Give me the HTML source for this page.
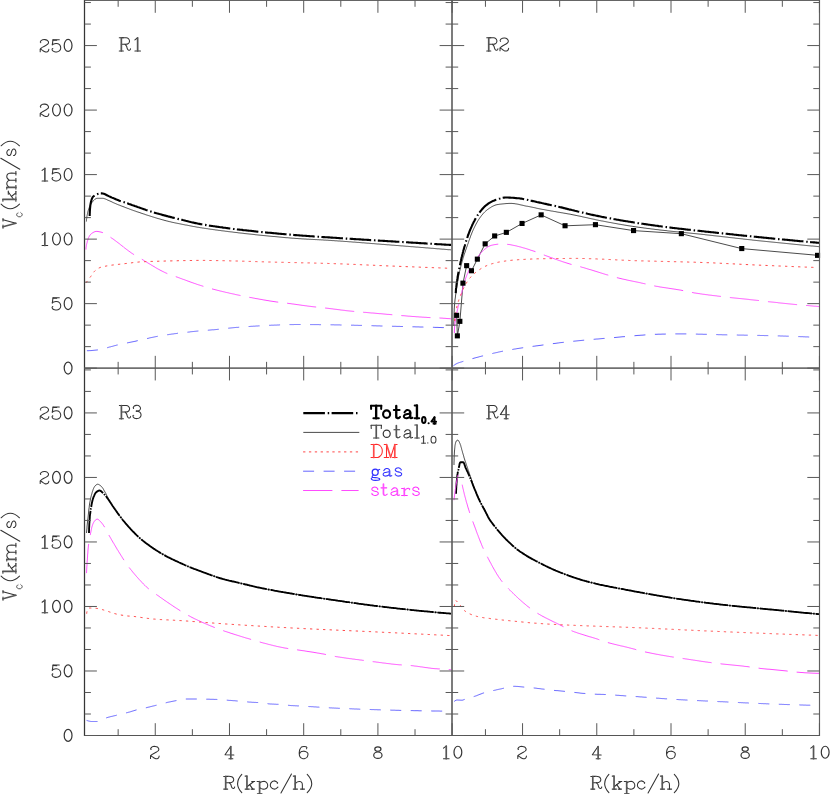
<!DOCTYPE html>
<html><head><meta charset="utf-8"><title>Rotation curves</title>
<style>
html,body{margin:0;padding:0;background:#fff;}
body{width:830px;height:794px;overflow:hidden;font-family:"Liberation Serif",serif;}
svg{display:block;will-change:transform;}
</style></head><body>
<svg width="830" height="794" viewBox="0 0 830 794">
<rect width="830" height="794" fill="#fff"/>
<path d="M86.4 221.5 L86.5 220.5 L86.5 219.5 L86.7 218.5 L86.8 217.5 L86.9 216.5 L87.1 215.5 L87.3 214.5 L87.5 213.5 L87.7 212.5 L87.9 211.6 L88.2 210.6 L88.5 209.6 L88.8 208.7 L89.2 207.7 L89.6 206.8 L90.0 205.9 L90.4 205.0 L90.9 204.1 L91.4 203.2 L92.0 202.4 L92.6 201.6 L93.3 200.8 L94.0 200.2 L94.8 199.4 L95.7 198.8 L96.6 198.4 L97.5 198.3 L98.5 198.3 L99.5 198.3 L100.5 198.3 L101.5 198.3 L102.5 198.3 L103.5 198.4 L104.5 198.7 L105.4 199.0 L106.4 199.4 L107.3 199.9 L108.2 200.3 L109.2 200.7 L110.1 201.1 L111.0 201.5 L111.9 201.9 L112.8 202.4 L113.7 202.8 L114.6 203.2 L115.6 203.6 L116.5 204.0 L117.4 204.4 L118.4 204.8 L119.3 205.1 L120.2 205.5 L121.2 205.9 L122.1 206.2 L123.0 206.6 L124.0 206.9 L124.9 207.3 L125.8 207.7 L126.8 208.0 L127.7 208.4 L128.7 208.7 L129.6 209.1 L130.5 209.4 L131.5 209.8 L132.4 210.1 L133.4 210.5 L134.3 210.8 L135.3 211.1 L136.2 211.5 L137.2 211.8 L138.1 212.1 L139.1 212.4 L140.0 212.7 L141.0 213.1 L141.9 213.4 L142.9 213.7 L143.8 214.0 L144.8 214.3 L145.7 214.7 L146.7 215.0 L147.7 215.3 L148.6 215.6 L149.6 215.9 L150.5 216.2 L151.5 216.5 L152.4 216.8 L153.4 217.1 L154.4 217.4 L155.3 217.7 L156.3 218.0 L157.2 218.3 L158.2 218.6 L159.2 218.8 L160.1 219.1 L161.1 219.4 L162.1 219.7 L163.0 219.9 L164.0 220.2 L165.0 220.5 L166.0 220.7 L166.9 221.0 L167.9 221.2 L168.9 221.5 L169.8 221.7 L170.8 221.9 L171.8 222.2 L172.8 222.4 L173.8 222.6 L174.7 222.8 L175.7 223.0 L176.7 223.2 L177.7 223.4 L178.7 223.6 L179.7 223.8 L180.7 224.0 L181.6 224.2 L182.6 224.4 L183.6 224.6 L184.6 224.8 L185.6 225.0 L186.6 225.1 L187.6 225.3 L188.5 225.5 L189.5 225.7 L190.5 225.9 L191.5 226.1 L192.5 226.3 L193.5 226.5 L194.5 226.6 L195.5 226.8 L196.4 227.0 L197.4 227.2 L198.4 227.3 L199.4 227.5 L200.4 227.7 L201.4 227.8 L202.4 228.0 L203.4 228.1 L204.4 228.3 L205.4 228.4 L206.4 228.6 L207.4 228.7 L208.4 228.9 L209.3 229.0 L210.3 229.2 L211.3 229.3 L212.3 229.4 L213.3 229.6 L214.3 229.7 L215.3 229.9 L216.3 230.0 L217.3 230.1 L218.3 230.3 L219.3 230.4 L220.3 230.5 L221.3 230.7 L222.3 230.8 L223.3 230.9 L224.3 231.0 L225.3 231.2 L226.3 231.3 L227.3 231.4 L228.3 231.6 L229.3 231.7 L230.3 231.8 L231.3 231.9 L232.3 232.0 L233.3 232.2 L234.2 232.3 L235.2 232.4 L236.2 232.5 L237.2 232.6 L238.2 232.8 L239.2 232.9 L240.2 233.0 L241.2 233.1 L242.2 233.2 L243.2 233.3 L244.2 233.5 L245.2 233.6 L246.2 233.7 L247.2 233.8 L248.2 233.9 L249.2 234.0 L250.2 234.1 L251.2 234.2 L252.2 234.3 L253.2 234.4 L254.2 234.5 L255.2 234.7 L256.2 234.8 L257.2 234.9 L258.2 235.0 L259.2 235.1 L260.2 235.2 L261.2 235.3 L262.2 235.4 L263.2 235.5 L264.2 235.6 L265.2 235.7 L266.2 235.8 L267.2 235.9 L268.2 236.0 L269.2 236.1 L270.2 236.2 L271.2 236.3 L272.2 236.4 L273.2 236.5 L274.2 236.5 L275.2 236.6 L276.2 236.7 L277.2 236.8 L278.2 236.9 L279.2 237.0 L280.2 237.1 L281.2 237.2 L282.2 237.3 L283.2 237.4 L284.2 237.5 L285.2 237.6 L286.2 237.7 L287.2 237.7 L288.2 237.8 L289.2 237.9 L290.2 238.0 L291.2 238.1 L292.2 238.2 L293.2 238.2 L294.2 238.3 L295.2 238.4 L296.2 238.5 L297.2 238.5 L298.2 238.6 L299.2 238.7 L300.2 238.7 L301.2 238.8 L302.2 238.9 L303.2 238.9 L304.2 239.0 L305.2 239.0 L306.2 239.1 L307.2 239.2 L308.3 239.2 L309.3 239.3 L310.3 239.3 L311.3 239.4 L312.3 239.4 L313.3 239.5 L314.3 239.5 L315.3 239.6 L316.3 239.6 L317.3 239.7 L318.3 239.7 L319.3 239.8 L320.3 239.8 L321.3 239.9 L322.3 239.9 L323.3 240.0 L324.3 240.1 L325.3 240.1 L326.3 240.2 L327.3 240.2 L328.3 240.3 L329.3 240.4 L330.3 240.4 L331.3 240.5 L332.3 240.6 L333.3 240.6 L334.3 240.7 L335.3 240.8 L336.3 240.8 L337.3 240.9 L338.3 241.0 L339.3 241.0 L340.3 241.1 L341.3 241.2 L342.3 241.2 L343.3 241.3 L344.3 241.4 L345.4 241.5 L346.4 241.5 L347.4 241.6 L348.4 241.7 L349.4 241.8 L350.4 241.8 L351.4 241.9 L352.4 242.0 L353.4 242.1 L354.4 242.1 L355.4 242.2 L356.4 242.3 L357.4 242.4 L358.4 242.4 L359.4 242.5 L360.4 242.6 L361.4 242.7 L362.4 242.8 L363.4 242.8 L364.4 242.9 L365.4 243.0 L366.4 243.1 L367.4 243.2 L368.4 243.2 L369.4 243.3 L370.4 243.4 L371.4 243.5 L372.4 243.6 L373.4 243.6 L374.4 243.7 L375.4 243.8 L376.4 243.9 L377.4 244.0 L378.4 244.0 L379.4 244.1 L380.4 244.2 L381.4 244.3 L382.4 244.4 L383.4 244.4 L384.4 244.5 L385.4 244.6 L386.4 244.7 L387.4 244.8 L388.4 244.8 L389.4 244.9 L390.4 245.0 L391.4 245.1 L392.4 245.2 L393.4 245.2 L394.4 245.3 L395.4 245.4 L396.4 245.5 L397.4 245.5 L398.4 245.6 L399.4 245.7 L400.4 245.8 L401.4 245.9 L402.4 245.9 L403.4 246.0 L404.4 246.1 L405.4 246.2 L406.4 246.3 L407.4 246.3 L408.4 246.4 L409.4 246.5 L410.4 246.6 L411.4 246.7 L412.5 246.7 L413.5 246.8 L414.5 246.9 L415.5 247.0 L416.5 247.1 L417.5 247.1 L418.5 247.2 L419.5 247.3 L420.5 247.4 L421.5 247.5 L422.5 247.5 L423.5 247.6 L424.5 247.7 L425.5 247.8 L426.5 247.9 L427.5 247.9 L428.5 248.0 L429.5 248.1 L430.5 248.2 L431.5 248.3 L432.5 248.3 L433.5 248.4 L434.5 248.5 L435.5 248.6 L436.5 248.7 L437.5 248.8 L438.5 248.8 L439.5 248.9 L440.5 249.0 L441.5 249.1 L442.5 249.2 L443.5 249.2 L444.5 249.3 L445.5 249.4 L446.5 249.5 L447.5 249.6 L448.5 249.7 L449.5 249.7 L450.5 249.8 L451.5 249.9" fill="none" stroke="#2a2a2a" stroke-width="0.85"/>
<path d="M89.7 215.9 L89.7 214.9 L89.7 213.9 L89.8 212.9 L89.8 211.8 L89.9 210.8 L89.9 209.8 L90.0 208.8 L90.1 207.8 L90.2 206.9 L90.3 205.9 L90.4 204.9 L90.6 203.8 L90.8 202.8 L91.0 201.7 L91.3 200.7 L91.6 199.7 L91.9 198.8 L92.3 197.9 L92.7 197.1 L93.3 196.5 L94.2 195.9 L95.1 195.3 L96.0 194.8 L96.9 194.4 L97.8 194.0 L98.8 193.8 L99.8 193.6 L100.8 193.4 L101.7 193.4 L102.7 193.5 L103.7 193.8 L104.6 194.1 L105.5 194.5 L106.5 195.0 L107.4 195.5 L108.3 195.9 L109.2 196.4 L110.2 196.8 L111.1 197.2 L112.0 197.6 L113.0 198.0 L113.9 198.4 L114.8 198.8 L115.7 199.2 L116.6 199.6 L117.6 199.9 L118.5 200.3 L119.4 200.7 L120.4 201.1 L121.3 201.4 L122.3 201.7 L123.2 202.0 L124.2 202.3 L125.1 202.6 L126.1 203.0 L127.0 203.3 L128.0 203.6 L128.9 204.0 L129.9 204.3 L130.8 204.6 L131.8 205.0 L132.7 205.3 L133.7 205.6 L134.6 206.0 L135.6 206.3 L136.5 206.6 L137.5 207.0 L138.4 207.3 L139.4 207.6 L140.3 207.9 L141.3 208.3 L142.2 208.6 L143.2 208.9 L144.1 209.2 L145.1 209.6 L146.0 209.9 L147.0 210.2 L147.9 210.5 L148.9 210.9 L149.8 211.2 L150.8 211.5 L151.7 211.8 L152.7 212.1 L153.6 212.4 L154.6 212.7 L155.6 213.0 L156.5 213.3 L157.5 213.5 L158.5 213.8 L159.4 214.1 L160.4 214.3 L161.4 214.6 L162.3 214.9 L163.3 215.1 L164.3 215.4 L165.3 215.6 L166.2 215.9 L167.2 216.1 L168.2 216.4 L169.1 216.6 L170.1 216.9 L171.1 217.1 L172.1 217.4 L173.0 217.6 L174.0 217.9 L175.0 218.1 L176.0 218.4 L176.9 218.6 L177.9 218.9 L178.9 219.1 L179.8 219.3 L180.8 219.6 L181.8 219.8 L182.8 220.1 L183.7 220.3 L184.7 220.5 L185.7 220.8 L186.7 221.0 L187.7 221.2 L188.6 221.5 L189.6 221.7 L190.6 222.0 L191.6 222.2 L192.5 222.4 L193.5 222.6 L194.5 222.9 L195.5 223.1 L196.5 223.3 L197.4 223.5 L198.4 223.7 L199.4 223.9 L200.4 224.1 L201.4 224.3 L202.4 224.4 L203.4 224.6 L204.3 224.8 L205.3 224.9 L206.3 225.1 L207.3 225.3 L208.3 225.4 L209.3 225.6 L210.3 225.7 L211.3 225.9 L212.3 226.0 L213.3 226.2 L214.3 226.3 L215.3 226.5 L216.3 226.6 L217.3 226.8 L218.2 226.9 L219.2 227.0 L220.2 227.2 L221.2 227.3 L222.2 227.4 L223.2 227.6 L224.2 227.7 L225.2 227.8 L226.2 228.0 L227.2 228.1 L228.2 228.2 L229.2 228.4 L230.2 228.5 L231.2 228.6 L232.2 228.7 L233.2 228.9 L234.2 229.0 L235.2 229.1 L236.2 229.2 L237.2 229.4 L238.2 229.5 L239.2 229.6 L240.2 229.7 L241.2 229.8 L242.2 229.9 L243.2 230.1 L244.2 230.2 L245.2 230.3 L246.2 230.4 L247.2 230.5 L248.2 230.6 L249.2 230.7 L250.2 230.8 L251.2 230.9 L252.2 231.0 L253.1 231.1 L254.1 231.3 L255.1 231.4 L256.1 231.5 L257.1 231.6 L258.1 231.7 L259.1 231.8 L260.1 231.9 L261.1 232.0 L262.1 232.1 L263.1 232.2 L264.1 232.3 L265.1 232.4 L266.1 232.5 L267.1 232.6 L268.1 232.7 L269.1 232.8 L270.1 232.8 L271.1 232.9 L272.1 233.0 L273.1 233.1 L274.1 233.2 L275.1 233.3 L276.1 233.4 L277.1 233.5 L278.1 233.6 L279.1 233.7 L280.1 233.8 L281.1 233.9 L282.1 234.0 L283.1 234.0 L284.1 234.1 L285.1 234.2 L286.1 234.3 L287.1 234.4 L288.1 234.5 L289.1 234.6 L290.1 234.6 L291.1 234.7 L292.1 234.8 L293.1 234.9 L294.1 235.0 L295.1 235.1 L296.1 235.1 L297.2 235.2 L298.2 235.3 L299.2 235.4 L300.2 235.5 L301.2 235.5 L302.2 235.6 L303.2 235.7 L304.2 235.7 L305.2 235.8 L306.2 235.9 L307.2 236.0 L308.2 236.0 L309.2 236.1 L310.2 236.2 L311.2 236.2 L312.2 236.3 L313.2 236.4 L314.2 236.5 L315.2 236.5 L316.2 236.6 L317.2 236.7 L318.2 236.7 L319.2 236.8 L320.2 236.9 L321.2 236.9 L322.2 237.0 L323.2 237.1 L324.2 237.1 L325.2 237.2 L326.2 237.2 L327.2 237.3 L328.2 237.4 L329.2 237.4 L330.2 237.5 L331.2 237.6 L332.2 237.6 L333.2 237.7 L334.2 237.8 L335.2 237.8 L336.2 237.9 L337.2 238.0 L338.2 238.0 L339.2 238.1 L340.2 238.2 L341.2 238.2 L342.2 238.3 L343.2 238.4 L344.2 238.4 L345.2 238.5 L346.2 238.6 L347.2 238.6 L348.3 238.7 L349.3 238.7 L350.3 238.8 L351.3 238.9 L352.3 238.9 L353.3 239.0 L354.3 239.1 L355.3 239.1 L356.3 239.2 L357.3 239.2 L358.3 239.3 L359.3 239.4 L360.3 239.4 L361.3 239.5 L362.3 239.6 L363.3 239.6 L364.3 239.7 L365.3 239.7 L366.3 239.8 L367.3 239.9 L368.3 239.9 L369.3 240.0 L370.3 240.1 L371.3 240.1 L372.3 240.2 L373.3 240.2 L374.3 240.3 L375.3 240.4 L376.3 240.4 L377.3 240.5 L378.3 240.6 L379.3 240.6 L380.3 240.7 L381.3 240.7 L382.3 240.8 L383.3 240.9 L384.3 240.9 L385.3 241.0 L386.3 241.0 L387.3 241.1 L388.3 241.2 L389.3 241.2 L390.4 241.3 L391.4 241.4 L392.4 241.4 L393.4 241.5 L394.4 241.5 L395.4 241.6 L396.4 241.7 L397.4 241.7 L398.4 241.8 L399.4 241.8 L400.4 241.9 L401.4 242.0 L402.4 242.0 L403.4 242.1 L404.4 242.2 L405.4 242.2 L406.4 242.3 L407.4 242.3 L408.4 242.4 L409.4 242.5 L410.4 242.5 L411.4 242.6 L412.4 242.6 L413.4 242.7 L414.4 242.8 L415.4 242.8 L416.4 242.9 L417.4 242.9 L418.4 243.0 L419.4 243.1 L420.4 243.1 L421.4 243.2 L422.4 243.3 L423.4 243.3 L424.4 243.4 L425.4 243.4 L426.4 243.5 L427.4 243.6 L428.4 243.6 L429.4 243.7 L430.4 243.7 L431.5 243.8 L432.5 243.9 L433.5 243.9 L434.5 244.0 L435.5 244.0 L436.5 244.1 L437.5 244.2 L438.5 244.2 L439.5 244.3 L440.5 244.3 L441.5 244.4 L442.5 244.5 L443.5 244.5 L444.5 244.6 L445.5 244.6 L446.5 244.7 L447.5 244.8 L448.5 244.8 L449.5 244.9 L450.5 244.9 L451.5 245.0" fill="none" stroke="#000" stroke-width="2.1" stroke-dasharray="21.6 2.8 1.5 2.4"/>
<path d="M86.0 249.5 L86.0 248.5 L86.1 247.4 L86.3 246.4 L86.4 245.4 L86.6 244.4 L86.8 243.5 L87.1 242.5 L87.3 241.5 L87.6 240.6 L87.9 239.6 L88.2 238.6 L88.6 237.6 L89.1 236.7 L89.6 235.8 L90.1 235.0 L90.7 234.3 L91.4 233.7 L92.2 233.1 L93.1 232.5 L94.1 232.0 L95.1 231.6 L96.1 231.4 L97.0 231.4 L98.0 231.5 L99.0 231.7 L100.0 231.9 L101.0 232.1 L102.0 232.4 L103.0 232.7 L103.9 233.0 L104.7 233.5 L105.6 234.0 L106.5 234.5 L107.3 235.1 L108.2 235.7 L109.0 236.3 L109.8 236.9 L110.7 237.4 L111.5 238.0 L112.3 238.5 L113.2 239.1 L114.0 239.7 L114.8 240.3 L115.6 240.9 L116.4 241.5 L117.2 242.1 L118.0 242.7 L118.8 243.3 L119.6 243.9 L120.4 244.6 L121.2 245.2 L122.0 245.8 L122.8 246.4 L123.5 247.1 L124.3 247.7 L125.1 248.3 L125.9 248.9 L126.7 249.5 L127.5 250.1 L128.3 250.7 L129.1 251.3 L130.0 251.9 L130.8 252.5 L131.6 253.1 L132.4 253.6 L133.3 254.2 L134.1 254.7 L135.0 255.3 L135.8 255.8 L136.7 256.3 L137.5 256.8 L138.4 257.3 L139.3 257.8 L140.2 258.3 L141.0 258.8 L141.9 259.3 L142.8 259.8 L143.6 260.3 L144.5 260.9 L145.4 261.4 L146.2 261.9 L147.1 262.4 L147.9 263.0 L148.8 263.5 L149.7 264.0 L150.5 264.5 L151.4 265.1 L152.3 265.6 L153.1 266.1 L154.0 266.6 L154.9 267.1 L155.7 267.7 L156.6 268.2 L157.5 268.7 L158.4 269.2 L159.2 269.6 L160.1 270.1 L161.0 270.6 L161.9 271.0 L162.8 271.5 L163.7 271.9 L164.6 272.4 L165.5 272.8 L166.4 273.2 L167.3 273.6 L168.2 273.9 L169.2 274.3 L170.1 274.6 L171.1 275.0 L172.0 275.3 L173.0 275.6 L173.9 276.0 L174.9 276.3 L175.8 276.6 L176.8 277.0 L177.7 277.3 L178.7 277.7 L179.6 278.0 L180.5 278.4 L181.5 278.7 L182.4 279.1 L183.4 279.4 L184.3 279.7 L185.3 280.1 L186.2 280.4 L187.1 280.8 L188.1 281.1 L189.0 281.5 L190.0 281.8 L190.9 282.2 L191.9 282.5 L192.8 282.8 L193.8 283.2 L194.7 283.5 L195.7 283.8 L196.6 284.2 L197.6 284.5 L198.5 284.8 L199.5 285.1 L200.4 285.4 L201.4 285.7 L202.3 286.0 L203.3 286.3 L204.2 286.6 L205.2 286.9 L206.2 287.2 L207.1 287.5 L208.1 287.8 L209.1 288.1 L210.0 288.3 L211.0 288.6 L212.0 288.9 L212.9 289.1 L213.9 289.4 L214.9 289.6 L215.9 289.9 L216.8 290.1 L217.8 290.4 L218.8 290.6 L219.8 290.9 L220.7 291.1 L221.7 291.3 L222.7 291.6 L223.7 291.8 L224.6 292.0 L225.6 292.3 L226.6 292.5 L227.6 292.7 L228.6 292.9 L229.5 293.2 L230.5 293.4 L231.5 293.6 L232.5 293.8 L233.5 294.0 L234.4 294.2 L235.4 294.5 L236.4 294.7 L237.4 294.9 L238.4 295.1 L239.4 295.3 L240.3 295.5 L241.3 295.7 L242.3 295.9 L243.3 296.1 L244.3 296.3 L245.3 296.5 L246.3 296.7 L247.2 296.9 L248.2 297.1 L249.2 297.3 L250.2 297.5 L251.2 297.6 L252.2 297.8 L253.2 298.0 L254.2 298.2 L255.1 298.4 L256.1 298.6 L257.1 298.7 L258.1 298.9 L259.1 299.1 L260.1 299.3 L261.1 299.4 L262.1 299.6 L263.1 299.8 L264.0 300.0 L265.0 300.1 L266.0 300.3 L267.0 300.5 L268.0 300.6 L269.0 300.8 L270.0 301.0 L271.0 301.1 L272.0 301.3 L273.0 301.4 L274.0 301.6 L275.0 301.7 L276.0 301.9 L276.9 302.0 L277.9 302.1 L278.9 302.3 L279.9 302.4 L280.9 302.5 L281.9 302.6 L282.9 302.7 L283.9 302.8 L284.9 303.0 L285.9 303.1 L286.9 303.2 L287.9 303.3 L288.9 303.5 L289.9 303.6 L290.9 303.7 L291.9 303.9 L292.9 304.0 L293.9 304.1 L294.9 304.3 L295.9 304.4 L296.9 304.6 L297.9 304.7 L298.9 304.8 L299.9 305.0 L300.9 305.1 L301.9 305.3 L302.8 305.4 L303.8 305.5 L304.8 305.7 L305.8 305.8 L306.8 305.9 L307.8 306.1 L308.8 306.2 L309.8 306.3 L310.8 306.4 L311.8 306.6 L312.8 306.7 L313.8 306.8 L314.8 306.9 L315.8 307.0 L316.8 307.1 L317.8 307.3 L318.8 307.4 L319.8 307.5 L320.8 307.6 L321.8 307.7 L322.8 307.8 L323.8 307.9 L324.8 308.0 L325.8 308.1 L326.8 308.2 L327.8 308.3 L328.8 308.4 L329.8 308.6 L330.8 308.7 L331.8 308.8 L332.8 308.9 L333.8 309.1 L334.8 309.2 L335.8 309.3 L336.8 309.4 L337.8 309.6 L338.8 309.7 L339.8 309.8 L340.8 310.0 L341.7 310.1 L342.7 310.2 L343.7 310.3 L344.7 310.4 L345.7 310.6 L346.7 310.7 L347.7 310.8 L348.7 310.9 L349.7 311.0 L350.7 311.1 L351.7 311.2 L352.7 311.3 L353.7 311.4 L354.7 311.5 L355.7 311.6 L356.7 311.7 L357.7 311.8 L358.7 311.8 L359.7 311.9 L360.7 312.0 L361.7 312.1 L362.7 312.2 L363.7 312.3 L364.7 312.4 L365.7 312.4 L366.7 312.5 L367.7 312.6 L368.7 312.7 L369.7 312.8 L370.7 312.9 L371.7 313.0 L372.7 313.0 L373.8 313.1 L374.8 313.2 L375.8 313.3 L376.8 313.4 L377.8 313.5 L378.8 313.6 L379.8 313.7 L380.8 313.7 L381.8 313.8 L382.8 313.9 L383.8 314.0 L384.8 314.1 L385.8 314.2 L386.8 314.3 L387.8 314.4 L388.8 314.4 L389.8 314.5 L390.8 314.6 L391.8 314.7 L392.8 314.8 L393.8 314.9 L394.8 315.0 L395.8 315.1 L396.8 315.2 L397.8 315.3 L398.8 315.3 L399.8 315.4 L400.8 315.5 L401.8 315.6 L402.8 315.7 L403.8 315.7 L404.8 315.8 L405.8 315.9 L406.8 316.0 L407.8 316.1 L408.8 316.2 L409.8 316.2 L410.8 316.3 L411.8 316.4 L412.8 316.5 L413.8 316.5 L414.8 316.6 L415.8 316.7 L416.8 316.8 L417.8 316.8 L418.8 316.9 L419.8 317.0 L420.8 317.0 L421.8 317.1 L422.8 317.2 L423.8 317.2 L424.8 317.3 L425.8 317.3 L426.8 317.4 L427.8 317.5 L428.8 317.5 L429.8 317.6 L430.8 317.6 L431.8 317.6 L432.9 317.7 L433.9 317.7 L434.9 317.8 L435.9 317.8 L436.9 317.8 L437.9 317.9 L438.9 317.9 L439.9 318.0 L440.9 318.1 L441.9 318.1 L442.9 318.2 L443.9 318.3 L444.9 318.3 L445.9 318.4 L446.9 318.5 L447.9 318.6 L448.9 318.6 L449.9 318.7 L450.9 318.8 L451.9 318.9" fill="none" stroke="#ff4cff" stroke-width="1" stroke-dasharray="29.3 9"/>
<path d="M86.0 282.8 L86.6 282.0 L87.2 281.2 L87.8 280.4 L88.4 279.6 L89.0 278.8 L89.6 278.0 L90.2 277.2 L90.8 276.4 L91.4 275.5 L92.0 274.7 L92.6 273.8 L93.1 273.0 L93.7 272.2 L94.4 271.4 L95.1 270.7 L95.8 270.1 L96.6 269.4 L97.4 268.8 L98.3 268.3 L99.2 267.9 L100.1 267.5 L101.0 267.2 L102.0 267.0 L102.9 266.7 L103.9 266.5 L104.9 266.3 L105.9 266.1 L106.9 265.9 L108.0 265.8 L109.0 265.6 L110.0 265.4 L110.9 265.3 L111.9 265.1 L112.9 265.0 L113.9 264.9 L114.9 264.8 L115.9 264.6 L116.9 264.5 L117.9 264.4 L118.9 264.3 L119.9 264.2 L120.9 264.1 L121.9 264.0 L122.9 263.9 L123.9 263.8 L124.9 263.6 L125.9 263.5 L126.9 263.4 L127.9 263.3 L128.9 263.2 L129.9 263.0 L130.9 262.9 L131.9 262.8 L132.9 262.6 L133.9 262.5 L134.9 262.4 L135.9 262.3 L136.9 262.2 L137.9 262.1 L138.9 262.0 L139.9 261.9 L140.9 261.9 L141.9 261.8 L142.9 261.8 L143.9 261.7 L144.9 261.7 L145.9 261.6 L146.9 261.6 L147.9 261.6 L148.9 261.5 L149.9 261.5 L150.9 261.4 L151.9 261.4 L152.9 261.4 L153.9 261.4 L155.0 261.3 L156.0 261.3 L157.0 261.3 L158.0 261.2 L159.0 261.2 L160.0 261.2 L161.0 261.1 L162.0 261.1 L163.0 261.1 L164.0 261.1 L165.0 261.0 L166.0 261.0 L167.0 261.0 L168.0 261.0 L169.0 260.9 L170.0 260.9 L171.0 260.9 L172.0 260.9 L173.0 260.8 L174.0 260.8 L175.0 260.8 L176.0 260.8 L177.0 260.8 L178.1 260.7 L179.1 260.7 L180.1 260.7 L181.1 260.7 L182.1 260.6 L183.1 260.6 L184.1 260.6 L185.1 260.6 L186.1 260.6 L187.1 260.5 L188.1 260.5 L189.1 260.5 L190.1 260.5 L191.1 260.5 L192.1 260.5 L193.1 260.4 L194.1 260.4 L195.1 260.4 L196.1 260.4 L197.1 260.4 L198.1 260.4 L199.2 260.4 L200.2 260.4 L201.2 260.4 L202.2 260.4 L203.2 260.4 L204.2 260.4 L205.2 260.4 L206.2 260.4 L207.2 260.4 L208.2 260.4 L209.2 260.5 L210.2 260.5 L211.2 260.5 L212.2 260.5 L213.2 260.5 L214.2 260.5 L215.2 260.6 L216.2 260.6 L217.2 260.6 L218.2 260.6 L219.2 260.6 L220.2 260.7 L221.3 260.7 L222.3 260.7 L223.3 260.7 L224.3 260.7 L225.3 260.8 L226.3 260.8 L227.3 260.8 L228.3 260.8 L229.3 260.8 L230.3 260.9 L231.3 260.9 L232.3 260.9 L233.3 260.9 L234.3 261.0 L235.3 261.0 L236.3 261.0 L237.3 261.0 L238.3 261.1 L239.3 261.1 L240.3 261.1 L241.3 261.1 L242.3 261.2 L243.4 261.2 L244.4 261.2 L245.4 261.3 L246.4 261.3 L247.4 261.3 L248.4 261.4 L249.4 261.4 L250.4 261.4 L251.4 261.5 L252.4 261.5 L253.4 261.5 L254.4 261.6 L255.4 261.6 L256.4 261.6 L257.4 261.7 L258.4 261.7 L259.4 261.7 L260.4 261.8 L261.4 261.8 L262.4 261.8 L263.4 261.8 L264.4 261.9 L265.4 261.9 L266.4 261.9 L267.5 262.0 L268.5 262.0 L269.5 262.0 L270.5 262.0 L271.5 262.1 L272.5 262.1 L273.5 262.1 L274.5 262.1 L275.5 262.2 L276.5 262.2 L277.5 262.2 L278.5 262.2 L279.5 262.3 L280.5 262.3 L281.5 262.3 L282.5 262.3 L283.5 262.3 L284.5 262.4 L285.5 262.4 L286.5 262.4 L287.5 262.4 L288.5 262.5 L289.6 262.5 L290.6 262.5 L291.6 262.5 L292.6 262.6 L293.6 262.6 L294.6 262.6 L295.6 262.6 L296.6 262.6 L297.6 262.7 L298.6 262.7 L299.6 262.7 L300.6 262.7 L301.6 262.8 L302.6 262.8 L303.6 262.8 L304.6 262.8 L305.6 262.9 L306.6 262.9 L307.6 262.9 L308.6 262.9 L309.6 262.9 L310.6 263.0 L311.7 263.0 L312.7 263.0 L313.7 263.0 L314.7 263.1 L315.7 263.1 L316.7 263.1 L317.7 263.1 L318.7 263.2 L319.7 263.2 L320.7 263.2 L321.7 263.3 L322.7 263.3 L323.7 263.3 L324.7 263.3 L325.7 263.4 L326.7 263.4 L327.7 263.4 L328.7 263.5 L329.7 263.5 L330.7 263.5 L331.7 263.6 L332.7 263.6 L333.7 263.6 L334.7 263.7 L335.8 263.7 L336.8 263.7 L337.8 263.8 L338.8 263.8 L339.8 263.8 L340.8 263.9 L341.8 263.9 L342.8 263.9 L343.8 264.0 L344.8 264.0 L345.8 264.1 L346.8 264.1 L347.8 264.2 L348.8 264.2 L349.8 264.2 L350.8 264.3 L351.8 264.3 L352.8 264.4 L353.8 264.4 L354.8 264.4 L355.8 264.5 L356.8 264.5 L357.8 264.6 L358.8 264.6 L359.8 264.7 L360.8 264.7 L361.9 264.8 L362.9 264.8 L363.9 264.8 L364.9 264.9 L365.9 264.9 L366.9 265.0 L367.9 265.0 L368.9 265.1 L369.9 265.1 L370.9 265.2 L371.9 265.2 L372.9 265.2 L373.9 265.3 L374.9 265.3 L375.9 265.4 L376.9 265.4 L377.9 265.5 L378.9 265.5 L379.9 265.6 L380.9 265.6 L381.9 265.6 L382.9 265.7 L383.9 265.7 L384.9 265.8 L385.9 265.8 L386.9 265.9 L388.0 265.9 L389.0 265.9 L390.0 266.0 L391.0 266.0 L392.0 266.1 L393.0 266.1 L394.0 266.1 L395.0 266.2 L396.0 266.2 L397.0 266.3 L398.0 266.3 L399.0 266.3 L400.0 266.4 L401.0 266.4 L402.0 266.5 L403.0 266.5 L404.0 266.5 L405.0 266.6 L406.0 266.6 L407.0 266.7 L408.0 266.7 L409.0 266.7 L410.0 266.8 L411.0 266.8 L412.0 266.8 L413.1 266.9 L414.1 266.9 L415.1 267.0 L416.1 267.0 L417.1 267.0 L418.1 267.1 L419.1 267.1 L420.1 267.2 L421.1 267.2 L422.1 267.2 L423.1 267.3 L424.1 267.3 L425.1 267.4 L426.1 267.4 L427.1 267.4 L428.1 267.5 L429.1 267.5 L430.1 267.5 L431.1 267.6 L432.1 267.6 L433.1 267.7 L434.1 267.7 L435.1 267.7 L436.1 267.8 L437.1 267.8 L438.2 267.8 L439.2 267.9 L440.2 267.9 L441.2 268.0 L442.2 268.0 L443.2 268.0 L444.2 268.1 L445.2 268.1 L446.2 268.2 L447.2 268.2 L448.2 268.2 L449.2 268.3 L450.2 268.3" fill="none" stroke="#ff4646" stroke-width="1.0" stroke-dasharray="2.3 4.25"/>
<path d="M86.9 350.7 L87.9 350.7 L88.9 350.7 L89.9 350.6 L90.9 350.6 L91.9 350.5 L92.9 350.4 L93.9 350.3 L94.9 350.2 L95.9 350.1 L96.9 350.0 L97.9 349.9 L98.9 349.8 L99.9 349.6 L100.8 349.3 L101.8 349.1 L102.8 348.8 L103.8 348.6 L104.7 348.3 L105.7 348.0 L106.7 347.8 L107.7 347.6 L108.6 347.3 L109.6 347.0 L110.6 346.8 L111.5 346.5 L112.5 346.3 L113.5 346.0 L114.5 345.7 L115.4 345.5 L116.4 345.2 L117.4 345.0 L118.4 344.8 L119.3 344.5 L120.3 344.3 L121.3 344.1 L122.3 343.9 L123.2 343.7 L124.2 343.5 L125.2 343.3 L126.2 343.1 L127.2 342.9 L128.2 342.7 L129.1 342.5 L130.1 342.3 L131.1 342.1 L132.1 341.9 L133.1 341.7 L134.1 341.5 L135.0 341.3 L136.0 341.1 L137.0 340.8 L138.0 340.6 L139.0 340.4 L139.9 340.2 L140.9 340.0 L141.9 339.7 L142.9 339.5 L143.9 339.3 L144.8 339.1 L145.8 338.8 L146.8 338.6 L147.8 338.4 L148.8 338.2 L149.7 337.9 L150.7 337.7 L151.7 337.5 L152.7 337.3 L153.7 337.1 L154.6 336.9 L155.6 336.7 L156.6 336.5 L157.6 336.3 L158.6 336.2 L159.6 336.0 L160.6 335.8 L161.5 335.7 L162.5 335.5 L163.5 335.3 L164.5 335.2 L165.5 335.0 L166.5 334.9 L167.5 334.7 L168.5 334.6 L169.5 334.4 L170.5 334.3 L171.5 334.1 L172.5 334.0 L173.5 333.9 L174.5 333.7 L175.5 333.6 L176.4 333.5 L177.4 333.3 L178.4 333.2 L179.4 333.1 L180.4 333.0 L181.4 332.9 L182.4 332.7 L183.4 332.6 L184.4 332.5 L185.4 332.4 L186.4 332.3 L187.4 332.2 L188.4 332.1 L189.4 332.0 L190.4 331.8 L191.4 331.7 L192.4 331.6 L193.4 331.5 L194.4 331.4 L195.4 331.3 L196.4 331.2 L197.4 331.1 L198.4 331.0 L199.4 331.0 L200.4 330.9 L201.4 330.8 L202.4 330.7 L203.4 330.6 L204.4 330.5 L205.4 330.4 L206.4 330.3 L207.4 330.3 L208.4 330.2 L209.4 330.1 L210.4 330.0 L211.4 329.9 L212.4 329.8 L213.4 329.8 L214.4 329.7 L215.4 329.6 L216.4 329.5 L217.4 329.4 L218.4 329.3 L219.4 329.2 L220.4 329.1 L221.4 329.0 L222.4 328.9 L223.4 328.8 L224.4 328.7 L225.4 328.6 L226.4 328.5 L227.4 328.4 L228.4 328.2 L229.4 328.1 L230.4 328.0 L231.4 327.9 L232.4 327.8 L233.4 327.7 L234.4 327.6 L235.4 327.5 L236.4 327.4 L237.4 327.4 L238.4 327.3 L239.4 327.2 L240.4 327.1 L241.4 327.0 L242.4 327.0 L243.4 326.9 L244.4 326.8 L245.4 326.7 L246.4 326.7 L247.4 326.6 L248.4 326.5 L249.4 326.5 L250.4 326.4 L251.4 326.3 L252.4 326.3 L253.4 326.2 L254.4 326.2 L255.4 326.1 L256.4 326.0 L257.4 326.0 L258.4 325.9 L259.4 325.9 L260.4 325.8 L261.4 325.7 L262.4 325.7 L263.4 325.6 L264.4 325.6 L265.4 325.5 L266.4 325.5 L267.4 325.4 L268.4 325.4 L269.4 325.3 L270.4 325.3 L271.4 325.2 L272.4 325.2 L273.4 325.2 L274.4 325.1 L275.4 325.1 L276.4 325.1 L277.4 325.0 L278.4 325.0 L279.4 324.9 L280.4 324.9 L281.4 324.9 L282.4 324.8 L283.4 324.8 L284.5 324.8 L285.5 324.7 L286.5 324.7 L287.5 324.7 L288.5 324.7 L289.5 324.6 L290.5 324.6 L291.5 324.6 L292.5 324.6 L293.5 324.6 L294.5 324.5 L295.5 324.5 L296.5 324.5 L297.5 324.5 L298.5 324.5 L299.5 324.5 L300.5 324.5 L301.5 324.5 L302.5 324.5 L303.5 324.5 L304.5 324.5 L305.5 324.5 L306.5 324.5 L307.5 324.5 L308.5 324.5 L309.5 324.5 L310.5 324.6 L311.5 324.6 L312.5 324.6 L313.5 324.6 L314.6 324.6 L315.6 324.6 L316.6 324.6 L317.6 324.6 L318.6 324.6 L319.6 324.7 L320.6 324.7 L321.6 324.7 L322.6 324.7 L323.6 324.7 L324.6 324.7 L325.6 324.7 L326.6 324.7 L327.6 324.8 L328.6 324.8 L329.6 324.8 L330.6 324.8 L331.6 324.8 L332.6 324.8 L333.6 324.8 L334.6 324.9 L335.6 324.9 L336.6 324.9 L337.6 324.9 L338.6 324.9 L339.6 324.9 L340.6 325.0 L341.6 325.0 L342.7 325.0 L343.7 325.0 L344.7 325.0 L345.7 325.1 L346.7 325.1 L347.7 325.1 L348.7 325.1 L349.7 325.2 L350.7 325.2 L351.7 325.2 L352.7 325.2 L353.7 325.2 L354.7 325.3 L355.7 325.3 L356.7 325.3 L357.7 325.3 L358.7 325.4 L359.7 325.4 L360.7 325.4 L361.7 325.4 L362.7 325.5 L363.7 325.5 L364.7 325.5 L365.7 325.6 L366.7 325.6 L367.7 325.6 L368.7 325.6 L369.7 325.7 L370.7 325.7 L371.7 325.7 L372.7 325.7 L373.8 325.8 L374.8 325.8 L375.8 325.8 L376.8 325.9 L377.8 325.9 L378.8 325.9 L379.8 325.9 L380.8 326.0 L381.8 326.0 L382.8 326.0 L383.8 326.0 L384.8 326.1 L385.8 326.1 L386.8 326.1 L387.8 326.1 L388.8 326.2 L389.8 326.2 L390.8 326.2 L391.8 326.2 L392.8 326.3 L393.8 326.3 L394.8 326.3 L395.8 326.3 L396.8 326.4 L397.8 326.4 L398.8 326.4 L399.8 326.4 L400.8 326.5 L401.8 326.5 L402.8 326.5 L403.8 326.5 L404.9 326.6 L405.9 326.6 L406.9 326.6 L407.9 326.7 L408.9 326.7 L409.9 326.7 L410.9 326.7 L411.9 326.8 L412.9 326.8 L413.9 326.8 L414.9 326.8 L415.9 326.9 L416.9 326.9 L417.9 326.9 L418.9 326.9 L419.9 327.0 L420.9 327.0 L421.9 327.0 L422.9 327.0 L423.9 327.1 L424.9 327.1 L425.9 327.1 L426.9 327.2 L427.9 327.2 L428.9 327.2 L429.9 327.2 L430.9 327.3 L431.9 327.3 L432.9 327.3 L433.9 327.3 L434.9 327.4 L436.0 327.4 L437.0 327.4 L438.0 327.4 L439.0 327.5 L440.0 327.5 L441.0 327.5 L442.0 327.6 L443.0 327.6 L444.0 327.6 L445.0 327.6 L446.0 327.7 L447.0 327.7 L448.0 327.7 L449.0 327.7 L450.0 327.8 L451.0 327.8" fill="none" stroke="#6464ff" stroke-width="1" stroke-dasharray="11 9.5"/>
<path d="M453.8 326.0 L453.8 325.0 L453.8 324.0 L453.8 323.0 L453.8 322.0 L453.9 321.0 L453.9 320.0 L453.9 319.0 L453.9 318.0 L454.0 317.0 L454.0 316.0 L454.0 315.0 L454.0 314.0 L454.1 313.0 L454.1 312.0 L454.2 311.0 L454.2 310.0 L454.2 309.0 L454.3 308.0 L454.4 307.0 L454.4 306.0 L454.5 305.0 L454.6 304.0 L454.7 303.0 L454.8 302.0 L454.9 301.0 L455.0 300.0 L455.1 299.0 L455.3 298.0 L455.4 297.0 L455.5 296.0 L455.6 295.0 L455.8 294.0 L455.9 293.0 L456.0 292.0 L456.1 291.0 L456.3 290.0 L456.4 289.0 L456.5 288.0 L456.7 287.0 L456.8 286.1 L457.0 285.1 L457.2 284.1 L457.3 283.1 L457.5 282.1 L457.7 281.1 L457.9 280.1 L458.0 279.1 L458.2 278.1 L458.4 277.2 L458.6 276.2 L458.8 275.2 L459.0 274.2 L459.2 273.2 L459.4 272.3 L459.6 271.3 L459.9 270.3 L460.1 269.3 L460.3 268.3 L460.6 267.4 L460.8 266.4 L461.1 265.4 L461.3 264.5 L461.6 263.5 L461.8 262.5 L462.1 261.6 L462.4 260.6 L462.7 259.6 L462.9 258.7 L463.2 257.7 L463.5 256.8 L463.8 255.8 L464.1 254.8 L464.4 253.9 L464.8 252.9 L465.1 252.0 L465.4 251.0 L465.7 250.1 L466.1 249.1 L466.4 248.2 L466.7 247.2 L467.1 246.3 L467.4 245.4 L467.7 244.4 L468.1 243.5 L468.4 242.5 L468.7 241.6 L469.0 240.6 L469.4 239.7 L469.7 238.7 L470.1 237.8 L470.4 236.8 L470.7 235.9 L471.1 234.9 L471.5 234.0 L471.8 233.1 L472.2 232.2 L472.6 231.2 L473.0 230.3 L473.4 229.4 L473.8 228.5 L474.3 227.6 L474.7 226.7 L475.2 225.8 L475.6 224.9 L476.1 224.0 L476.6 223.1 L477.1 222.2 L477.6 221.3 L478.1 220.5 L478.6 219.7 L479.2 218.8 L479.7 218.0 L480.3 217.2 L480.9 216.4 L481.5 215.6 L482.2 214.8 L482.8 214.0 L483.5 213.2 L484.2 212.5 L484.9 211.8 L485.7 211.1 L486.4 210.4 L487.2 209.8 L487.9 209.3 L488.8 208.7 L489.6 208.1 L490.5 207.6 L491.3 207.0 L492.2 206.5 L493.2 206.0 L494.1 205.6 L495.0 205.2 L496.0 204.9 L496.9 204.7 L497.9 204.5 L498.8 204.4 L499.8 204.2 L500.8 204.1 L501.8 204.0 L502.8 203.9 L503.8 203.8 L504.8 203.7 L505.9 203.6 L506.9 203.5 L507.9 203.5 L508.9 203.4 L509.9 203.4 L510.9 203.4 L511.9 203.4 L512.9 203.5 L513.9 203.6 L514.9 203.7 L515.8 203.9 L516.8 204.0 L517.8 204.2 L518.8 204.4 L519.8 204.7 L520.8 204.9 L521.8 205.1 L522.8 205.3 L523.7 205.5 L524.7 205.8 L525.7 206.0 L526.7 206.2 L527.7 206.3 L528.7 206.5 L529.7 206.7 L530.6 206.9 L531.6 207.1 L532.6 207.3 L533.6 207.5 L534.6 207.7 L535.5 207.9 L536.5 208.2 L537.5 208.4 L538.5 208.6 L539.5 208.8 L540.5 209.0 L541.4 209.2 L542.4 209.4 L543.4 209.5 L544.4 209.7 L545.4 209.9 L546.4 210.1 L547.3 210.3 L548.3 210.4 L549.3 210.6 L550.3 210.8 L551.3 211.0 L552.3 211.1 L553.3 211.3 L554.3 211.5 L555.2 211.6 L556.2 211.8 L557.2 212.0 L558.2 212.2 L559.2 212.3 L560.2 212.5 L561.2 212.7 L562.2 212.8 L563.2 213.0 L564.1 213.2 L565.1 213.3 L566.1 213.5 L567.1 213.7 L568.1 213.9 L569.1 214.0 L570.1 214.2 L571.0 214.4 L572.0 214.6 L573.0 214.8 L574.0 215.0 L575.0 215.2 L576.0 215.4 L576.9 215.6 L577.9 215.8 L578.9 216.0 L579.9 216.2 L580.9 216.4 L581.8 216.6 L582.8 216.9 L583.8 217.1 L584.8 217.3 L585.8 217.5 L586.7 217.7 L587.7 217.9 L588.7 218.2 L589.7 218.4 L590.7 218.6 L591.6 218.8 L592.6 219.0 L593.6 219.2 L594.6 219.4 L595.6 219.7 L596.5 219.9 L597.5 220.1 L598.5 220.3 L599.5 220.5 L600.5 220.7 L601.4 220.9 L602.4 221.0 L603.4 221.2 L604.4 221.4 L605.4 221.6 L606.4 221.8 L607.4 222.0 L608.3 222.2 L609.3 222.4 L610.3 222.5 L611.3 222.7 L612.3 222.9 L613.3 223.1 L614.3 223.3 L615.2 223.4 L616.2 223.6 L617.2 223.8 L618.2 224.0 L619.2 224.2 L620.2 224.3 L621.2 224.5 L622.2 224.7 L623.1 224.8 L624.1 225.0 L625.1 225.2 L626.1 225.3 L627.1 225.5 L628.1 225.7 L629.1 225.8 L630.1 226.0 L631.1 226.1 L632.1 226.3 L633.0 226.4 L634.0 226.6 L635.0 226.7 L636.0 226.9 L637.0 227.0 L638.0 227.2 L639.0 227.3 L640.0 227.4 L641.0 227.6 L642.0 227.7 L643.0 227.8 L644.0 228.0 L644.9 228.1 L645.9 228.2 L646.9 228.4 L647.9 228.5 L648.9 228.6 L649.9 228.7 L650.9 228.9 L651.9 229.0 L652.9 229.1 L653.9 229.2 L654.9 229.4 L655.9 229.5 L656.9 229.6 L657.9 229.7 L658.9 229.8 L659.9 230.0 L660.9 230.1 L661.9 230.2 L662.9 230.3 L663.9 230.4 L664.9 230.5 L665.9 230.6 L666.9 230.7 L667.8 230.9 L668.8 231.0 L669.8 231.1 L670.8 231.2 L671.8 231.3 L672.8 231.4 L673.8 231.5 L674.8 231.6 L675.8 231.7 L676.8 231.8 L677.8 231.9 L678.8 232.0 L679.8 232.1 L680.8 232.2 L681.8 232.3 L682.8 232.4 L683.8 232.5 L684.8 232.6 L685.8 232.7 L686.8 232.8 L687.8 232.9 L688.8 233.0 L689.8 233.1 L690.8 233.2 L691.8 233.3 L692.8 233.4 L693.8 233.5 L694.8 233.6 L695.8 233.7 L696.8 233.8 L697.8 233.9 L698.8 234.0 L699.8 234.1 L700.8 234.2 L701.8 234.3 L702.8 234.4 L703.7 234.5 L704.7 234.6 L705.7 234.8 L706.7 234.9 L707.7 235.0 L708.7 235.1 L709.7 235.2 L710.7 235.3 L711.7 235.4 L712.7 235.5 L713.7 235.7 L714.7 235.8 L715.7 235.9 L716.7 236.0 L717.7 236.1 L718.7 236.2 L719.7 236.3 L720.7 236.4 L721.7 236.6 L722.7 236.7 L723.7 236.8 L724.7 236.9 L725.7 237.0 L726.7 237.1 L727.7 237.2 L728.7 237.4 L729.6 237.5 L730.6 237.6 L731.6 237.7 L732.6 237.8 L733.6 237.9 L734.6 238.0 L735.6 238.2 L736.6 238.3 L737.6 238.4 L738.6 238.5 L739.6 238.6 L740.6 238.7 L741.6 238.8 L742.6 238.9 L743.6 239.1 L744.6 239.2 L745.6 239.3 L746.6 239.4 L747.6 239.5 L748.6 239.6 L749.6 239.7 L750.6 239.8 L751.6 239.9 L752.6 240.1 L753.6 240.2 L754.6 240.3 L755.6 240.4 L756.5 240.5 L757.5 240.6 L758.5 240.7 L759.5 240.8 L760.5 240.9 L761.5 241.0 L762.5 241.1 L763.5 241.2 L764.5 241.3 L765.5 241.4 L766.5 241.5 L767.5 241.6 L768.5 241.7 L769.5 241.8 L770.5 241.9 L771.5 242.0 L772.5 242.1 L773.5 242.2 L774.5 242.3 L775.5 242.4 L776.5 242.5 L777.5 242.6 L778.5 242.7 L779.5 242.8 L780.5 242.9 L781.5 243.0 L782.5 243.1 L783.5 243.2 L784.5 243.3 L785.5 243.4 L786.5 243.5 L787.5 243.6 L788.5 243.7 L789.5 243.8 L790.5 243.9 L791.5 244.0 L792.5 244.1 L793.5 244.2 L794.4 244.3 L795.4 244.4 L796.4 244.5 L797.4 244.6 L798.4 244.7 L799.4 244.8 L800.4 244.9 L801.4 245.0 L802.4 245.1 L803.4 245.2 L804.4 245.3 L805.4 245.4 L806.4 245.5 L807.4 245.6 L808.4 245.7 L809.4 245.8 L810.4 245.9 L811.4 246.0 L812.4 246.0 L813.4 246.1 L814.4 246.2 L815.4 246.3 L816.4 246.4 L817.4 246.5 L818.4 246.6 L819.4 246.7" fill="none" stroke="#2a2a2a" stroke-width="0.85"/>
<path d="M455.7 293.2 L455.8 292.2 L455.9 291.2 L455.9 290.2 L456.0 289.2 L456.1 288.2 L456.3 287.2 L456.4 286.2 L456.5 285.2 L456.6 284.2 L456.7 283.2 L456.9 282.2 L457.0 281.2 L457.2 280.2 L457.3 279.2 L457.5 278.2 L457.6 277.3 L457.8 276.3 L457.9 275.3 L458.1 274.3 L458.3 273.3 L458.5 272.3 L458.7 271.3 L458.9 270.4 L459.1 269.4 L459.3 268.4 L459.5 267.4 L459.7 266.4 L459.9 265.4 L460.1 264.5 L460.3 263.5 L460.5 262.5 L460.7 261.5 L461.0 260.5 L461.2 259.6 L461.4 258.6 L461.6 257.6 L461.9 256.6 L462.1 255.7 L462.3 254.7 L462.6 253.7 L462.8 252.7 L463.1 251.8 L463.3 250.8 L463.6 249.8 L463.9 248.9 L464.1 247.9 L464.4 246.9 L464.7 246.0 L465.0 245.0 L465.2 244.0 L465.5 243.1 L465.8 242.1 L466.1 241.2 L466.4 240.2 L466.7 239.2 L467.1 238.3 L467.4 237.3 L467.7 236.4 L468.0 235.4 L468.4 234.5 L468.7 233.6 L469.1 232.6 L469.5 231.7 L469.8 230.7 L470.2 229.8 L470.6 228.9 L471.0 228.0 L471.4 227.1 L471.8 226.2 L472.2 225.2 L472.6 224.3 L473.1 223.4 L473.5 222.5 L474.0 221.6 L474.5 220.7 L474.9 219.8 L475.4 218.9 L475.9 218.1 L476.4 217.2 L477.0 216.4 L477.5 215.5 L478.0 214.7 L478.6 213.9 L479.2 213.0 L479.8 212.2 L480.4 211.4 L481.0 210.6 L481.6 209.8 L482.3 209.0 L483.0 208.2 L483.7 207.5 L484.4 206.8 L485.1 206.1 L485.8 205.5 L486.6 204.9 L487.4 204.3 L488.2 203.7 L489.0 203.1 L489.9 202.6 L490.8 202.1 L491.7 201.6 L492.6 201.1 L493.5 200.7 L494.4 200.4 L495.3 200.0 L496.3 199.7 L497.2 199.3 L498.2 199.0 L499.2 198.7 L500.2 198.4 L501.1 198.1 L502.1 197.9 L503.1 197.7 L504.1 197.6 L505.1 197.5 L506.1 197.5 L507.1 197.5 L508.1 197.5 L509.1 197.6 L510.1 197.6 L511.1 197.7 L512.1 197.7 L513.1 197.8 L514.1 197.9 L515.1 198.0 L516.1 198.1 L517.1 198.2 L518.1 198.2 L519.1 198.3 L520.1 198.5 L521.1 198.6 L522.1 198.8 L523.1 199.0 L524.1 199.2 L525.0 199.4 L526.0 199.6 L527.0 199.8 L528.0 200.0 L529.0 200.3 L529.9 200.5 L530.9 200.7 L531.9 200.9 L532.9 201.1 L533.9 201.3 L534.9 201.5 L535.8 201.7 L536.8 202.0 L537.8 202.2 L538.8 202.4 L539.7 202.6 L540.7 202.8 L541.7 203.1 L542.7 203.3 L543.7 203.5 L544.6 203.7 L545.6 203.9 L546.6 204.1 L547.6 204.4 L548.6 204.6 L549.5 204.8 L550.5 205.0 L551.5 205.2 L552.5 205.4 L553.5 205.6 L554.4 205.8 L555.4 206.0 L556.4 206.3 L557.4 206.5 L558.4 206.7 L559.3 206.9 L560.3 207.2 L561.3 207.4 L562.3 207.6 L563.2 207.9 L564.2 208.1 L565.2 208.4 L566.2 208.6 L567.1 208.9 L568.1 209.1 L569.1 209.4 L570.0 209.6 L571.0 209.8 L572.0 210.1 L573.0 210.3 L573.9 210.5 L574.9 210.8 L575.9 211.0 L576.9 211.2 L577.9 211.5 L578.8 211.7 L579.8 211.9 L580.8 212.2 L581.8 212.4 L582.7 212.6 L583.7 212.9 L584.7 213.1 L585.7 213.3 L586.6 213.5 L587.6 213.8 L588.6 214.0 L589.6 214.2 L590.6 214.4 L591.5 214.7 L592.5 214.9 L593.5 215.1 L594.5 215.3 L595.5 215.5 L596.4 215.7 L597.4 215.9 L598.4 216.1 L599.4 216.3 L600.4 216.5 L601.4 216.7 L602.3 216.9 L603.3 217.1 L604.3 217.3 L605.3 217.5 L606.3 217.7 L607.3 217.9 L608.2 218.1 L609.2 218.2 L610.2 218.4 L611.2 218.6 L612.2 218.8 L613.2 219.0 L614.2 219.2 L615.1 219.3 L616.1 219.5 L617.1 219.7 L618.1 219.8 L619.1 220.0 L620.1 220.2 L621.1 220.4 L622.1 220.5 L623.1 220.7 L624.1 220.9 L625.0 221.0 L626.0 221.2 L627.0 221.3 L628.0 221.5 L629.0 221.7 L630.0 221.8 L631.0 222.0 L632.0 222.1 L633.0 222.3 L634.0 222.5 L634.9 222.6 L635.9 222.8 L636.9 222.9 L637.9 223.1 L638.9 223.2 L639.9 223.4 L640.9 223.5 L641.9 223.7 L642.9 223.8 L643.9 224.0 L644.9 224.1 L645.9 224.3 L646.8 224.4 L647.8 224.5 L648.8 224.7 L649.8 224.8 L650.8 225.0 L651.8 225.1 L652.8 225.3 L653.8 225.4 L654.8 225.5 L655.8 225.7 L656.8 225.8 L657.8 225.9 L658.8 226.1 L659.8 226.2 L660.8 226.3 L661.8 226.5 L662.8 226.6 L663.7 226.7 L664.7 226.9 L665.7 227.0 L666.7 227.1 L667.7 227.2 L668.7 227.4 L669.7 227.5 L670.7 227.6 L671.7 227.7 L672.7 227.9 L673.7 228.0 L674.7 228.1 L675.7 228.2 L676.7 228.3 L677.7 228.5 L678.7 228.6 L679.7 228.7 L680.7 228.8 L681.7 228.9 L682.7 229.0 L683.7 229.1 L684.7 229.2 L685.7 229.4 L686.7 229.5 L687.7 229.6 L688.6 229.7 L689.6 229.8 L690.6 229.9 L691.6 230.0 L692.6 230.1 L693.6 230.2 L694.6 230.4 L695.6 230.5 L696.6 230.6 L697.6 230.7 L698.6 230.8 L699.6 230.9 L700.6 231.0 L701.6 231.1 L702.6 231.2 L703.6 231.3 L704.6 231.5 L705.6 231.6 L706.6 231.7 L707.6 231.8 L708.6 231.9 L709.6 232.0 L710.6 232.1 L711.6 232.2 L712.6 232.3 L713.6 232.4 L714.6 232.5 L715.6 232.6 L716.6 232.8 L717.6 232.9 L718.6 233.0 L719.6 233.1 L720.6 233.2 L721.6 233.3 L722.6 233.4 L723.6 233.5 L724.6 233.6 L725.6 233.7 L726.5 233.8 L727.5 233.9 L728.5 234.0 L729.5 234.1 L730.5 234.2 L731.5 234.3 L732.5 234.4 L733.5 234.5 L734.5 234.7 L735.5 234.8 L736.5 234.9 L737.5 235.0 L738.5 235.1 L739.5 235.2 L740.5 235.3 L741.5 235.4 L742.5 235.5 L743.5 235.6 L744.5 235.7 L745.5 235.8 L746.5 235.9 L747.5 236.0 L748.5 236.1 L749.5 236.2 L750.5 236.3 L751.5 236.4 L752.5 236.5 L753.5 236.6 L754.5 236.7 L755.5 236.8 L756.5 236.9 L757.5 237.0 L758.5 237.1 L759.5 237.2 L760.5 237.3 L761.5 237.4 L762.5 237.5 L763.5 237.6 L764.5 237.7 L765.5 237.8 L766.5 237.9 L767.5 238.0 L768.5 238.1 L769.5 238.2 L770.5 238.3 L771.5 238.4 L772.5 238.5 L773.5 238.6 L774.5 238.7 L775.5 238.8 L776.5 238.9 L777.4 239.0 L778.4 239.1 L779.4 239.2 L780.4 239.3 L781.4 239.4 L782.4 239.5 L783.4 239.5 L784.4 239.6 L785.4 239.7 L786.4 239.8 L787.4 239.9 L788.4 240.0 L789.4 240.1 L790.4 240.2 L791.4 240.3 L792.4 240.4 L793.4 240.5 L794.4 240.6 L795.4 240.7 L796.4 240.8 L797.4 240.9 L798.4 241.0 L799.4 241.1 L800.4 241.2 L801.4 241.3 L802.4 241.3 L803.4 241.4 L804.4 241.5 L805.4 241.6 L806.4 241.7 L807.4 241.8 L808.4 241.9 L809.4 242.0 L810.4 242.1 L811.4 242.2 L812.4 242.3 L813.4 242.4 L814.4 242.4 L815.4 242.5 L816.4 242.6 L817.4 242.7 L818.4 242.8 L819.4 242.9" fill="none" stroke="#000" stroke-width="2.1" stroke-dasharray="21.6 2.8 1.5 2.4"/>
<path d="M456.6 315.3 L457.4 335.9 L459.9 321.4 L463.0 283.2 L466.6 265.6 L471.5 270.8 L477.4 259.1 L485.1 243.9 L494.6 236.0 L506.4 232.4 L522.0 223.5 L541.1 214.9 L565.0 225.8 L595.4 224.7 L633.5 230.6 L681.3 233.7 L741.7 248.6 L817.5 255.3" fill="none" stroke="#2a2a2a" stroke-width="0.85"/>
<path d="M454.4 333.0 L454.4 332.0 L454.4 331.0 L454.4 330.0 L454.5 329.0 L454.5 328.0 L454.6 327.0 L454.6 326.0 L454.7 325.0 L454.8 324.0 L455.0 323.0 L455.1 322.0 L455.3 321.0 L455.5 320.0 L455.7 319.0 L455.8 318.1 L456.0 317.1 L456.2 316.1 L456.4 315.1 L456.6 314.1 L456.8 313.1 L457.0 312.1 L457.2 311.2 L457.4 310.2 L457.6 309.2 L457.8 308.2 L458.0 307.2 L458.2 306.3 L458.5 305.3 L458.7 304.3 L459.0 303.3 L459.2 302.4 L459.5 301.4 L459.7 300.4 L460.0 299.5 L460.3 298.5 L460.5 297.5 L460.8 296.6 L461.0 295.6 L461.3 294.6 L461.5 293.6 L461.7 292.7 L462.0 291.7 L462.2 290.7 L462.4 289.7 L462.7 288.7 L462.9 287.8 L463.1 286.8 L463.4 285.8 L463.6 284.9 L463.9 283.9 L464.2 282.9 L464.5 282.0 L464.8 281.0 L465.1 280.1 L465.4 279.1 L465.7 278.2 L466.1 277.2 L466.4 276.3 L466.8 275.3 L467.2 274.4 L467.6 273.5 L468.0 272.6 L468.4 271.6 L468.8 270.7 L469.3 269.8 L469.7 269.0 L470.2 268.1 L470.7 267.2 L471.2 266.4 L471.7 265.5 L472.2 264.6 L472.8 263.8 L473.3 263.0 L473.9 262.1 L474.5 261.3 L475.1 260.5 L475.7 259.7 L476.3 258.9 L476.9 258.1 L477.5 257.3 L478.1 256.5 L478.7 255.7 L479.4 254.9 L480.0 254.1 L480.6 253.3 L481.3 252.5 L482.0 251.8 L482.7 251.1 L483.4 250.4 L484.1 249.7 L484.9 249.1 L485.7 248.5 L486.5 247.8 L487.3 247.2 L488.2 246.7 L489.1 246.2 L490.0 245.8 L490.9 245.5 L491.8 245.2 L492.8 245.0 L493.8 244.8 L494.8 244.6 L495.8 244.5 L496.8 244.3 L497.8 244.2 L498.8 244.1 L499.8 244.0 L500.8 244.0 L501.8 243.9 L502.8 243.9 L503.8 243.9 L504.8 244.0 L505.8 244.1 L506.8 244.3 L507.8 244.4 L508.8 244.5 L509.8 244.6 L510.8 244.8 L511.8 245.0 L512.7 245.2 L513.7 245.4 L514.7 245.6 L515.7 245.8 L516.7 246.0 L517.6 246.3 L518.6 246.5 L519.6 246.8 L520.6 247.0 L521.5 247.3 L522.5 247.6 L523.5 247.9 L524.4 248.1 L525.4 248.4 L526.4 248.7 L527.3 249.0 L528.3 249.3 L529.3 249.6 L530.2 250.0 L531.2 250.3 L532.1 250.6 L533.1 250.9 L534.0 251.2 L535.0 251.5 L535.9 251.8 L536.9 252.2 L537.8 252.5 L538.7 252.9 L539.7 253.3 L540.6 253.6 L541.5 254.0 L542.5 254.4 L543.4 254.8 L544.3 255.1 L545.3 255.5 L546.2 255.8 L547.2 256.2 L548.1 256.5 L549.0 256.9 L550.0 257.2 L550.9 257.6 L551.9 257.9 L552.8 258.2 L553.8 258.6 L554.7 258.9 L555.6 259.3 L556.6 259.6 L557.5 259.9 L558.5 260.3 L559.4 260.6 L560.4 260.9 L561.3 261.2 L562.3 261.6 L563.2 261.9 L564.2 262.2 L565.1 262.5 L566.1 262.8 L567.0 263.1 L568.0 263.4 L569.0 263.7 L569.9 264.0 L570.9 264.3 L571.8 264.5 L572.8 264.8 L573.8 265.1 L574.8 265.3 L575.7 265.5 L576.7 265.8 L577.7 266.0 L578.6 266.3 L579.6 266.5 L580.6 266.8 L581.5 267.1 L582.5 267.4 L583.5 267.6 L584.4 267.9 L585.4 268.2 L586.4 268.5 L587.3 268.8 L588.3 269.1 L589.2 269.4 L590.2 269.6 L591.2 269.9 L592.1 270.2 L593.1 270.5 L594.0 270.8 L595.0 271.1 L595.9 271.4 L596.9 271.7 L597.9 272.0 L598.8 272.3 L599.8 272.6 L600.7 272.9 L601.7 273.2 L602.7 273.5 L603.6 273.8 L604.6 274.1 L605.5 274.4 L606.5 274.7 L607.5 274.9 L608.4 275.2 L609.4 275.5 L610.3 275.8 L611.3 276.1 L612.3 276.4 L613.2 276.6 L614.2 276.9 L615.2 277.2 L616.1 277.5 L617.1 277.7 L618.1 277.9 L619.0 278.2 L620.0 278.4 L621.0 278.6 L622.0 278.9 L622.9 279.1 L623.9 279.3 L624.9 279.5 L625.9 279.7 L626.9 280.0 L627.8 280.2 L628.8 280.4 L629.8 280.6 L630.8 280.8 L631.8 281.0 L632.7 281.2 L633.7 281.4 L634.7 281.6 L635.7 281.8 L636.7 282.0 L637.7 282.2 L638.6 282.4 L639.6 282.6 L640.6 282.8 L641.6 283.1 L642.6 283.3 L643.5 283.5 L644.5 283.7 L645.5 283.9 L646.5 284.1 L647.5 284.4 L648.4 284.6 L649.4 284.8 L650.4 285.1 L651.4 285.3 L652.3 285.5 L653.3 285.7 L654.3 285.9 L655.3 286.1 L656.3 286.3 L657.3 286.4 L658.3 286.6 L659.2 286.8 L660.2 287.0 L661.2 287.1 L662.2 287.3 L663.2 287.4 L664.2 287.6 L665.2 287.7 L666.2 287.9 L667.2 288.0 L668.2 288.2 L669.1 288.3 L670.1 288.5 L671.1 288.6 L672.1 288.8 L673.1 288.9 L674.1 289.1 L675.1 289.2 L676.1 289.4 L677.1 289.6 L678.1 289.7 L679.1 289.9 L680.1 290.0 L681.0 290.2 L682.0 290.4 L683.0 290.6 L684.0 290.8 L685.0 291.0 L686.0 291.2 L686.9 291.4 L687.9 291.6 L688.9 291.8 L689.9 292.0 L690.9 292.2 L691.9 292.4 L692.8 292.6 L693.8 292.8 L694.8 293.0 L695.8 293.1 L696.8 293.3 L697.8 293.4 L698.8 293.6 L699.8 293.7 L700.7 293.9 L701.7 294.0 L702.7 294.2 L703.7 294.3 L704.7 294.4 L705.7 294.6 L706.7 294.7 L707.7 294.8 L708.7 295.0 L709.7 295.1 L710.7 295.2 L711.7 295.3 L712.7 295.5 L713.7 295.6 L714.7 295.7 L715.7 295.8 L716.7 295.9 L717.7 296.1 L718.7 296.2 L719.7 296.3 L720.6 296.4 L721.6 296.5 L722.6 296.7 L723.6 296.8 L724.6 296.9 L725.6 297.0 L726.6 297.1 L727.6 297.2 L728.6 297.4 L729.6 297.5 L730.6 297.6 L731.6 297.7 L732.6 297.8 L733.6 297.9 L734.6 298.0 L735.6 298.1 L736.6 298.2 L737.6 298.3 L738.6 298.4 L739.6 298.5 L740.6 298.6 L741.6 298.7 L742.6 298.8 L743.6 298.9 L744.6 299.0 L745.6 299.1 L746.6 299.2 L747.6 299.3 L748.6 299.4 L749.6 299.6 L750.6 299.7 L751.6 299.8 L752.6 299.9 L753.6 300.0 L754.5 300.1 L755.5 300.2 L756.5 300.3 L757.5 300.4 L758.5 300.5 L759.5 300.6 L760.5 300.7 L761.5 300.9 L762.5 301.0 L763.5 301.1 L764.5 301.2 L765.5 301.3 L766.5 301.4 L767.5 301.6 L768.5 301.7 L769.5 301.8 L770.5 301.9 L771.5 302.0 L772.5 302.1 L773.5 302.2 L774.5 302.3 L775.5 302.4 L776.5 302.5 L777.5 302.6 L778.5 302.8 L779.5 302.9 L780.5 303.0 L781.5 303.1 L782.5 303.2 L783.5 303.3 L784.5 303.4 L785.4 303.5 L786.4 303.6 L787.4 303.7 L788.4 303.8 L789.4 303.9 L790.4 304.0 L791.4 304.1 L792.4 304.2 L793.4 304.3 L794.4 304.4 L795.4 304.5 L796.4 304.6 L797.4 304.7 L798.4 304.7 L799.4 304.8 L800.4 304.9 L801.4 305.0 L802.4 305.1 L803.4 305.2 L804.4 305.3 L805.4 305.4 L806.4 305.5 L807.4 305.5 L808.4 305.6 L809.4 305.7 L810.4 305.8 L811.4 305.9 L812.4 306.0 L813.4 306.1 L814.4 306.2 L815.4 306.2 L816.4 306.3 L817.4 306.4 L818.4 306.5 L819.4 306.6" fill="none" stroke="#ff4cff" stroke-width="1" stroke-dasharray="29.3 9"/>
<path d="M454.6 321.0 L454.7 320.0 L454.8 319.0 L454.9 318.0 L455.0 317.0 L455.2 316.0 L455.3 315.0 L455.5 314.0 L455.6 313.0 L455.8 312.0 L456.0 311.1 L456.1 310.1 L456.4 309.1 L456.6 308.1 L456.8 307.1 L457.0 306.1 L457.3 305.2 L457.5 304.2 L457.8 303.2 L458.1 302.3 L458.4 301.3 L458.7 300.4 L459.0 299.4 L459.3 298.5 L459.7 297.5 L460.1 296.6 L460.4 295.6 L460.8 294.7 L461.2 293.8 L461.6 292.9 L462.0 291.9 L462.4 291.0 L462.8 290.1 L463.2 289.2 L463.6 288.3 L464.1 287.3 L464.5 286.4 L465.0 285.6 L465.4 284.7 L465.9 283.8 L466.4 282.9 L467.0 282.1 L467.5 281.2 L468.1 280.4 L468.7 279.6 L469.3 278.8 L469.9 278.0 L470.6 277.3 L471.2 276.5 L471.9 275.8 L472.6 275.1 L473.4 274.4 L474.1 273.7 L474.9 273.1 L475.7 272.4 L476.5 271.8 L477.3 271.2 L478.1 270.6 L478.9 270.0 L479.7 269.5 L480.6 268.9 L481.4 268.4 L482.3 267.9 L483.2 267.4 L484.1 266.9 L485.0 266.4 L485.9 266.0 L486.8 265.6 L487.7 265.2 L488.6 264.9 L489.6 264.5 L490.6 264.2 L491.5 263.9 L492.5 263.6 L493.5 263.4 L494.4 263.1 L495.4 262.9 L496.4 262.7 L497.3 262.4 L498.3 262.2 L499.3 262.0 L500.3 261.8 L501.3 261.7 L502.3 261.5 L503.3 261.3 L504.3 261.2 L505.3 261.0 L506.3 260.9 L507.3 260.8 L508.3 260.7 L509.3 260.6 L510.2 260.4 L511.2 260.3 L512.2 260.2 L513.2 260.1 L514.3 260.0 L515.3 260.0 L516.3 259.9 L517.3 259.8 L518.3 259.7 L519.3 259.7 L520.3 259.6 L521.3 259.5 L522.3 259.5 L523.3 259.4 L524.3 259.4 L525.3 259.3 L526.3 259.2 L527.3 259.2 L528.3 259.1 L529.3 259.1 L530.3 259.1 L531.3 259.0 L532.3 259.0 L533.3 258.9 L534.3 258.9 L535.3 258.9 L536.3 258.9 L537.3 258.8 L538.3 258.8 L539.3 258.8 L540.3 258.8 L541.3 258.8 L542.3 258.7 L543.3 258.7 L544.3 258.7 L545.3 258.7 L546.3 258.7 L547.3 258.6 L548.3 258.6 L549.4 258.6 L550.4 258.6 L551.4 258.6 L552.4 258.6 L553.4 258.6 L554.4 258.6 L555.4 258.5 L556.4 258.5 L557.4 258.5 L558.4 258.5 L559.4 258.5 L560.4 258.5 L561.4 258.5 L562.4 258.5 L563.4 258.5 L564.4 258.5 L565.4 258.4 L566.4 258.4 L567.4 258.4 L568.4 258.4 L569.4 258.4 L570.4 258.4 L571.4 258.4 L572.4 258.4 L573.4 258.4 L574.4 258.4 L575.5 258.4 L576.5 258.4 L577.5 258.4 L578.5 258.4 L579.5 258.4 L580.5 258.4 L581.5 258.5 L582.5 258.5 L583.5 258.5 L584.5 258.5 L585.5 258.5 L586.5 258.6 L587.5 258.6 L588.5 258.6 L589.5 258.7 L590.5 258.7 L591.5 258.7 L592.5 258.8 L593.5 258.8 L594.5 258.8 L595.5 258.9 L596.5 258.9 L597.5 259.0 L598.5 259.0 L599.5 259.0 L600.5 259.1 L601.5 259.1 L602.5 259.2 L603.5 259.2 L604.5 259.3 L605.5 259.3 L606.5 259.4 L607.6 259.4 L608.6 259.5 L609.6 259.5 L610.6 259.6 L611.6 259.6 L612.6 259.7 L613.6 259.7 L614.6 259.8 L615.6 259.8 L616.6 259.9 L617.6 259.9 L618.6 260.0 L619.6 260.0 L620.6 260.1 L621.6 260.1 L622.6 260.2 L623.6 260.2 L624.6 260.3 L625.6 260.3 L626.6 260.4 L627.6 260.4 L628.6 260.4 L629.6 260.5 L630.6 260.5 L631.6 260.6 L632.6 260.6 L633.6 260.6 L634.6 260.7 L635.6 260.7 L636.6 260.7 L637.6 260.8 L638.6 260.8 L639.7 260.8 L640.7 260.9 L641.7 260.9 L642.7 260.9 L643.7 260.9 L644.7 261.0 L645.7 261.0 L646.7 261.0 L647.7 261.0 L648.7 261.1 L649.7 261.1 L650.7 261.1 L651.7 261.1 L652.7 261.2 L653.7 261.2 L654.7 261.2 L655.7 261.2 L656.7 261.3 L657.7 261.3 L658.7 261.3 L659.7 261.3 L660.7 261.4 L661.7 261.4 L662.7 261.4 L663.7 261.4 L664.7 261.5 L665.7 261.5 L666.7 261.5 L667.8 261.5 L668.8 261.6 L669.8 261.6 L670.8 261.6 L671.8 261.6 L672.8 261.6 L673.8 261.7 L674.8 261.7 L675.8 261.7 L676.8 261.7 L677.8 261.8 L678.8 261.8 L679.8 261.8 L680.8 261.8 L681.8 261.9 L682.8 261.9 L683.8 261.9 L684.8 261.9 L685.8 262.0 L686.8 262.0 L687.8 262.0 L688.8 262.1 L689.8 262.1 L690.8 262.1 L691.8 262.1 L692.8 262.2 L693.8 262.2 L694.8 262.2 L695.9 262.3 L696.9 262.3 L697.9 262.3 L698.9 262.4 L699.9 262.4 L700.9 262.4 L701.9 262.5 L702.9 262.5 L703.9 262.5 L704.9 262.6 L705.9 262.6 L706.9 262.7 L707.9 262.7 L708.9 262.7 L709.9 262.8 L710.9 262.8 L711.9 262.9 L712.9 262.9 L713.9 262.9 L714.9 263.0 L715.9 263.0 L716.9 263.1 L717.9 263.1 L718.9 263.2 L719.9 263.2 L720.9 263.3 L721.9 263.3 L722.9 263.4 L723.9 263.4 L724.9 263.5 L725.9 263.5 L726.9 263.6 L727.9 263.6 L728.9 263.7 L729.9 263.7 L731.0 263.8 L732.0 263.8 L733.0 263.9 L734.0 263.9 L735.0 264.0 L736.0 264.0 L737.0 264.1 L738.0 264.1 L739.0 264.2 L740.0 264.2 L741.0 264.3 L742.0 264.3 L743.0 264.4 L744.0 264.4 L745.0 264.5 L746.0 264.5 L747.0 264.6 L748.0 264.6 L749.0 264.7 L750.0 264.7 L751.0 264.8 L752.0 264.8 L753.0 264.9 L754.0 264.9 L755.0 265.0 L756.0 265.0 L757.0 265.0 L758.0 265.1 L759.0 265.1 L760.0 265.2 L761.0 265.2 L762.0 265.3 L763.0 265.3 L764.0 265.4 L765.0 265.4 L766.0 265.4 L767.1 265.5 L768.1 265.5 L769.1 265.6 L770.1 265.6 L771.1 265.7 L772.1 265.7 L773.1 265.7 L774.1 265.8 L775.1 265.8 L776.1 265.9 L777.1 265.9 L778.1 266.0 L779.1 266.0 L780.1 266.0 L781.1 266.1 L782.1 266.1 L783.1 266.2 L784.1 266.2 L785.1 266.2 L786.1 266.3 L787.1 266.3 L788.1 266.4 L789.1 266.4 L790.1 266.5 L791.1 266.5 L792.1 266.5 L793.1 266.6 L794.1 266.6 L795.1 266.7 L796.1 266.7 L797.1 266.7 L798.1 266.8 L799.1 266.8 L800.2 266.9 L801.2 266.9 L802.2 266.9 L803.2 267.0 L804.2 267.0 L805.2 267.1 L806.2 267.1 L807.2 267.1 L808.2 267.2 L809.2 267.2 L810.2 267.3 L811.2 267.3 L812.2 267.3 L813.2 267.4 L814.2 267.4 L815.2 267.5 L816.2 267.5" fill="none" stroke="#ff4646" stroke-width="1.0" stroke-dasharray="2.3 4.25"/>
<path d="M453.4 365.8 L454.2 365.2 L455.0 364.6 L455.9 364.0 L456.8 363.6 L457.6 363.2 L458.6 362.8 L459.5 362.5 L460.5 362.2 L461.5 361.9 L462.4 361.6 L463.4 361.3 L464.4 361.0 L465.3 360.7 L466.3 360.4 L467.2 360.1 L468.2 359.8 L469.2 359.6 L470.1 359.3 L471.1 359.0 L472.1 358.7 L473.0 358.5 L474.0 358.2 L475.0 357.9 L475.9 357.7 L476.9 357.4 L477.9 357.2 L478.9 356.9 L479.8 356.6 L480.8 356.4 L481.8 356.1 L482.8 355.9 L483.7 355.6 L484.7 355.4 L485.7 355.2 L486.6 354.9 L487.6 354.7 L488.6 354.4 L489.6 354.2 L490.5 353.9 L491.5 353.7 L492.5 353.5 L493.5 353.2 L494.5 353.0 L495.4 352.8 L496.4 352.6 L497.4 352.4 L498.4 352.1 L499.4 351.9 L500.3 351.7 L501.3 351.5 L502.3 351.3 L503.3 351.1 L504.3 351.0 L505.3 350.8 L506.3 350.6 L507.3 350.4 L508.2 350.2 L509.2 350.0 L510.2 349.8 L511.2 349.7 L512.2 349.5 L513.2 349.3 L514.2 349.1 L515.2 349.0 L516.2 348.8 L517.1 348.6 L518.1 348.5 L519.1 348.3 L520.1 348.2 L521.1 348.0 L522.1 347.9 L523.1 347.7 L524.1 347.6 L525.1 347.4 L526.1 347.3 L527.1 347.2 L528.1 347.0 L529.1 346.9 L530.1 346.7 L531.1 346.6 L532.1 346.5 L533.1 346.3 L534.1 346.2 L535.0 346.1 L536.0 345.9 L537.0 345.8 L538.0 345.7 L539.0 345.5 L540.0 345.4 L541.0 345.3 L542.0 345.1 L543.0 345.0 L544.0 344.9 L545.0 344.7 L546.0 344.6 L547.0 344.5 L548.0 344.3 L549.0 344.2 L550.0 344.1 L551.0 343.9 L552.0 343.8 L553.0 343.6 L554.0 343.5 L555.0 343.4 L556.0 343.3 L557.0 343.1 L558.0 343.0 L558.9 342.9 L559.9 342.7 L560.9 342.6 L561.9 342.5 L562.9 342.4 L563.9 342.3 L564.9 342.2 L565.9 342.0 L566.9 341.9 L567.9 341.8 L568.9 341.7 L569.9 341.6 L570.9 341.5 L571.9 341.4 L572.9 341.3 L573.9 341.2 L574.9 341.1 L575.9 341.0 L576.9 340.9 L577.9 340.8 L578.9 340.7 L579.9 340.6 L580.9 340.5 L581.9 340.4 L582.9 340.3 L583.9 340.2 L584.9 340.1 L585.9 340.0 L586.9 339.9 L587.9 339.9 L588.9 339.8 L589.9 339.7 L590.9 339.6 L591.9 339.5 L592.9 339.4 L593.9 339.3 L594.9 339.2 L595.9 339.1 L596.9 339.0 L597.9 339.0 L598.9 338.9 L599.9 338.8 L600.9 338.7 L601.9 338.6 L602.9 338.5 L603.9 338.4 L604.9 338.4 L605.9 338.3 L606.9 338.2 L607.9 338.1 L608.9 338.0 L609.9 337.9 L610.9 337.8 L611.9 337.8 L612.9 337.7 L613.9 337.6 L615.0 337.5 L616.0 337.4 L617.0 337.3 L618.0 337.2 L619.0 337.1 L620.0 337.0 L621.0 336.9 L622.0 336.8 L623.0 336.7 L624.0 336.7 L625.0 336.6 L626.0 336.5 L627.0 336.4 L628.0 336.3 L629.0 336.2 L630.0 336.1 L631.0 336.0 L632.0 335.9 L633.0 335.9 L634.0 335.8 L635.0 335.7 L636.0 335.6 L637.0 335.5 L638.0 335.4 L639.0 335.4 L640.0 335.3 L641.0 335.2 L642.0 335.2 L643.0 335.1 L644.0 335.0 L645.0 334.9 L646.0 334.9 L647.0 334.8 L648.0 334.7 L649.0 334.6 L650.0 334.6 L651.0 334.5 L652.0 334.5 L653.0 334.4 L654.0 334.4 L655.0 334.3 L656.0 334.3 L657.0 334.3 L658.0 334.2 L659.0 334.2 L660.0 334.2 L661.0 334.2 L662.0 334.1 L663.0 334.1 L664.0 334.1 L665.1 334.1 L666.1 334.0 L667.1 334.0 L668.1 334.0 L669.1 334.0 L670.1 334.0 L671.1 334.0 L672.1 333.9 L673.1 333.9 L674.1 333.9 L675.1 333.9 L676.1 333.9 L677.1 333.9 L678.1 333.9 L679.1 333.9 L680.1 333.9 L681.1 333.9 L682.1 333.9 L683.1 333.9 L684.1 333.9 L685.1 333.9 L686.2 333.9 L687.2 334.0 L688.2 334.0 L689.2 334.0 L690.2 334.0 L691.2 334.0 L692.2 334.0 L693.2 334.0 L694.2 334.1 L695.2 334.1 L696.2 334.1 L697.2 334.1 L698.2 334.2 L699.2 334.2 L700.2 334.2 L701.2 334.2 L702.2 334.2 L703.2 334.3 L704.2 334.3 L705.2 334.3 L706.2 334.3 L707.2 334.4 L708.3 334.4 L709.3 334.4 L710.3 334.5 L711.3 334.5 L712.3 334.5 L713.3 334.5 L714.3 334.6 L715.3 334.6 L716.3 334.6 L717.3 334.6 L718.3 334.7 L719.3 334.7 L720.3 334.7 L721.3 334.7 L722.3 334.8 L723.3 334.8 L724.3 334.8 L725.3 334.8 L726.3 334.8 L727.3 334.9 L728.3 334.9 L729.3 334.9 L730.4 334.9 L731.4 334.9 L732.4 334.9 L733.4 335.0 L734.4 335.0 L735.4 335.0 L736.4 335.0 L737.4 335.0 L738.4 335.1 L739.4 335.1 L740.4 335.1 L741.4 335.1 L742.4 335.1 L743.4 335.1 L744.4 335.2 L745.4 335.2 L746.4 335.2 L747.4 335.2 L748.4 335.2 L749.4 335.3 L750.4 335.3 L751.4 335.3 L752.5 335.3 L753.5 335.3 L754.5 335.3 L755.5 335.4 L756.5 335.4 L757.5 335.4 L758.5 335.4 L759.5 335.4 L760.5 335.5 L761.5 335.5 L762.5 335.5 L763.5 335.5 L764.5 335.6 L765.5 335.6 L766.5 335.6 L767.5 335.6 L768.5 335.7 L769.5 335.7 L770.5 335.7 L771.5 335.7 L772.5 335.8 L773.5 335.8 L774.5 335.8 L775.6 335.8 L776.6 335.9 L777.6 335.9 L778.6 335.9 L779.6 335.9 L780.6 336.0 L781.6 336.0 L782.6 336.0 L783.6 336.1 L784.6 336.1 L785.6 336.1 L786.6 336.2 L787.6 336.2 L788.6 336.2 L789.6 336.3 L790.6 336.3 L791.6 336.3 L792.6 336.4 L793.6 336.4 L794.6 336.4 L795.6 336.5 L796.6 336.5 L797.6 336.6 L798.6 336.6 L799.7 336.6 L800.7 336.7 L801.7 336.7 L802.7 336.7 L803.7 336.8 L804.7 336.8 L805.7 336.9 L806.7 336.9 L807.7 336.9 L808.7 337.0 L809.7 337.0 L810.7 337.1 L811.7 337.1" fill="none" stroke="#6464ff" stroke-width="1" stroke-dasharray="11 9.5"/>
<path d="M86.5 533.0 L86.6 532.0 L86.7 531.0 L86.8 530.0 L86.9 529.0 L87.0 528.0 L87.0 527.0 L87.1 526.0 L87.2 525.0 L87.3 524.0 L87.4 523.0 L87.5 522.0 L87.6 521.0 L87.7 520.0 L87.9 519.0 L88.0 518.0 L88.1 517.0 L88.2 516.0 L88.3 515.0 L88.4 514.0 L88.5 513.0 L88.6 512.0 L88.7 511.0 L88.8 510.0 L88.9 509.0 L89.1 508.0 L89.2 507.0 L89.3 506.0 L89.4 505.0 L89.6 504.0 L89.7 503.0 L89.9 502.1 L90.1 501.1 L90.3 500.1 L90.5 499.1 L90.7 498.1 L90.9 497.1 L91.2 496.1 L91.4 495.2 L91.7 494.2 L92.0 493.2 L92.2 492.3 L92.5 491.3 L92.9 490.3 L93.2 489.3 L93.6 488.4 L94.0 487.5 L94.5 486.7 L95.1 485.9 L95.9 485.1 L96.8 484.5 L97.7 484.2 L98.5 484.4 L99.4 484.9 L100.3 485.5 L101.1 486.2 L101.8 486.9 L102.4 487.7 L103.0 488.5 L103.5 489.4 L104.0 490.3 L104.5 491.2 L105.0 492.1 L105.5 492.9 L106.0 493.8 L106.4 494.7 L106.8 495.6 L107.3 496.5 L107.8 497.4 L108.2 498.3 L108.7 499.2 L109.2 500.1 L109.7 501.0 L110.2 501.8 L110.7 502.7 L111.2 503.6 L111.7 504.4 L112.3 505.3 L112.8 506.1 L113.3 507.0 L113.9 507.8 L114.4 508.6 L115.0 509.5 L115.6 510.3 L116.2 511.1 L116.7 511.9 L117.3 512.8 L117.9 513.6 L118.5 514.4 L119.1 515.2 L119.7 516.0 L120.3 516.8 L121.0 517.6 L121.6 518.4 L122.2 519.2 L122.8 519.9 L123.5 520.7 L124.1 521.5 L124.7 522.3 L125.4 523.1 L126.0 523.8 L126.7 524.6 L127.3 525.3 L128.0 526.1 L128.7 526.8 L129.4 527.6 L130.0 528.3 L130.7 529.1 L131.4 529.8 L132.1 530.5 L132.8 531.3 L133.5 532.0 L134.2 532.7 L134.9 533.4 L135.6 534.1 L136.3 534.8 L137.0 535.5 L137.8 536.2 L138.5 536.9 L139.2 537.6 L140.0 538.3 L140.7 538.9 L141.5 539.6 L142.3 540.2 L143.0 540.8 L143.8 541.5 L144.6 542.1 L145.4 542.7 L146.2 543.3 L147.0 543.9 L147.8 544.5 L148.7 545.1 L149.5 545.7 L150.3 546.3 L151.1 546.8 L152.0 547.4 L152.8 548.0 L153.6 548.5 L154.4 549.1 L155.3 549.7 L156.1 550.2 L157.0 550.8 L157.8 551.3 L158.7 551.8 L159.5 552.4 L160.4 552.9 L161.2 553.4 L162.1 553.9 L163.0 554.4 L163.9 554.9 L164.7 555.4 L165.6 555.9 L166.5 556.3 L167.4 556.8 L168.3 557.3 L169.2 557.7 L170.1 558.2 L171.0 558.6 L171.9 559.0 L172.8 559.5 L173.7 559.9 L174.6 560.3 L175.5 560.8 L176.4 561.2 L177.3 561.6 L178.3 562.0 L179.2 562.4 L180.1 562.9 L181.0 563.3 L181.9 563.7 L182.8 564.1 L183.7 564.5 L184.7 564.9 L185.6 565.4 L186.5 565.8 L187.4 566.1 L188.3 566.5 L189.3 566.9 L190.2 567.3 L191.1 567.7 L192.1 568.0 L193.0 568.4 L193.9 568.8 L194.9 569.1 L195.8 569.5 L196.8 569.8 L197.7 570.2 L198.7 570.5 L199.6 570.9 L200.5 571.2 L201.5 571.6 L202.4 571.9 L203.4 572.3 L204.3 572.6 L205.2 573.0 L206.2 573.3 L207.1 573.7 L208.1 574.0 L209.0 574.4 L210.0 574.7 L210.9 575.1 L211.9 575.4 L212.8 575.8 L213.7 576.1 L214.7 576.4 L215.6 576.7 L216.6 577.1 L217.6 577.4 L218.5 577.7 L219.5 578.0 L220.4 578.2 L221.4 578.5 L222.4 578.8 L223.3 579.1 L224.3 579.3 L225.3 579.6 L226.2 579.8 L227.2 580.1 L228.2 580.3 L229.2 580.6 L230.1 580.8 L231.1 581.0 L232.1 581.3 L233.1 581.5 L234.0 581.7 L235.0 581.9 L236.0 582.2 L237.0 582.4 L238.0 582.6 L238.9 582.9 L239.9 583.1 L240.9 583.3 L241.9 583.6 L242.9 583.8 L243.8 584.0 L244.8 584.3 L245.8 584.5 L246.8 584.7 L247.7 585.0 L248.7 585.2 L249.7 585.5 L250.7 585.7 L251.6 585.9 L252.6 586.1 L253.6 586.4 L254.6 586.6 L255.6 586.8 L256.5 587.1 L257.5 587.3 L258.5 587.5 L259.5 587.7 L260.5 587.9 L261.4 588.1 L262.4 588.3 L263.4 588.5 L264.4 588.7 L265.4 588.9 L266.4 589.1 L267.4 589.3 L268.3 589.5 L269.3 589.7 L270.3 589.8 L271.3 590.0 L272.3 590.2 L273.3 590.4 L274.3 590.6 L275.3 590.8 L276.2 590.9 L277.2 591.1 L278.2 591.3 L279.2 591.5 L280.2 591.6 L281.2 591.8 L282.2 592.0 L283.2 592.2 L284.2 592.3 L285.1 592.5 L286.1 592.7 L287.1 592.9 L288.1 593.0 L289.1 593.2 L290.1 593.4 L291.1 593.5 L292.1 593.7 L293.1 593.9 L294.1 594.0 L295.0 594.2 L296.0 594.4 L297.0 594.5 L298.0 594.7 L299.0 594.8 L300.0 595.0 L301.0 595.2 L302.0 595.3 L303.0 595.5 L304.0 595.6 L305.0 595.8 L306.0 595.9 L306.9 596.1 L307.9 596.2 L308.9 596.4 L309.9 596.6 L310.9 596.7 L311.9 596.9 L312.9 597.0 L313.9 597.2 L314.9 597.3 L315.9 597.5 L316.9 597.6 L317.9 597.8 L318.9 597.9 L319.9 598.0 L320.9 598.2 L321.8 598.3 L322.8 598.5 L323.8 598.6 L324.8 598.8 L325.8 598.9 L326.8 599.1 L327.8 599.2 L328.8 599.4 L329.8 599.5 L330.8 599.6 L331.8 599.8 L332.8 599.9 L333.8 600.1 L334.8 600.2 L335.8 600.4 L336.8 600.5 L337.8 600.7 L338.7 600.8 L339.7 600.9 L340.7 601.1 L341.7 601.2 L342.7 601.4 L343.7 601.5 L344.7 601.7 L345.7 601.8 L346.7 602.0 L347.7 602.1 L348.7 602.2 L349.7 602.4 L350.7 602.5 L351.7 602.7 L352.7 602.8 L353.7 603.0 L354.7 603.1 L355.7 603.2 L356.6 603.4 L357.6 603.5 L358.6 603.7 L359.6 603.8 L360.6 603.9 L361.6 604.1 L362.6 604.2 L363.6 604.3 L364.6 604.5 L365.6 604.6 L366.6 604.7 L367.6 604.9 L368.6 605.0 L369.6 605.1 L370.6 605.3 L371.6 605.4 L372.6 605.5 L373.6 605.6 L374.6 605.8 L375.6 605.9 L376.6 606.0 L377.6 606.1 L378.6 606.3 L379.6 606.4 L380.5 606.5 L381.5 606.6 L382.5 606.7 L383.5 606.9 L384.5 607.0 L385.5 607.1 L386.5 607.2 L387.5 607.3 L388.5 607.4 L389.5 607.6 L390.5 607.7 L391.5 607.8 L392.5 607.9 L393.5 608.0 L394.5 608.1 L395.5 608.2 L396.5 608.3 L397.5 608.5 L398.5 608.6 L399.5 608.7 L400.5 608.8 L401.5 608.9 L402.5 609.0 L403.5 609.1 L404.5 609.2 L405.5 609.3 L406.5 609.4 L407.5 609.5 L408.5 609.6 L409.5 609.7 L410.5 609.8 L411.5 610.0 L412.5 610.1 L413.5 610.2 L414.5 610.3 L415.5 610.4 L416.5 610.5 L417.5 610.6 L418.5 610.7 L419.5 610.8 L420.5 610.9 L421.5 611.0 L422.5 611.1 L423.5 611.2 L424.5 611.3 L425.5 611.3 L426.5 611.4 L427.5 611.5 L428.5 611.6 L429.5 611.7 L430.5 611.8 L431.5 611.9 L432.5 612.0 L433.5 612.1 L434.5 612.2 L435.5 612.3 L436.5 612.4 L437.5 612.5 L438.5 612.6 L439.5 612.7 L440.5 612.7 L441.5 612.8 L442.5 612.9 L443.5 613.0 L444.5 613.1 L445.5 613.2 L446.5 613.3 L447.5 613.4 L448.5 613.4 L449.5 613.5 L450.5 613.6 L451.5 613.7" fill="none" stroke="#2a2a2a" stroke-width="0.85"/>
<path d="M89.0 533.0 L89.0 532.0 L89.0 531.0 L89.1 530.0 L89.1 529.0 L89.1 528.0 L89.2 527.0 L89.2 526.0 L89.3 525.0 L89.3 524.0 L89.4 523.0 L89.5 522.0 L89.5 521.0 L89.6 520.0 L89.7 519.0 L89.8 518.0 L89.8 517.0 L89.9 516.0 L90.0 515.0 L90.1 514.0 L90.3 513.0 L90.4 512.0 L90.5 511.0 L90.7 510.0 L90.8 509.0 L91.0 508.0 L91.2 507.0 L91.4 506.0 L91.5 505.0 L91.7 504.0 L91.9 503.0 L92.1 502.0 L92.4 501.1 L92.6 500.1 L92.9 499.1 L93.2 498.1 L93.5 497.2 L93.9 496.3 L94.3 495.4 L94.7 494.4 L95.2 493.5 L95.8 492.7 L96.5 492.0 L97.3 491.4 L98.3 490.9 L99.2 490.5 L100.1 490.6 L100.9 491.1 L101.7 491.8 L102.5 492.6 L103.3 493.2 L104.0 493.9 L104.6 494.7 L105.3 495.5 L105.9 496.2 L106.6 497.0 L107.2 497.9 L107.8 498.7 L108.4 499.5 L108.9 500.3 L109.5 501.1 L110.0 502.0 L110.6 502.8 L111.1 503.6 L111.7 504.5 L112.2 505.3 L112.8 506.2 L113.4 507.0 L113.9 507.8 L114.5 508.6 L115.1 509.5 L115.7 510.3 L116.2 511.1 L116.8 511.9 L117.4 512.8 L118.0 513.6 L118.6 514.4 L119.2 515.2 L119.8 516.0 L120.4 516.8 L121.0 517.6 L121.6 518.4 L122.2 519.2 L122.8 520.0 L123.5 520.8 L124.1 521.5 L124.8 522.3 L125.4 523.1 L126.0 523.8 L126.7 524.6 L127.4 525.4 L128.0 526.1 L128.7 526.9 L129.4 527.6 L130.1 528.3 L130.7 529.1 L131.4 529.8 L132.1 530.6 L132.8 531.3 L133.5 532.0 L134.2 532.7 L134.9 533.5 L135.6 534.2 L136.3 534.9 L137.1 535.6 L137.8 536.3 L138.5 536.9 L139.3 537.6 L140.0 538.3 L140.8 538.9 L141.5 539.6 L142.3 540.2 L143.1 540.9 L143.9 541.5 L144.6 542.1 L145.4 542.7 L146.2 543.3 L147.1 543.9 L147.9 544.5 L148.7 545.1 L149.5 545.7 L150.3 546.3 L151.2 546.9 L152.0 547.4 L152.8 548.0 L153.6 548.6 L154.5 549.1 L155.3 549.7 L156.1 550.2 L157.0 550.8 L157.8 551.3 L158.7 551.8 L159.5 552.4 L160.4 552.9 L161.3 553.4 L162.1 553.9 L163.0 554.4 L163.9 554.9 L164.8 555.4 L165.6 555.9 L166.5 556.4 L167.4 556.8 L168.3 557.3 L169.2 557.7 L170.1 558.2 L171.0 558.6 L171.9 559.1 L172.8 559.5 L173.7 559.9 L174.6 560.3 L175.5 560.8 L176.5 561.2 L177.4 561.6 L178.3 562.0 L179.2 562.5 L180.1 562.9 L181.0 563.3 L181.9 563.7 L182.8 564.1 L183.8 564.5 L184.7 565.0 L185.6 565.4 L186.5 565.8 L187.4 566.2 L188.4 566.5 L189.3 566.9 L190.2 567.3 L191.2 567.7 L192.1 568.1 L193.0 568.4 L194.0 568.8 L194.9 569.1 L195.8 569.5 L196.8 569.8 L197.7 570.2 L198.7 570.5 L199.6 570.9 L200.6 571.2 L201.5 571.6 L202.4 571.9 L203.4 572.3 L204.3 572.6 L205.3 573.0 L206.2 573.3 L207.2 573.7 L208.1 574.0 L209.0 574.4 L210.0 574.7 L210.9 575.1 L211.9 575.4 L212.8 575.8 L213.8 576.1 L214.7 576.4 L215.7 576.7 L216.6 577.1 L217.6 577.4 L218.5 577.7 L219.5 578.0 L220.4 578.3 L221.4 578.5 L222.4 578.8 L223.3 579.1 L224.3 579.3 L225.3 579.6 L226.2 579.8 L227.2 580.1 L228.2 580.3 L229.2 580.6 L230.2 580.8 L231.1 581.0 L232.1 581.3 L233.1 581.5 L234.1 581.7 L235.0 581.9 L236.0 582.2 L237.0 582.4 L238.0 582.6 L239.0 582.9 L239.9 583.1 L240.9 583.3 L241.9 583.6 L242.9 583.8 L243.8 584.0 L244.8 584.3 L245.8 584.5 L246.8 584.7 L247.8 585.0 L248.7 585.2 L249.7 585.5 L250.7 585.7 L251.7 585.9 L252.6 586.2 L253.6 586.4 L254.6 586.6 L255.6 586.8 L256.6 587.1 L257.5 587.3 L258.5 587.5 L259.5 587.7 L260.5 587.9 L261.5 588.1 L262.4 588.3 L263.4 588.5 L264.4 588.7 L265.4 588.9 L266.4 589.1 L267.4 589.3 L268.4 589.5 L269.3 589.7 L270.3 589.9 L271.3 590.0 L272.3 590.2 L273.3 590.4 L274.3 590.6 L275.3 590.8 L276.3 590.9 L277.2 591.1 L278.2 591.3 L279.2 591.5 L280.2 591.6 L281.2 591.8 L282.2 592.0 L283.2 592.2 L284.2 592.3 L285.2 592.5 L286.1 592.7 L287.1 592.9 L288.1 593.0 L289.1 593.2 L290.1 593.4 L291.1 593.5 L292.1 593.7 L293.1 593.9 L294.1 594.0 L295.1 594.2 L296.1 594.4 L297.0 594.5 L298.0 594.7 L299.0 594.8 L300.0 595.0 L301.0 595.2 L302.0 595.3 L303.0 595.5 L304.0 595.6 L305.0 595.8 L306.0 595.9 L307.0 596.1 L308.0 596.3 L308.9 596.4 L309.9 596.6 L310.9 596.7 L311.9 596.9 L312.9 597.0 L313.9 597.2 L314.9 597.3 L315.9 597.5 L316.9 597.6 L317.9 597.8 L318.9 597.9 L319.9 598.0 L320.9 598.2 L321.9 598.3 L322.9 598.5 L323.8 598.6 L324.8 598.8 L325.8 598.9 L326.8 599.1 L327.8 599.2 L328.8 599.4 L329.8 599.5 L330.8 599.6 L331.8 599.8 L332.8 599.9 L333.8 600.1 L334.8 600.2 L335.8 600.4 L336.8 600.5 L337.8 600.7 L338.8 600.8 L339.8 600.9 L340.7 601.1 L341.7 601.2 L342.7 601.4 L343.7 601.5 L344.7 601.7 L345.7 601.8 L346.7 602.0 L347.7 602.1 L348.7 602.2 L349.7 602.4 L350.7 602.5 L351.7 602.7 L352.7 602.8 L353.7 603.0 L354.7 603.1 L355.7 603.2 L356.7 603.4 L357.7 603.5 L358.6 603.7 L359.6 603.8 L360.6 603.9 L361.6 604.1 L362.6 604.2 L363.6 604.3 L364.6 604.5 L365.6 604.6 L366.6 604.7 L367.6 604.9 L368.6 605.0 L369.6 605.1 L370.6 605.3 L371.6 605.4 L372.6 605.5 L373.6 605.6 L374.6 605.8 L375.6 605.9 L376.6 606.0 L377.6 606.1 L378.6 606.3 L379.6 606.4 L380.6 606.5 L381.6 606.6 L382.5 606.7 L383.5 606.9 L384.5 607.0 L385.5 607.1 L386.5 607.2 L387.5 607.3 L388.5 607.4 L389.5 607.6 L390.5 607.7 L391.5 607.8 L392.5 607.9 L393.5 608.0 L394.5 608.1 L395.5 608.2 L396.5 608.3 L397.5 608.5 L398.5 608.6 L399.5 608.7 L400.5 608.8 L401.5 608.9 L402.5 609.0 L403.5 609.1 L404.5 609.2 L405.5 609.3 L406.5 609.4 L407.5 609.5 L408.5 609.6 L409.5 609.7 L410.5 609.8 L411.5 610.0 L412.5 610.1 L413.5 610.2 L414.5 610.3 L415.5 610.4 L416.5 610.5 L417.5 610.6 L418.5 610.7 L419.5 610.8 L420.5 610.9 L421.5 611.0 L422.5 611.1 L423.5 611.2 L424.5 611.3 L425.5 611.3 L426.5 611.4 L427.5 611.5 L428.5 611.6 L429.5 611.7 L430.5 611.8 L431.5 611.9 L432.5 612.0 L433.5 612.1 L434.5 612.2 L435.5 612.3 L436.5 612.4 L437.5 612.5 L438.5 612.6 L439.5 612.7 L440.5 612.7 L441.5 612.8 L442.5 612.9 L443.5 613.0 L444.5 613.1 L445.5 613.2 L446.5 613.3 L447.5 613.4 L448.5 613.4 L449.5 613.5 L450.5 613.6 L451.5 613.7" fill="none" stroke="#000" stroke-width="1.85" stroke-dasharray="24.2 1.2 1.5 1.2" stroke-dashoffset="2"/>
<path d="M86.5 573.1 L86.6 572.1 L86.6 571.1 L86.7 570.1 L86.7 569.1 L86.8 568.1 L86.8 567.1 L86.9 566.1 L87.0 565.1 L87.0 564.1 L87.1 563.1 L87.1 562.1 L87.2 561.1 L87.3 560.1 L87.4 559.1 L87.4 558.1 L87.5 557.1 L87.6 556.1 L87.6 555.1 L87.7 554.1 L87.8 553.1 L87.9 552.1 L87.9 551.1 L88.0 550.1 L88.1 549.1 L88.2 548.1 L88.3 547.1 L88.4 546.1 L88.5 545.1 L88.7 544.1 L88.8 543.1 L89.0 542.1 L89.1 541.1 L89.3 540.1 L89.5 539.2 L89.7 538.2 L89.9 537.2 L90.1 536.2 L90.3 535.2 L90.4 534.2 L90.6 533.2 L90.8 532.2 L91.0 531.2 L91.2 530.2 L91.4 529.3 L91.6 528.3 L91.8 527.3 L92.1 526.4 L92.4 525.4 L92.7 524.5 L93.1 523.5 L93.6 522.5 L94.1 521.7 L94.6 520.9 L95.3 520.2 L96.2 519.5 L97.1 519.1 L97.9 519.3 L98.7 519.8 L99.5 520.6 L100.3 521.4 L101.0 522.1 L101.6 522.9 L102.3 523.7 L102.9 524.5 L103.4 525.3 L104.0 526.1 L104.5 527.0 L105.0 527.9 L105.5 528.7 L106.0 529.6 L106.5 530.5 L106.9 531.4 L107.4 532.3 L107.9 533.2 L108.3 534.1 L108.8 534.9 L109.3 535.8 L109.8 536.7 L110.3 537.5 L110.8 538.4 L111.3 539.3 L111.8 540.2 L112.3 541.0 L112.8 541.9 L113.3 542.8 L113.9 543.6 L114.4 544.5 L114.9 545.4 L115.4 546.2 L115.9 547.1 L116.4 547.9 L116.9 548.8 L117.4 549.7 L118.0 550.5 L118.5 551.4 L119.0 552.2 L119.5 553.1 L120.1 553.9 L120.6 554.8 L121.1 555.6 L121.7 556.5 L122.2 557.3 L122.7 558.2 L123.3 559.0 L123.8 559.9 L124.4 560.7 L124.9 561.5 L125.5 562.4 L126.1 563.2 L126.6 564.0 L127.2 564.8 L127.8 565.7 L128.4 566.5 L129.0 567.3 L129.6 568.1 L130.2 568.8 L130.8 569.6 L131.5 570.4 L132.1 571.2 L132.7 572.0 L133.4 572.8 L134.0 573.5 L134.7 574.3 L135.3 575.1 L136.0 575.8 L136.6 576.6 L137.3 577.3 L138.0 578.1 L138.6 578.8 L139.3 579.6 L140.0 580.3 L140.7 581.0 L141.4 581.8 L142.0 582.5 L142.7 583.2 L143.4 584.0 L144.1 584.7 L144.9 585.4 L145.6 586.1 L146.3 586.8 L147.0 587.4 L147.8 588.1 L148.5 588.7 L149.3 589.4 L150.1 590.0 L150.9 590.6 L151.7 591.2 L152.5 591.8 L153.4 592.3 L154.2 592.9 L155.0 593.5 L155.8 594.1 L156.6 594.7 L157.5 595.3 L158.3 595.8 L159.1 596.4 L159.9 597.0 L160.7 597.6 L161.6 598.2 L162.4 598.7 L163.2 599.3 L164.0 599.9 L164.8 600.5 L165.7 601.0 L166.5 601.6 L167.3 602.2 L168.1 602.7 L169.0 603.3 L169.8 603.9 L170.6 604.4 L171.5 605.0 L172.3 605.5 L173.1 606.1 L174.0 606.7 L174.8 607.2 L175.7 607.8 L176.5 608.3 L177.3 608.8 L178.2 609.4 L179.0 609.9 L179.9 610.5 L180.7 611.0 L181.6 611.5 L182.4 612.1 L183.3 612.6 L184.1 613.1 L185.0 613.6 L185.9 614.1 L186.7 614.6 L187.6 615.1 L188.5 615.6 L189.4 616.0 L190.3 616.5 L191.1 617.0 L192.0 617.4 L192.9 617.9 L193.8 618.3 L194.7 618.8 L195.6 619.2 L196.5 619.6 L197.5 620.1 L198.4 620.5 L199.3 620.9 L200.2 621.3 L201.1 621.8 L202.0 622.2 L202.9 622.6 L203.9 623.0 L204.8 623.4 L205.7 623.8 L206.6 624.2 L207.5 624.6 L208.5 625.0 L209.4 625.4 L210.3 625.8 L211.2 626.1 L212.2 626.5 L213.1 626.9 L214.0 627.3 L215.0 627.6 L215.9 628.0 L216.8 628.4 L217.8 628.7 L218.7 629.1 L219.7 629.4 L220.6 629.7 L221.5 630.1 L222.5 630.4 L223.4 630.7 L224.4 631.1 L225.3 631.4 L226.3 631.7 L227.2 632.0 L228.2 632.3 L229.1 632.6 L230.1 633.0 L231.1 633.3 L232.0 633.6 L233.0 633.9 L233.9 634.2 L234.9 634.5 L235.8 634.8 L236.8 635.1 L237.7 635.4 L238.7 635.7 L239.7 636.0 L240.6 636.3 L241.6 636.6 L242.5 636.9 L243.5 637.2 L244.5 637.5 L245.4 637.8 L246.4 638.1 L247.3 638.3 L248.3 638.6 L249.3 638.9 L250.2 639.2 L251.2 639.5 L252.1 639.8 L253.1 640.1 L254.0 640.4 L255.0 640.7 L256.0 641.0 L256.9 641.3 L257.9 641.5 L258.9 641.8 L259.8 642.0 L260.8 642.3 L261.8 642.6 L262.7 642.8 L263.7 643.1 L264.7 643.3 L265.7 643.6 L266.6 643.8 L267.6 644.1 L268.6 644.4 L269.5 644.6 L270.5 644.8 L271.5 645.1 L272.5 645.3 L273.4 645.6 L274.4 645.8 L275.4 646.0 L276.4 646.3 L277.4 646.5 L278.3 646.7 L279.3 646.9 L280.3 647.1 L281.3 647.3 L282.3 647.5 L283.2 647.7 L284.2 647.9 L285.2 648.1 L286.2 648.2 L287.2 648.4 L288.2 648.6 L289.2 648.7 L290.2 648.9 L291.2 649.0 L292.2 649.1 L293.1 649.2 L294.1 649.4 L295.1 649.5 L296.1 649.7 L297.1 649.8 L298.1 650.0 L299.1 650.1 L300.1 650.3 L301.1 650.4 L302.1 650.6 L303.1 650.7 L304.1 650.8 L305.1 651.0 L306.1 651.2 L307.0 651.3 L308.0 651.5 L309.0 651.6 L310.0 651.8 L311.0 651.9 L312.0 652.1 L313.0 652.2 L314.0 652.4 L315.0 652.6 L316.0 652.7 L316.9 652.9 L317.9 653.1 L318.9 653.2 L319.9 653.4 L320.9 653.6 L321.9 653.8 L322.9 653.9 L323.9 654.1 L324.8 654.3 L325.8 654.5 L326.8 654.7 L327.8 654.9 L328.8 655.1 L329.7 655.4 L330.7 655.6 L331.7 655.8 L332.7 656.0 L333.7 656.2 L334.7 656.3 L335.6 656.5 L336.6 656.7 L337.6 656.8 L338.6 657.0 L339.6 657.1 L340.6 657.3 L341.6 657.4 L342.6 657.6 L343.6 657.7 L344.6 657.9 L345.6 658.0 L346.6 658.2 L347.5 658.3 L348.5 658.4 L349.5 658.6 L350.5 658.7 L351.5 658.8 L352.5 659.0 L353.5 659.1 L354.5 659.2 L355.5 659.4 L356.5 659.5 L357.5 659.6 L358.5 659.7 L359.5 659.9 L360.5 660.0 L361.5 660.1 L362.5 660.3 L363.5 660.4 L364.5 660.5 L365.5 660.7 L366.4 660.8 L367.4 660.9 L368.4 661.1 L369.4 661.2 L370.4 661.3 L371.4 661.4 L372.4 661.6 L373.4 661.7 L374.4 661.8 L375.4 661.9 L376.4 662.1 L377.4 662.2 L378.4 662.3 L379.4 662.5 L380.4 662.6 L381.4 662.7 L382.4 662.9 L383.4 663.0 L384.4 663.1 L385.4 663.2 L386.4 663.4 L387.3 663.5 L388.3 663.6 L389.3 663.7 L390.3 663.8 L391.3 664.0 L392.3 664.1 L393.3 664.2 L394.3 664.3 L395.3 664.4 L396.3 664.5 L397.3 664.6 L398.3 664.7 L399.3 664.8 L400.3 664.8 L401.3 664.9 L402.3 665.0 L403.3 665.0 L404.3 665.1 L405.3 665.2 L406.3 665.2 L407.3 665.3 L408.3 665.4 L409.3 665.4 L410.3 665.5 L411.3 665.6 L412.3 665.7 L413.3 665.8 L414.3 666.0 L415.3 666.1 L416.3 666.2 L417.3 666.3 L418.3 666.5 L419.3 666.6 L420.3 666.8 L421.3 666.9 L422.3 667.0 L423.3 667.2 L424.2 667.3 L425.2 667.5 L426.2 667.6 L427.2 667.7 L428.2 667.9 L429.2 668.0 L430.2 668.1 L431.2 668.3 L432.2 668.4 L433.2 668.5 L434.2 668.6 L435.2 668.7 L436.2 668.7 L437.2 668.8 L438.2 668.9 L439.2 668.9 L440.2 669.0 L441.2 669.0 L442.2 669.0 L443.2 669.1 L444.2 669.2 L445.2 669.2 L446.2 669.3 L447.2 669.4 L448.2 669.5 L449.2 669.6 L450.2 669.7 L451.2 669.8" fill="none" stroke="#ff4cff" stroke-width="1" stroke-dasharray="29.3 9"/>
<path d="M86.7 613.7 L86.8 612.3 L87.1 611.0 L87.4 609.8 L87.8 608.9 L88.3 608.3 L88.9 608.0 L89.5 608.0 L90.4 608.0 L91.5 608.1 L92.6 608.1 L93.8 608.1 L94.8 608.2 L95.8 608.3 L96.8 608.4 L97.8 608.6 L98.8 608.8 L99.8 609.0 L100.7 609.2 L101.7 609.5 L102.7 609.7 L103.7 610.0 L104.6 610.3 L105.6 610.6 L106.5 610.9 L107.5 611.2 L108.4 611.5 L109.4 611.9 L110.3 612.2 L111.3 612.6 L112.2 612.9 L113.2 613.2 L114.1 613.5 L115.1 613.7 L116.1 614.0 L117.1 614.2 L118.0 614.4 L119.0 614.6 L120.0 614.8 L121.0 615.0 L122.0 615.2 L123.0 615.3 L124.0 615.5 L124.9 615.7 L125.9 615.8 L126.9 615.9 L127.9 616.0 L128.9 616.1 L129.9 616.1 L130.9 616.2 L131.9 616.3 L132.9 616.3 L133.9 616.4 L134.9 616.6 L135.9 616.7 L136.9 616.8 L137.9 617.0 L138.9 617.1 L139.9 617.3 L140.9 617.4 L141.9 617.6 L142.9 617.7 L143.9 617.9 L144.9 618.0 L145.9 618.1 L146.8 618.3 L147.8 618.4 L148.8 618.5 L149.8 618.7 L150.8 618.8 L151.8 618.9 L152.8 619.0 L153.8 619.1 L154.8 619.1 L155.8 619.2 L156.8 619.3 L157.8 619.4 L158.8 619.4 L159.8 619.5 L160.8 619.6 L161.8 619.6 L162.8 619.7 L163.8 619.7 L164.8 619.8 L165.8 619.8 L166.8 619.9 L167.8 619.9 L168.8 620.0 L169.8 620.0 L170.8 620.1 L171.8 620.1 L172.8 620.2 L173.8 620.2 L174.8 620.3 L175.8 620.3 L176.8 620.4 L177.8 620.4 L178.8 620.5 L179.9 620.6 L180.9 620.6 L181.9 620.7 L182.9 620.8 L183.9 620.8 L184.9 620.9 L185.9 621.0 L186.9 621.0 L187.9 621.1 L188.9 621.2 L189.9 621.3 L190.9 621.3 L191.9 621.4 L192.9 621.5 L193.9 621.6 L194.9 621.6 L195.9 621.7 L196.9 621.8 L197.9 621.9 L198.9 622.0 L199.9 622.0 L200.9 622.1 L201.9 622.2 L202.9 622.3 L203.9 622.3 L204.9 622.4 L205.9 622.5 L206.9 622.6 L207.9 622.7 L208.9 622.7 L209.9 622.8 L210.9 622.9 L211.9 623.0 L212.9 623.0 L213.9 623.1 L214.9 623.2 L215.9 623.3 L216.9 623.3 L217.9 623.4 L218.9 623.5 L219.9 623.5 L220.9 623.6 L221.9 623.7 L222.9 623.8 L223.9 623.8 L224.9 623.9 L225.9 624.0 L226.9 624.0 L227.9 624.1 L228.9 624.2 L229.9 624.2 L230.9 624.3 L231.9 624.4 L232.9 624.4 L233.9 624.5 L234.9 624.6 L235.9 624.6 L236.9 624.7 L237.9 624.8 L238.9 624.8 L239.9 624.9 L240.9 625.0 L241.9 625.0 L242.9 625.1 L243.9 625.1 L244.9 625.2 L245.9 625.3 L246.9 625.3 L247.9 625.4 L248.9 625.5 L249.9 625.5 L250.9 625.6 L251.9 625.6 L252.9 625.7 L253.9 625.8 L254.9 625.8 L255.9 625.9 L256.9 626.0 L257.9 626.0 L258.9 626.1 L259.9 626.1 L260.9 626.2 L261.9 626.3 L262.9 626.3 L263.9 626.4 L264.9 626.4 L265.9 626.5 L266.9 626.6 L267.9 626.6 L268.9 626.7 L269.9 626.7 L270.9 626.8 L271.9 626.9 L272.9 626.9 L273.9 627.0 L274.9 627.0 L275.9 627.1 L276.9 627.1 L277.9 627.2 L278.9 627.3 L279.9 627.3 L280.9 627.4 L281.9 627.4 L282.9 627.5 L283.9 627.5 L284.9 627.6 L285.9 627.6 L286.9 627.7 L287.9 627.8 L288.9 627.8 L289.9 627.9 L290.9 627.9 L291.9 628.0 L292.9 628.0 L293.9 628.1 L294.9 628.1 L295.9 628.2 L296.9 628.2 L297.9 628.3 L298.9 628.3 L299.9 628.4 L300.9 628.4 L301.9 628.5 L302.9 628.5 L303.9 628.6 L304.9 628.7 L305.9 628.7 L307.0 628.7 L308.0 628.8 L309.0 628.8 L310.0 628.9 L311.0 628.9 L312.0 629.0 L313.0 629.0 L314.0 629.1 L315.0 629.1 L316.0 629.2 L317.0 629.2 L318.0 629.3 L319.0 629.3 L320.0 629.4 L321.0 629.4 L322.0 629.5 L323.0 629.5 L324.0 629.6 L325.0 629.6 L326.0 629.6 L327.0 629.7 L328.0 629.7 L329.0 629.8 L330.0 629.8 L331.0 629.9 L332.0 629.9 L333.0 630.0 L334.0 630.0 L335.0 630.1 L336.0 630.1 L337.0 630.1 L338.0 630.2 L339.0 630.2 L340.0 630.3 L341.0 630.3 L342.0 630.4 L343.0 630.4 L344.0 630.5 L345.0 630.5 L346.0 630.5 L347.0 630.6 L348.0 630.6 L349.0 630.7 L350.0 630.7 L351.0 630.8 L352.0 630.8 L353.0 630.9 L354.0 630.9 L355.0 631.0 L356.0 631.0 L357.0 631.0 L358.0 631.1 L359.0 631.1 L360.0 631.2 L361.1 631.2 L362.1 631.3 L363.1 631.3 L364.1 631.4 L365.1 631.4 L366.1 631.5 L367.1 631.5 L368.1 631.5 L369.1 631.6 L370.1 631.6 L371.1 631.7 L372.1 631.7 L373.1 631.8 L374.1 631.8 L375.1 631.9 L376.1 631.9 L377.1 632.0 L378.1 632.0 L379.1 632.1 L380.1 632.1 L381.1 632.2 L382.1 632.2 L383.1 632.3 L384.1 632.3 L385.1 632.4 L386.1 632.4 L387.1 632.5 L388.1 632.5 L389.1 632.6 L390.1 632.6 L391.1 632.6 L392.1 632.7 L393.1 632.7 L394.1 632.8 L395.1 632.8 L396.1 632.9 L397.1 632.9 L398.1 633.0 L399.1 633.0 L400.1 633.1 L401.1 633.1 L402.1 633.2 L403.1 633.2 L404.1 633.3 L405.1 633.3 L406.1 633.4 L407.1 633.4 L408.1 633.5 L409.1 633.5 L410.1 633.6 L411.1 633.6 L412.1 633.7 L413.1 633.7 L414.1 633.8 L415.1 633.8 L416.1 633.9 L417.1 633.9 L418.1 634.0 L419.2 634.0 L420.2 634.1 L421.2 634.1 L422.2 634.2 L423.2 634.2 L424.2 634.3 L425.2 634.3 L426.2 634.4 L427.2 634.4 L428.2 634.5 L429.2 634.5 L430.2 634.6 L431.2 634.6 L432.2 634.7 L433.2 634.7 L434.2 634.8 L435.2 634.8 L436.2 634.9 L437.2 634.9 L438.2 635.0 L439.2 635.0 L440.2 635.1 L441.2 635.1 L442.2 635.2 L443.2 635.2 L444.2 635.3 L445.2 635.3 L446.2 635.4 L447.2 635.4 L448.2 635.5 L449.2 635.5 L450.2 635.6" fill="none" stroke="#ff4646" stroke-width="1.0" stroke-dasharray="2.3 4.25"/>
<path d="M86.6 720.4 L87.6 720.7 L88.6 721.0 L89.5 721.2 L90.5 721.4 L91.5 721.5 L92.5 721.5 L93.5 721.5 L94.5 721.5 L95.6 721.5 L96.6 721.5 L97.5 721.5 L98.5 721.4 L99.4 721.1 L100.4 720.8 L101.3 720.3 L102.2 719.8 L103.1 719.3 L104.1 718.9 L105.0 718.4 L105.9 718.0 L106.9 717.7 L107.8 717.4 L108.8 717.1 L109.8 716.9 L110.7 716.6 L111.7 716.4 L112.7 716.2 L113.7 715.9 L114.7 715.7 L115.6 715.5 L116.6 715.2 L117.6 715.0 L118.6 714.7 L119.6 714.5 L120.5 714.3 L121.5 714.0 L122.5 713.8 L123.5 713.6 L124.4 713.3 L125.4 713.1 L126.4 712.8 L127.4 712.6 L128.3 712.3 L129.3 712.1 L130.3 711.8 L131.2 711.5 L132.2 711.2 L133.2 710.9 L134.1 710.6 L135.1 710.3 L136.1 710.0 L137.0 709.8 L138.0 709.6 L139.0 709.3 L140.0 709.1 L140.9 708.9 L141.9 708.7 L142.9 708.5 L143.9 708.2 L144.9 708.0 L145.9 707.8 L146.8 707.6 L147.8 707.3 L148.8 707.1 L149.8 706.9 L150.7 706.6 L151.7 706.4 L152.7 706.1 L153.7 705.9 L154.6 705.7 L155.6 705.4 L156.6 705.2 L157.6 704.9 L158.5 704.7 L159.5 704.4 L160.5 704.2 L161.5 703.9 L162.4 703.7 L163.4 703.4 L164.4 703.1 L165.4 702.9 L166.3 702.7 L167.3 702.4 L168.3 702.2 L169.3 702.0 L170.3 701.8 L171.2 701.6 L172.2 701.4 L173.2 701.2 L174.2 701.0 L175.2 700.8 L176.2 700.6 L177.2 700.5 L178.2 700.3 L179.1 700.1 L180.1 699.9 L181.1 699.7 L182.1 699.5 L183.1 699.3 L184.1 699.1 L185.1 699.0 L186.1 699.0 L187.1 699.0 L188.1 699.0 L189.1 699.0 L190.1 699.0 L191.1 699.0 L192.1 699.0 L193.1 699.0 L194.1 699.0 L195.1 699.0 L196.2 699.0 L197.2 699.0 L198.2 699.0 L199.2 699.0 L200.2 699.0 L201.2 699.1 L202.2 699.1 L203.2 699.1 L204.2 699.1 L205.2 699.2 L206.2 699.2 L207.2 699.2 L208.2 699.2 L209.2 699.2 L210.2 699.3 L211.2 699.3 L212.2 699.3 L213.2 699.3 L214.2 699.4 L215.3 699.4 L216.3 699.4 L217.3 699.5 L218.3 699.5 L219.3 699.6 L220.3 699.6 L221.3 699.7 L222.3 699.8 L223.3 699.9 L224.3 700.0 L225.3 700.0 L226.3 700.1 L227.3 700.2 L228.3 700.3 L229.3 700.4 L230.3 700.4 L231.3 700.5 L232.3 700.6 L233.3 700.7 L234.3 700.7 L235.3 700.8 L236.3 700.9 L237.3 701.0 L238.3 701.0 L239.3 701.1 L240.3 701.2 L241.3 701.3 L242.3 701.4 L243.3 701.5 L244.3 701.6 L245.3 701.7 L246.3 701.8 L247.3 701.9 L248.3 702.0 L249.3 702.1 L250.3 702.1 L251.3 702.2 L252.3 702.3 L253.3 702.3 L254.3 702.4 L255.4 702.4 L256.4 702.5 L257.4 702.5 L258.4 702.6 L259.4 702.6 L260.4 702.7 L261.4 702.8 L262.4 702.9 L263.4 703.1 L264.4 703.2 L265.4 703.3 L266.4 703.5 L267.4 703.6 L268.3 703.8 L269.3 703.9 L270.3 704.0 L271.3 704.0 L272.4 704.1 L273.4 704.1 L274.4 704.2 L275.4 704.2 L276.4 704.3 L277.4 704.3 L278.4 704.3 L279.4 704.4 L280.4 704.4 L281.4 704.5 L282.4 704.6 L283.4 704.7 L284.4 704.8 L285.4 704.9 L286.4 705.0 L287.4 705.1 L288.4 705.3 L289.4 705.4 L290.4 705.5 L291.4 705.6 L292.4 705.6 L293.4 705.7 L294.4 705.7 L295.4 705.8 L296.4 705.8 L297.4 705.9 L298.4 705.9 L299.4 706.0 L300.4 706.0 L301.4 706.1 L302.4 706.1 L303.4 706.2 L304.4 706.2 L305.4 706.3 L306.5 706.4 L307.5 706.4 L308.5 706.5 L309.5 706.6 L310.5 706.6 L311.5 706.7 L312.5 706.7 L313.5 706.8 L314.5 706.9 L315.5 706.9 L316.5 707.0 L317.5 707.1 L318.5 707.1 L319.5 707.2 L320.5 707.3 L321.5 707.3 L322.5 707.4 L323.5 707.4 L324.5 707.5 L325.5 707.6 L326.5 707.6 L327.5 707.7 L328.5 707.7 L329.5 707.8 L330.5 707.9 L331.5 707.9 L332.5 708.0 L333.6 708.0 L334.6 708.1 L335.6 708.1 L336.6 708.2 L337.6 708.2 L338.6 708.3 L339.6 708.3 L340.6 708.3 L341.6 708.4 L342.6 708.4 L343.6 708.5 L344.6 708.5 L345.6 708.6 L346.6 708.6 L347.6 708.7 L348.6 708.7 L349.6 708.7 L350.6 708.8 L351.6 708.8 L352.6 708.9 L353.6 708.9 L354.6 709.0 L355.6 709.0 L356.7 709.0 L357.7 709.1 L358.7 709.1 L359.7 709.2 L360.7 709.2 L361.7 709.2 L362.7 709.3 L363.7 709.3 L364.7 709.3 L365.7 709.4 L366.7 709.4 L367.7 709.4 L368.7 709.5 L369.7 709.5 L370.7 709.5 L371.7 709.6 L372.7 709.6 L373.7 709.6 L374.7 709.7 L375.7 709.7 L376.7 709.7 L377.8 709.8 L378.8 709.8 L379.8 709.8 L380.8 709.9 L381.8 709.9 L382.8 709.9 L383.8 709.9 L384.8 710.0 L385.8 710.0 L386.8 710.0 L387.8 710.1 L388.8 710.1 L389.8 710.1 L390.8 710.1 L391.8 710.2 L392.8 710.2 L393.8 710.2 L394.8 710.2 L395.8 710.3 L396.9 710.3 L397.9 710.3 L398.9 710.3 L399.9 710.4 L400.9 710.4 L401.9 710.4 L402.9 710.4 L403.9 710.5 L404.9 710.5 L405.9 710.5 L406.9 710.5 L407.9 710.5 L408.9 710.6 L409.9 710.6 L410.9 710.6 L411.9 710.6 L412.9 710.6 L413.9 710.7 L414.9 710.7 L416.0 710.7 L417.0 710.7 L418.0 710.7 L419.0 710.8 L420.0 710.8 L421.0 710.8 L422.0 710.8 L423.0 710.8 L424.0 710.8 L425.0 710.9 L426.0 710.9 L427.0 710.9 L428.0 710.9 L429.0 710.9 L430.0 710.9 L431.0 710.9 L432.0 711.0 L433.0 711.0 L434.0 711.0 L435.1 711.0 L436.1 711.0 L437.1 711.0 L438.1 711.0 L439.1 711.0 L440.1 711.1 L441.1 711.1 L442.1 711.1 L443.1 711.1 L444.1 711.1" fill="none" stroke="#6464ff" stroke-width="1" stroke-dasharray="11 9.5"/>
<path d="M454.0 465.0 L454.0 464.0 L454.0 463.0 L454.0 462.0 L454.1 461.0 L454.1 460.0 L454.1 459.0 L454.1 458.0 L454.2 457.0 L454.2 456.0 L454.3 455.0 L454.3 454.0 L454.4 453.0 L454.4 452.0 L454.5 451.0 L454.6 449.9 L454.7 448.9 L454.8 447.8 L454.9 446.7 L455.0 445.6 L455.2 444.6 L455.4 443.6 L455.6 442.7 L455.9 441.9 L456.2 441.1 L457.0 440.4 L457.9 440.1 L458.5 440.6 L459.1 441.6 L459.6 442.7 L460.0 443.6 L460.3 444.5 L460.7 445.5 L460.9 446.4 L461.2 447.4 L461.5 448.4 L461.7 449.4 L462.0 450.4 L462.3 451.3 L462.5 452.3 L462.8 453.2 L463.1 454.2 L463.4 455.2 L463.7 456.1 L463.9 457.1 L464.2 458.1 L464.5 459.0 L464.8 460.0 L465.1 460.9 L465.4 461.9 L465.8 462.8 L466.1 463.8 L466.4 464.7 L466.7 465.7 L467.1 466.6 L467.4 467.6 L467.7 468.5 L468.0 469.5 L468.3 470.4 L468.7 471.4 L469.0 472.3 L469.3 473.3 L469.6 474.2 L469.9 475.2 L470.3 476.1 L470.6 477.1 L470.9 478.0 L471.2 479.0 L471.5 479.9 L471.9 480.9 L472.2 481.8 L472.5 482.8 L472.8 483.8 L473.1 484.7 L473.4 485.7 L473.7 486.6 L474.0 487.6 L474.4 488.5 L474.7 489.4 L475.1 490.4 L475.5 491.3 L475.8 492.2 L476.2 493.2 L476.6 494.1 L477.0 495.0 L477.4 495.9 L477.8 496.8 L478.3 497.7 L478.7 498.7 L479.1 499.6 L479.5 500.5 L480.0 501.4 L480.4 502.3 L480.9 503.2 L481.3 504.0 L481.8 504.9 L482.3 505.8 L482.8 506.7 L483.3 507.6 L483.7 508.5 L484.2 509.3 L484.7 510.2 L485.2 511.1 L485.6 512.0 L486.1 512.9 L486.5 513.8 L487.0 514.7 L487.4 515.6 L487.9 516.5 L488.3 517.4 L488.8 518.3 L489.3 519.1 L489.8 520.0 L490.4 520.8 L491.0 521.6 L491.6 522.4 L492.2 523.2 L492.8 524.0 L493.5 524.8 L494.1 525.6 L494.7 526.4 L495.3 527.1 L495.9 527.9 L496.6 528.7 L497.2 529.5 L497.8 530.3 L498.5 531.0 L499.1 531.8 L499.8 532.6 L500.4 533.3 L501.1 534.1 L501.8 534.8 L502.4 535.6 L503.1 536.3 L503.8 537.0 L504.5 537.7 L505.2 538.5 L505.9 539.2 L506.6 539.9 L507.3 540.6 L508.1 541.3 L508.8 542.0 L509.5 542.7 L510.2 543.4 L511.0 544.0 L511.7 544.7 L512.5 545.4 L513.2 546.1 L513.9 546.8 L514.7 547.4 L515.5 548.1 L516.2 548.7 L517.0 549.3 L517.8 549.9 L518.6 550.5 L519.4 551.1 L520.2 551.7 L521.1 552.2 L521.9 552.8 L522.7 553.3 L523.6 553.9 L524.4 554.4 L525.3 555.0 L526.1 555.5 L527.0 556.0 L527.9 556.5 L528.7 557.0 L529.6 557.5 L530.5 558.0 L531.4 558.5 L532.3 559.0 L533.1 559.5 L534.0 560.0 L534.9 560.4 L535.8 560.9 L536.7 561.4 L537.6 561.9 L538.4 562.3 L539.3 562.8 L540.2 563.2 L541.1 563.7 L542.0 564.1 L542.9 564.6 L543.8 565.0 L544.7 565.5 L545.6 565.9 L546.5 566.4 L547.4 566.8 L548.3 567.2 L549.2 567.7 L550.1 568.1 L551.1 568.5 L552.0 568.9 L552.9 569.3 L553.8 569.7 L554.7 570.1 L555.7 570.5 L556.6 570.9 L557.5 571.3 L558.4 571.7 L559.4 572.1 L560.3 572.5 L561.2 572.8 L562.1 573.2 L563.1 573.5 L564.0 573.9 L564.9 574.2 L565.9 574.6 L566.8 574.9 L567.8 575.3 L568.7 575.6 L569.7 576.0 L570.6 576.3 L571.6 576.6 L572.5 577.0 L573.5 577.3 L574.4 577.6 L575.4 577.9 L576.3 578.2 L577.3 578.6 L578.2 578.9 L579.2 579.2 L580.2 579.5 L581.1 579.8 L582.1 580.0 L583.0 580.3 L584.0 580.6 L585.0 580.9 L585.9 581.2 L586.9 581.4 L587.9 581.7 L588.8 582.0 L589.8 582.2 L590.8 582.5 L591.7 582.7 L592.7 582.9 L593.7 583.2 L594.6 583.4 L595.6 583.7 L596.6 583.9 L597.6 584.1 L598.5 584.3 L599.5 584.5 L600.5 584.8 L601.5 585.0 L602.5 585.2 L603.4 585.4 L604.4 585.6 L605.4 585.8 L606.4 586.0 L607.4 586.2 L608.3 586.4 L609.3 586.6 L610.3 586.8 L611.3 587.0 L612.3 587.2 L613.3 587.4 L614.3 587.5 L615.3 587.7 L616.2 587.9 L617.2 588.1 L618.2 588.3 L619.2 588.5 L620.2 588.7 L621.2 588.8 L622.2 589.0 L623.2 589.2 L624.1 589.4 L625.1 589.6 L626.1 589.8 L627.1 590.0 L628.1 590.1 L629.1 590.3 L630.1 590.5 L631.0 590.7 L632.0 590.9 L633.0 591.1 L634.0 591.3 L635.0 591.4 L636.0 591.6 L637.0 591.8 L637.9 592.0 L638.9 592.2 L639.9 592.4 L640.9 592.5 L641.9 592.7 L642.9 592.9 L643.9 593.1 L644.8 593.3 L645.8 593.5 L646.8 593.6 L647.8 593.8 L648.8 594.0 L649.8 594.2 L650.8 594.3 L651.7 594.5 L652.7 594.7 L653.7 594.9 L654.7 595.0 L655.7 595.2 L656.7 595.4 L657.7 595.6 L658.7 595.7 L659.7 595.9 L660.6 596.1 L661.6 596.2 L662.6 596.4 L663.6 596.6 L664.6 596.7 L665.6 596.9 L666.6 597.1 L667.6 597.2 L668.6 597.4 L669.5 597.5 L670.5 597.7 L671.5 597.8 L672.5 598.0 L673.5 598.1 L674.5 598.3 L675.5 598.4 L676.5 598.6 L677.5 598.7 L678.5 598.9 L679.5 599.0 L680.4 599.2 L681.4 599.3 L682.4 599.5 L683.4 599.6 L684.4 599.8 L685.4 599.9 L686.4 600.1 L687.4 600.2 L688.4 600.3 L689.4 600.5 L690.4 600.6 L691.4 600.8 L692.4 600.9 L693.4 601.0 L694.3 601.2 L695.3 601.3 L696.3 601.5 L697.3 601.6 L698.3 601.7 L699.3 601.9 L700.3 602.0 L701.3 602.1 L702.3 602.2 L703.3 602.4 L704.3 602.5 L705.3 602.6 L706.3 602.8 L707.3 602.9 L708.3 603.0 L709.3 603.1 L710.3 603.3 L711.3 603.4 L712.2 603.5 L713.2 603.6 L714.2 603.8 L715.2 603.9 L716.2 604.0 L717.2 604.1 L718.2 604.2 L719.2 604.3 L720.2 604.5 L721.2 604.6 L722.2 604.7 L723.2 604.8 L724.2 604.9 L725.2 605.0 L726.2 605.1 L727.2 605.2 L728.2 605.4 L729.2 605.5 L730.2 605.6 L731.2 605.7 L732.2 605.8 L733.2 605.9 L734.2 606.0 L735.2 606.1 L736.2 606.2 L737.2 606.3 L738.2 606.4 L739.2 606.5 L740.1 606.6 L741.1 606.7 L742.1 606.8 L743.1 606.9 L744.1 607.0 L745.1 607.1 L746.1 607.2 L747.1 607.3 L748.1 607.3 L749.1 607.4 L750.1 607.5 L751.1 607.6 L752.1 607.7 L753.1 607.8 L754.1 607.9 L755.1 608.0 L756.1 608.1 L757.1 608.2 L758.1 608.3 L759.1 608.4 L760.1 608.5 L761.1 608.6 L762.1 608.7 L763.1 608.8 L764.1 608.9 L765.1 609.0 L766.1 609.1 L767.1 609.2 L768.1 609.3 L769.1 609.4 L770.1 609.4 L771.1 609.5 L772.1 609.6 L773.1 609.7 L774.1 609.8 L775.1 609.9 L776.1 610.0 L777.1 610.1 L778.1 610.2 L779.1 610.3 L780.1 610.4 L781.1 610.5 L782.1 610.6 L783.1 610.7 L784.1 610.8 L785.1 610.9 L786.1 611.0 L787.1 611.1 L788.1 611.2 L789.1 611.3 L790.1 611.4 L791.1 611.5 L792.1 611.6 L793.1 611.7 L794.0 611.8 L795.0 611.9 L796.0 612.0 L797.0 612.1 L798.0 612.2 L799.0 612.3 L800.0 612.4 L801.0 612.5 L802.0 612.6 L803.0 612.7 L804.0 612.8 L805.0 612.9 L806.0 613.0 L807.0 613.0 L808.0 613.1 L809.0 613.2 L810.0 613.3 L811.0 613.4 L812.0 613.5 L813.0 613.6 L814.0 613.7 L815.0 613.8 L816.0 613.9 L817.0 614.0 L818.0 614.1 L819.0 614.2" fill="none" stroke="#2a2a2a" stroke-width="0.85"/>
<path d="M456.1 493.7 L456.1 492.7 L456.1 491.7 L456.1 490.7 L456.2 489.7 L456.2 488.7 L456.3 487.7 L456.3 486.7 L456.4 485.7 L456.5 484.7 L456.5 483.7 L456.6 482.7 L456.7 481.7 L456.8 480.7 L456.9 479.7 L457.0 478.7 L457.1 477.7 L457.2 476.7 L457.3 475.7 L457.4 474.7 L457.6 473.7 L457.7 472.7 L457.9 471.7 L458.1 470.8 L458.4 469.8 L458.6 468.8 L458.8 467.8 L459.1 466.8 L459.3 465.6 L459.5 464.3 L459.8 463.2 L460.2 462.4 L460.7 462.2 L461.7 462.2 L462.8 462.2 L463.4 462.4 L463.9 463.0 L464.3 464.0 L464.7 465.1 L465.1 466.3 L465.4 467.4 L465.9 468.3 L466.3 469.2 L466.7 470.1 L467.1 471.0 L467.6 471.9 L468.0 472.8 L468.4 473.8 L468.8 474.7 L469.2 475.6 L469.6 476.5 L470.0 477.4 L470.4 478.4 L470.7 479.3 L471.1 480.2 L471.5 481.2 L471.9 482.1 L472.2 483.0 L472.6 484.0 L472.9 484.9 L473.3 485.8 L473.7 486.8 L474.0 487.7 L474.4 488.6 L474.8 489.5 L475.2 490.5 L475.6 491.4 L476.0 492.3 L476.3 493.2 L476.7 494.2 L477.1 495.1 L477.5 496.0 L477.9 496.9 L478.3 497.9 L478.7 498.8 L479.2 499.7 L479.6 500.6 L480.0 501.5 L480.5 502.4 L480.9 503.3 L481.4 504.1 L481.9 505.0 L482.3 505.9 L482.8 506.8 L483.3 507.7 L483.8 508.6 L484.3 509.4 L484.7 510.3 L485.2 511.2 L485.7 512.1 L486.1 513.0 L486.6 513.9 L487.0 514.8 L487.5 515.7 L487.9 516.6 L488.4 517.5 L488.8 518.4 L489.4 519.2 L489.9 520.1 L490.5 520.9 L491.1 521.7 L491.7 522.5 L492.3 523.3 L492.9 524.1 L493.5 524.9 L494.1 525.7 L494.8 526.4 L495.4 527.2 L496.0 528.0 L496.6 528.8 L497.3 529.6 L497.9 530.4 L498.6 531.1 L499.2 531.9 L499.9 532.6 L500.5 533.4 L501.2 534.2 L501.8 534.9 L502.5 535.6 L503.2 536.4 L503.9 537.1 L504.6 537.8 L505.3 538.5 L506.0 539.3 L506.7 540.0 L507.4 540.7 L508.1 541.4 L508.9 542.1 L509.6 542.7 L510.3 543.4 L511.1 544.1 L511.8 544.8 L512.5 545.5 L513.3 546.2 L514.0 546.8 L514.8 547.5 L515.5 548.1 L516.3 548.8 L517.1 549.4 L517.9 550.0 L518.7 550.6 L519.5 551.2 L520.3 551.7 L521.2 552.3 L522.0 552.8 L522.8 553.4 L523.7 553.9 L524.5 554.5 L525.4 555.0 L526.2 555.5 L527.1 556.1 L528.0 556.6 L528.8 557.1 L529.7 557.6 L530.6 558.1 L531.5 558.6 L532.3 559.1 L533.2 559.5 L534.1 560.0 L535.0 560.5 L535.9 561.0 L536.8 561.4 L537.6 561.9 L538.5 562.4 L539.4 562.8 L540.3 563.3 L541.2 563.7 L542.1 564.2 L543.0 564.6 L543.9 565.1 L544.8 565.5 L545.7 566.0 L546.6 566.4 L547.5 566.8 L548.4 567.3 L549.3 567.7 L550.2 568.1 L551.1 568.5 L552.1 569.0 L553.0 569.4 L553.9 569.8 L554.8 570.2 L555.7 570.6 L556.7 571.0 L557.6 571.4 L558.5 571.7 L559.4 572.1 L560.4 572.5 L561.3 572.9 L562.2 573.2 L563.2 573.6 L564.1 573.9 L565.0 574.3 L566.0 574.6 L566.9 575.0 L567.8 575.3 L568.8 575.7 L569.7 576.0 L570.7 576.3 L571.6 576.7 L572.6 577.0 L573.5 577.3 L574.5 577.6 L575.4 578.0 L576.4 578.3 L577.4 578.6 L578.3 578.9 L579.3 579.2 L580.2 579.5 L581.2 579.8 L582.1 580.1 L583.1 580.4 L584.1 580.6 L585.0 580.9 L586.0 581.2 L587.0 581.5 L587.9 581.7 L588.9 582.0 L589.9 582.2 L590.8 582.5 L591.8 582.7 L592.8 583.0 L593.7 583.2 L594.7 583.4 L595.7 583.7 L596.7 583.9 L597.6 584.1 L598.6 584.3 L599.6 584.6 L600.6 584.8 L601.5 585.0 L602.5 585.2 L603.5 585.4 L604.5 585.6 L605.5 585.8 L606.5 586.0 L607.4 586.2 L608.4 586.4 L609.4 586.6 L610.4 586.8 L611.4 587.0 L612.4 587.2 L613.3 587.4 L614.3 587.6 L615.3 587.7 L616.3 587.9 L617.3 588.1 L618.3 588.3 L619.3 588.5 L620.3 588.7 L621.2 588.9 L622.2 589.0 L623.2 589.2 L624.2 589.4 L625.2 589.6 L626.2 589.8 L627.2 590.0 L628.1 590.2 L629.1 590.3 L630.1 590.5 L631.1 590.7 L632.1 590.9 L633.1 591.1 L634.1 591.3 L635.0 591.5 L636.0 591.6 L637.0 591.8 L638.0 592.0 L639.0 592.2 L640.0 592.4 L641.0 592.6 L641.9 592.7 L642.9 592.9 L643.9 593.1 L644.9 593.3 L645.9 593.5 L646.9 593.6 L647.9 593.8 L648.8 594.0 L649.8 594.2 L650.8 594.4 L651.8 594.5 L652.8 594.7 L653.8 594.9 L654.8 595.1 L655.8 595.2 L656.7 595.4 L657.7 595.6 L658.7 595.7 L659.7 595.9 L660.7 596.1 L661.7 596.2 L662.7 596.4 L663.7 596.6 L664.6 596.7 L665.6 596.9 L666.6 597.1 L667.6 597.2 L668.6 597.4 L669.6 597.5 L670.6 597.7 L671.6 597.8 L672.6 598.0 L673.6 598.2 L674.5 598.3 L675.5 598.5 L676.5 598.6 L677.5 598.8 L678.5 598.9 L679.5 599.1 L680.5 599.2 L681.5 599.3 L682.5 599.5 L683.5 599.6 L684.5 599.8 L685.5 599.9 L686.4 600.1 L687.4 600.2 L688.4 600.4 L689.4 600.5 L690.4 600.6 L691.4 600.8 L692.4 600.9 L693.4 601.0 L694.4 601.2 L695.4 601.3 L696.4 601.5 L697.4 601.6 L698.4 601.7 L699.4 601.9 L700.3 602.0 L701.3 602.1 L702.3 602.3 L703.3 602.4 L704.3 602.5 L705.3 602.6 L706.3 602.8 L707.3 602.9 L708.3 603.0 L709.3 603.1 L710.3 603.3 L711.3 603.4 L712.3 603.5 L713.3 603.6 L714.3 603.8 L715.3 603.9 L716.3 604.0 L717.3 604.1 L718.3 604.2 L719.2 604.4 L720.2 604.5 L721.2 604.6 L722.2 604.7 L723.2 604.8 L724.2 604.9 L725.2 605.0 L726.2 605.1 L727.2 605.2 L728.2 605.4 L729.2 605.5 L730.2 605.6 L731.2 605.7 L732.2 605.8 L733.2 605.9 L734.2 606.0 L735.2 606.1 L736.2 606.2 L737.2 606.3 L738.2 606.4 L739.2 606.5 L740.2 606.6 L741.2 606.7 L742.2 606.8 L743.2 606.9 L744.2 607.0 L745.2 607.1 L746.2 607.2 L747.2 607.3 L748.2 607.4 L749.2 607.4 L750.2 607.5 L751.2 607.6 L752.2 607.7 L753.1 607.8 L754.1 607.9 L755.1 608.0 L756.1 608.1 L757.1 608.2 L758.1 608.3 L759.1 608.4 L760.1 608.5 L761.1 608.6 L762.1 608.7 L763.1 608.8 L764.1 608.9 L765.1 609.0 L766.1 609.1 L767.1 609.2 L768.1 609.3 L769.1 609.4 L770.1 609.5 L771.1 609.5 L772.1 609.6 L773.1 609.7 L774.1 609.8 L775.1 609.9 L776.1 610.0 L777.1 610.1 L778.1 610.2 L779.1 610.3 L780.1 610.4 L781.1 610.5 L782.1 610.6 L783.1 610.7 L784.1 610.8 L785.1 610.9 L786.1 611.0 L787.1 611.1 L788.1 611.2 L789.1 611.3 L790.1 611.4 L791.1 611.5 L792.1 611.6 L793.1 611.7 L794.1 611.8 L795.1 611.9 L796.1 612.0 L797.0 612.1 L798.0 612.2 L799.0 612.3 L800.0 612.4 L801.0 612.5 L802.0 612.6 L803.0 612.7 L804.0 612.8 L805.0 612.9 L806.0 613.0 L807.0 613.0 L808.0 613.1 L809.0 613.2 L810.0 613.3 L811.0 613.4 L812.0 613.5 L813.0 613.6 L814.0 613.7 L815.0 613.8 L816.0 613.9 L817.0 614.0 L818.0 614.1 L819.0 614.2" fill="none" stroke="#000" stroke-width="1.85" stroke-dasharray="24.2 1.2 1.5 1.2" stroke-dashoffset="2"/>
<path d="M454.0 500.2 L454.1 499.1 L454.2 498.1 L454.3 497.0 L454.5 495.9 L454.6 494.9 L454.7 493.8 L454.9 492.7 L455.0 491.7 L455.2 490.6 L455.3 489.6 L455.5 488.5 L455.7 487.4 L455.8 486.4 L456.0 485.3 L456.2 484.3 L456.4 483.2 L456.6 482.2 L456.8 481.1 L457.0 480.0 L457.2 479.0 L457.4 477.9 L457.6 476.9 L457.9 475.8 L458.1 474.8" fill="none" stroke="#ff4cff" stroke-width="1"/>
<path d="M462.2 484.7 L462.4 485.7 L462.6 486.7 L462.8 487.7 L463.0 488.6 L463.3 489.6 L463.5 490.6 L463.7 491.6 L464.0 492.6 L464.2 493.5 L464.4 494.5 L464.7 495.5 L464.9 496.4 L465.2 497.4 L465.5 498.4 L465.7 499.4 L466.0 500.3 L466.2 501.3 L466.5 502.3 L466.8 503.2 L467.1 504.2 L467.4 505.1 L467.6 506.1 L467.9 507.1 L468.2 508.0 L468.5 509.0 L468.8 509.9 L469.1 510.9 L469.4 511.8 L469.7 512.8 L470.0 513.7 L470.3 514.7 L470.7 515.6 L471.0 516.6 L471.3 517.5 L471.7 518.5 L472.0 519.4 L472.4 520.4 L472.7 521.3 L473.1 522.2 L473.4 523.2 L473.8 524.1 L474.1 525.1 L474.5 526.0 L474.8 526.9 L475.2 527.9 L475.5 528.8 L475.9 529.8 L476.2 530.7 L476.5 531.7 L476.9 532.6 L477.2 533.5 L477.6 534.5 L478.0 535.4 L478.3 536.4 L478.7 537.3 L479.0 538.2 L479.4 539.2 L479.8 540.1 L480.1 541.0 L480.5 542.0 L480.9 542.9 L481.3 543.8 L481.6 544.7 L482.0 545.7 L482.4 546.6 L482.8 547.5 L483.2 548.4 L483.6 549.3 L484.1 550.2 L484.5 551.1 L484.9 552.0 L485.4 552.9 L485.8 553.8 L486.3 554.7 L486.7 555.6 L487.2 556.5 L487.7 557.4 L488.1 558.3 L488.6 559.2 L489.1 560.1 L489.5 561.0 L490.0 561.9 L490.5 562.8 L491.0 563.6 L491.4 564.5 L491.9 565.4 L492.4 566.3 L492.9 567.2 L493.4 568.1 L493.9 569.0 L494.4 569.8 L494.9 570.7 L495.4 571.6 L495.9 572.4 L496.4 573.3 L496.9 574.2 L497.5 575.0 L498.0 575.8 L498.5 576.7 L499.1 577.5 L499.7 578.3 L500.2 579.1 L500.8 579.9 L501.4 580.7 L502.0 581.5 L502.6 582.3 L503.3 583.1 L503.9 583.8 L504.6 584.6 L505.3 585.3 L506.0 586.1 L506.7 586.8 L507.4 587.5 L508.1 588.2 L508.7 589.0 L509.4 589.7 L510.2 590.4 L510.9 591.1 L511.6 591.8 L512.3 592.5 L513.0 593.2 L513.7 593.9 L514.4 594.6 L515.2 595.3 L515.9 596.0 L516.6 596.7 L517.4 597.4 L518.1 598.1 L518.8 598.8 L519.6 599.4 L520.3 600.1 L521.1 600.8 L521.8 601.4 L522.6 602.1 L523.4 602.8 L524.1 603.4 L524.9 604.0 L525.7 604.7 L526.4 605.3 L527.2 606.0 L528.0 606.6 L528.8 607.2 L529.6 607.8 L530.3 608.4 L531.1 609.0 L532.0 609.6 L532.8 610.2 L533.6 610.8 L534.4 611.4 L535.3 611.9 L536.1 612.5 L536.9 613.0 L537.8 613.5 L538.7 614.0 L539.5 614.5 L540.4 615.0 L541.3 615.5 L542.1 616.0 L543.0 616.5 L543.9 616.9 L544.8 617.4 L545.7 617.9 L546.6 618.3 L547.5 618.8 L548.4 619.2 L549.3 619.7 L550.2 620.1 L551.1 620.6 L552.0 621.0 L552.9 621.5 L553.8 621.9 L554.7 622.3 L555.6 622.8 L556.5 623.2 L557.4 623.7 L558.3 624.1 L559.2 624.5 L560.1 625.0 L561.0 625.4 L561.9 625.9 L562.8 626.4 L563.7 626.8 L564.6 627.3 L565.4 627.8 L566.3 628.3 L567.2 628.7 L568.1 629.2 L569.0 629.6 L569.9 630.0 L570.8 630.4 L571.8 630.8 L572.7 631.2 L573.6 631.5 L574.5 631.9 L575.5 632.2 L576.4 632.5 L577.4 632.9 L578.3 633.2 L579.3 633.5 L580.2 633.8 L581.2 634.1 L582.1 634.4 L583.1 634.7 L584.1 635.0 L585.0 635.3 L586.0 635.6 L586.9 635.9 L587.9 636.2 L588.9 636.5 L589.8 636.8 L590.8 637.0 L591.8 637.3 L592.7 637.6 L593.7 637.9 L594.7 638.2 L595.6 638.5 L596.6 638.8 L597.5 639.1 L598.5 639.5 L599.4 639.8 L600.4 640.1 L601.3 640.4 L602.3 640.8 L603.2 641.1 L604.2 641.4 L605.1 641.7 L606.1 642.0 L607.0 642.3 L608.0 642.6 L609.0 642.9 L609.9 643.1 L610.9 643.4 L611.9 643.6 L612.8 643.9 L613.8 644.1 L614.8 644.4 L615.8 644.6 L616.7 644.8 L617.7 645.1 L618.7 645.3 L619.7 645.5 L620.6 645.8 L621.6 646.0 L622.6 646.2 L623.6 646.4 L624.6 646.7 L625.5 646.9 L626.5 647.1 L627.5 647.4 L628.5 647.6 L629.4 647.9 L630.4 648.1 L631.4 648.4 L632.3 648.6 L633.3 648.9 L634.3 649.1 L635.2 649.4 L636.2 649.7 L637.2 649.9 L638.1 650.2 L639.1 650.5 L640.1 650.7 L641.1 650.9 L642.0 651.2 L643.0 651.4 L644.0 651.6 L645.0 651.9 L645.9 652.1 L646.9 652.3 L647.9 652.5 L648.9 652.7 L649.9 652.9 L650.8 653.1 L651.8 653.3 L652.8 653.5 L653.8 653.7 L654.8 653.9 L655.8 654.1 L656.8 654.3 L657.7 654.4 L658.7 654.6 L659.7 654.8 L660.7 655.0 L661.7 655.2 L662.7 655.3 L663.7 655.5 L664.7 655.7 L665.6 655.8 L666.6 656.0 L667.6 656.2 L668.6 656.3 L669.6 656.5 L670.6 656.7 L671.6 656.8 L672.6 657.0 L673.6 657.1 L674.5 657.3 L675.5 657.4 L676.5 657.6 L677.5 657.7 L678.5 657.9 L679.5 658.0 L680.5 658.1 L681.5 658.3 L682.5 658.4 L683.5 658.6 L684.5 658.7 L685.5 658.9 L686.5 659.0 L687.5 659.2 L688.4 659.3 L689.4 659.5 L690.4 659.6 L691.4 659.8 L692.4 659.9 L693.4 660.1 L694.4 660.2 L695.4 660.4 L696.4 660.5 L697.4 660.7 L698.4 660.8 L699.3 661.0 L700.3 661.1 L701.3 661.3 L702.3 661.4 L703.3 661.6 L704.3 661.7 L705.3 661.9 L706.3 662.0 L707.3 662.1 L708.3 662.3 L709.3 662.4 L710.3 662.5 L711.3 662.7 L712.3 662.8 L713.3 662.9 L714.2 663.0 L715.2 663.2 L716.2 663.3 L717.2 663.4 L718.2 663.5 L719.2 663.6 L720.2 663.7 L721.2 663.9 L722.2 664.0 L723.2 664.1 L724.2 664.2 L725.2 664.3 L726.2 664.4 L727.2 664.5 L728.2 664.6 L729.2 664.7 L730.2 664.8 L731.2 664.9 L732.2 665.0 L733.2 665.1 L734.2 665.2 L735.2 665.3 L736.2 665.4 L737.2 665.5 L738.2 665.6 L739.2 665.7 L740.2 665.8 L741.2 665.9 L742.2 666.0 L743.2 666.1 L744.2 666.3 L745.2 666.4 L746.2 666.5 L747.1 666.6 L748.1 666.7 L749.1 666.9 L750.1 667.0 L751.1 667.2 L752.1 667.3 L753.1 667.5 L754.1 667.6 L755.1 667.7 L756.1 667.9 L757.1 668.0 L758.1 668.1 L759.1 668.2 L760.1 668.4 L761.1 668.5 L762.1 668.6 L763.1 668.7 L764.1 668.8 L765.0 668.9 L766.0 669.0 L767.0 669.1 L768.0 669.2 L769.0 669.2 L770.0 669.3 L771.0 669.4 L772.0 669.5 L773.0 669.6 L774.0 669.7 L775.0 669.8 L776.0 669.9 L777.0 670.0 L778.0 670.1 L779.0 670.2 L780.0 670.3 L781.0 670.4 L782.0 670.5 L783.0 670.6 L784.0 670.7 L785.0 670.8 L786.0 670.9 L787.0 671.0 L788.0 671.2 L789.0 671.3 L790.0 671.4 L791.0 671.6 L792.0 671.7 L793.0 671.8 L794.0 671.9 L795.0 672.0 L796.0 672.1 L797.0 672.2 L798.0 672.2 L799.0 672.3 L800.0 672.4 L801.0 672.5 L802.0 672.5 L803.0 672.6 L804.0 672.7 L805.0 672.8 L806.0 672.8 L807.0 672.9 L808.0 672.9 L809.0 673.0 L810.0 673.0 L811.0 673.1 L812.0 673.1 L813.0 673.2 L814.0 673.2 L815.0 673.2 L816.0 673.3 L817.0 673.3 L818.0 673.3 L819.0 673.3" fill="none" stroke="#ff4cff" stroke-width="1" stroke-dasharray="29.3 9"/>
<path d="M454.4 606.7 L454.4 605.0 L454.6 603.5 L454.8 602.3 L455.0 601.4 L455.3 600.8 L455.6 600.5 L456.0 600.6 L456.6 601.1 L457.4 601.9 L458.2 602.8 L459.0 603.7 L459.7 604.5 L460.3 605.3 L460.9 606.2 L461.5 607.0 L462.1 607.9 L462.6 608.7 L463.3 609.4 L463.9 610.1 L464.7 610.8 L465.5 611.4 L466.3 612.0 L467.2 612.5 L468.1 613.1 L468.9 613.5 L469.8 613.9 L470.7 614.3 L471.7 614.7 L472.6 615.1 L473.6 615.4 L474.5 615.7 L475.5 616.0 L476.5 616.3 L477.4 616.5 L478.4 616.8 L479.4 617.0 L480.4 617.2 L481.4 617.4 L482.4 617.5 L483.3 617.7 L484.3 617.8 L485.3 617.9 L486.3 618.1 L487.3 618.2 L488.3 618.3 L489.3 618.4 L490.3 618.6 L491.3 618.7 L492.3 618.8 L493.3 618.9 L494.3 619.1 L495.3 619.2 L496.3 619.3 L497.3 619.4 L498.3 619.5 L499.3 619.7 L500.3 619.8 L501.3 619.9 L502.3 620.0 L503.3 620.1 L504.3 620.2 L505.3 620.3 L506.3 620.4 L507.3 620.5 L508.3 620.6 L509.3 620.7 L510.2 620.8 L511.2 620.9 L512.2 621.0 L513.2 621.1 L514.2 621.2 L515.2 621.3 L516.2 621.4 L517.2 621.5 L518.2 621.6 L519.2 621.7 L520.2 621.8 L521.2 621.9 L522.2 622.0 L523.2 622.1 L524.2 622.2 L525.2 622.3 L526.2 622.4 L527.2 622.5 L528.2 622.6 L529.2 622.7 L530.2 622.8 L531.2 622.9 L532.2 622.9 L533.2 623.0 L534.2 623.1 L535.2 623.2 L536.2 623.2 L537.2 623.3 L538.2 623.4 L539.2 623.5 L540.2 623.5 L541.2 623.6 L542.2 623.7 L543.2 623.7 L544.2 623.8 L545.2 623.9 L546.2 623.9 L547.2 624.0 L548.2 624.1 L549.2 624.1 L550.2 624.2 L551.2 624.2 L552.2 624.3 L553.2 624.3 L554.2 624.4 L555.2 624.5 L556.2 624.5 L557.2 624.6 L558.2 624.6 L559.2 624.7 L560.2 624.7 L561.2 624.8 L562.2 624.8 L563.2 624.9 L564.2 624.9 L565.2 625.0 L566.3 625.0 L567.3 625.0 L568.3 625.1 L569.3 625.1 L570.3 625.2 L571.3 625.2 L572.3 625.3 L573.3 625.3 L574.3 625.3 L575.3 625.4 L576.3 625.4 L577.3 625.5 L578.3 625.5 L579.3 625.6 L580.3 625.6 L581.3 625.6 L582.3 625.7 L583.3 625.7 L584.3 625.7 L585.3 625.8 L586.3 625.8 L587.3 625.9 L588.3 625.9 L589.3 625.9 L590.3 626.0 L591.3 626.0 L592.3 626.1 L593.3 626.1 L594.3 626.1 L595.3 626.2 L596.3 626.2 L597.3 626.2 L598.3 626.3 L599.3 626.3 L600.3 626.3 L601.3 626.4 L602.3 626.4 L603.3 626.4 L604.3 626.5 L605.3 626.5 L606.3 626.6 L607.3 626.6 L608.3 626.6 L609.4 626.7 L610.4 626.7 L611.4 626.7 L612.4 626.8 L613.4 626.8 L614.4 626.8 L615.4 626.9 L616.4 626.9 L617.4 626.9 L618.4 627.0 L619.4 627.0 L620.4 627.0 L621.4 627.1 L622.4 627.1 L623.4 627.2 L624.4 627.2 L625.4 627.2 L626.4 627.3 L627.4 627.3 L628.4 627.3 L629.4 627.4 L630.4 627.4 L631.4 627.5 L632.4 627.5 L633.4 627.6 L634.4 627.6 L635.4 627.6 L636.4 627.7 L637.4 627.7 L638.4 627.8 L639.4 627.8 L640.4 627.8 L641.4 627.9 L642.4 627.9 L643.4 628.0 L644.4 628.0 L645.4 628.1 L646.4 628.1 L647.4 628.2 L648.4 628.2 L649.4 628.2 L650.4 628.3 L651.4 628.3 L652.4 628.4 L653.4 628.4 L654.5 628.5 L655.5 628.5 L656.5 628.6 L657.5 628.6 L658.5 628.7 L659.5 628.7 L660.5 628.8 L661.5 628.8 L662.5 628.9 L663.5 628.9 L664.5 628.9 L665.5 629.0 L666.5 629.0 L667.5 629.1 L668.5 629.1 L669.5 629.2 L670.5 629.2 L671.5 629.3 L672.5 629.3 L673.5 629.4 L674.5 629.4 L675.5 629.5 L676.5 629.5 L677.5 629.6 L678.5 629.6 L679.5 629.7 L680.5 629.7 L681.5 629.8 L682.5 629.8 L683.5 629.9 L684.5 629.9 L685.5 630.0 L686.5 630.0 L687.5 630.1 L688.5 630.1 L689.5 630.1 L690.5 630.2 L691.5 630.2 L692.5 630.3 L693.5 630.3 L694.5 630.4 L695.5 630.4 L696.5 630.5 L697.5 630.5 L698.5 630.6 L699.5 630.6 L700.5 630.7 L701.5 630.7 L702.5 630.8 L703.5 630.8 L704.5 630.9 L705.5 630.9 L706.6 630.9 L707.6 631.0 L708.6 631.0 L709.6 631.1 L710.6 631.1 L711.6 631.2 L712.6 631.2 L713.6 631.3 L714.6 631.3 L715.6 631.3 L716.6 631.4 L717.6 631.4 L718.6 631.5 L719.6 631.5 L720.6 631.6 L721.6 631.6 L722.6 631.7 L723.6 631.7 L724.6 631.7 L725.6 631.8 L726.6 631.8 L727.6 631.9 L728.6 631.9 L729.6 631.9 L730.6 632.0 L731.6 632.0 L732.6 632.1 L733.6 632.1 L734.6 632.2 L735.6 632.2 L736.6 632.2 L737.6 632.3 L738.6 632.3 L739.6 632.4 L740.6 632.4 L741.6 632.4 L742.6 632.5 L743.6 632.5 L744.6 632.6 L745.6 632.6 L746.6 632.7 L747.6 632.7 L748.6 632.7 L749.6 632.8 L750.6 632.8 L751.6 632.9 L752.6 632.9 L753.7 632.9 L754.7 633.0 L755.7 633.0 L756.7 633.1 L757.7 633.1 L758.7 633.1 L759.7 633.2 L760.7 633.2 L761.7 633.3 L762.7 633.3 L763.7 633.3 L764.7 633.4 L765.7 633.4 L766.7 633.5 L767.7 633.5 L768.7 633.5 L769.7 633.6 L770.7 633.6 L771.7 633.7 L772.7 633.7 L773.7 633.7 L774.7 633.8 L775.7 633.8 L776.7 633.9 L777.7 633.9 L778.7 633.9 L779.7 634.0 L780.7 634.0 L781.7 634.0 L782.7 634.1 L783.7 634.1 L784.7 634.2 L785.7 634.2 L786.7 634.2 L787.7 634.3 L788.7 634.3 L789.7 634.4 L790.7 634.4 L791.7 634.4 L792.7 634.5 L793.7 634.5 L794.7 634.5 L795.7 634.6 L796.8 634.6 L797.8 634.7 L798.8 634.7 L799.8 634.7 L800.8 634.8 L801.8 634.8 L802.8 634.8 L803.8 634.9 L804.8 634.9 L805.8 635.0 L806.8 635.0 L807.8 635.0 L808.8 635.1 L809.8 635.1 L810.8 635.1 L811.8 635.2 L812.8 635.2 L813.8 635.3 L814.8 635.3 L815.8 635.3 L816.8 635.4 L817.8 635.4" fill="none" stroke="#ff4646" stroke-width="1.0" stroke-dasharray="2.3 4.25"/>
<path d="M454.2 701.4 L455.1 700.8 L456.0 700.2 L456.9 700.0 L457.9 700.0 L458.9 700.1 L459.9 700.1 L460.9 700.2 L461.9 700.2 L462.9 700.1 L463.8 699.7 L464.8 699.3 L465.7 698.9 L466.7 698.6 L467.6 698.4 L468.6 698.1 L469.6 697.8 L470.5 697.6 L471.5 697.3 L472.5 697.0 L473.4 696.7 L474.4 696.4 L475.3 696.1 L476.3 695.8 L477.2 695.4 L478.2 695.0 L479.1 694.6 L480.0 694.3 L481.0 693.9 L481.9 693.6 L482.8 693.2 L483.8 692.9 L484.8 692.7 L485.7 692.4 L486.7 692.1 L487.7 691.9 L488.7 691.7 L489.6 691.4 L490.6 691.2 L491.6 691.0 L492.6 690.7 L493.5 690.5 L494.5 690.3 L495.5 690.1 L496.5 689.8 L497.5 689.6 L498.4 689.4 L499.4 689.2 L500.4 689.0 L501.4 688.8 L502.4 688.5 L503.4 688.3 L504.3 688.1 L505.3 687.9 L506.3 687.7 L507.3 687.4 L508.3 687.1 L509.2 686.9 L510.2 686.7 L511.2 686.5 L512.2 686.4 L513.2 686.3 L514.2 686.3 L515.2 686.3 L516.2 686.4 L517.2 686.4 L518.2 686.5 L519.2 686.6 L520.2 686.7 L521.2 686.8 L522.2 686.9 L523.2 687.0 L524.2 687.1 L525.2 687.2 L526.2 687.2 L527.2 687.3 L528.2 687.4 L529.2 687.5 L530.2 687.6 L531.2 687.7 L532.2 687.8 L533.2 687.9 L534.2 688.0 L535.2 688.1 L536.2 688.2 L537.2 688.4 L538.2 688.5 L539.2 688.6 L540.2 688.7 L541.2 688.9 L542.2 689.0 L543.2 689.1 L544.2 689.2 L545.2 689.4 L546.2 689.5 L547.2 689.6 L548.2 689.7 L549.2 689.8 L550.2 689.9 L551.2 690.0 L552.2 690.1 L553.2 690.3 L554.1 690.4 L555.1 690.5 L556.1 690.6 L557.1 690.6 L558.1 690.7 L559.1 690.8 L560.1 690.9 L561.1 691.0 L562.1 691.1 L563.1 691.2 L564.1 691.3 L565.1 691.4 L566.1 691.5 L567.1 691.6 L568.1 691.7 L569.1 691.8 L570.1 691.9 L571.1 692.1 L572.1 692.2 L573.1 692.3 L574.1 692.4 L575.1 692.5 L576.1 692.6 L577.1 692.7 L578.1 692.8 L579.1 692.9 L580.1 693.1 L581.1 693.2 L582.1 693.3 L583.1 693.4 L584.1 693.4 L585.1 693.5 L586.1 693.6 L587.1 693.7 L588.1 693.8 L589.1 693.8 L590.1 693.9 L591.1 694.0 L592.1 694.0 L593.1 694.1 L594.1 694.1 L595.1 694.2 L596.1 694.2 L597.1 694.3 L598.1 694.3 L599.1 694.3 L600.1 694.3 L601.2 694.4 L602.2 694.4 L603.2 694.4 L604.2 694.5 L605.2 694.5 L606.2 694.5 L607.2 694.6 L608.2 694.7 L609.2 694.7 L610.2 694.8 L611.2 694.9 L612.2 694.9 L613.2 695.0 L614.2 695.1 L615.2 695.1 L616.2 695.2 L617.2 695.3 L618.2 695.3 L619.2 695.4 L620.2 695.5 L621.2 695.6 L622.2 695.6 L623.2 695.7 L624.2 695.8 L625.2 695.9 L626.2 695.9 L627.2 696.0 L628.2 696.1 L629.2 696.1 L630.2 696.2 L631.2 696.3 L632.2 696.3 L633.2 696.4 L634.2 696.4 L635.2 696.5 L636.2 696.6 L637.2 696.6 L638.2 696.7 L639.2 696.8 L640.2 696.9 L641.2 696.9 L642.2 697.0 L643.2 697.1 L644.2 697.2 L645.2 697.2 L646.2 697.3 L647.2 697.4 L648.2 697.5 L649.2 697.5 L650.2 697.6 L651.2 697.7 L652.2 697.8 L653.2 697.9 L654.2 697.9 L655.2 698.0 L656.2 698.1 L657.2 698.2 L658.3 698.2 L659.3 698.3 L660.3 698.4 L661.3 698.5 L662.3 698.6 L663.3 698.6 L664.3 698.7 L665.3 698.8 L666.3 698.8 L667.3 698.9 L668.3 699.0 L669.3 699.1 L670.3 699.1 L671.3 699.2 L672.3 699.2 L673.3 699.3 L674.3 699.4 L675.3 699.4 L676.3 699.5 L677.3 699.5 L678.3 699.6 L679.3 699.7 L680.3 699.7 L681.3 699.8 L682.3 699.8 L683.3 699.9 L684.3 699.9 L685.3 700.0 L686.3 700.0 L687.3 700.1 L688.3 700.1 L689.3 700.2 L690.3 700.2 L691.3 700.3 L692.3 700.3 L693.3 700.4 L694.3 700.4 L695.3 700.5 L696.3 700.5 L697.3 700.6 L698.3 700.6 L699.3 700.7 L700.3 700.7 L701.3 700.8 L702.4 700.8 L703.4 700.9 L704.4 700.9 L705.4 701.0 L706.4 701.0 L707.4 701.0 L708.4 701.1 L709.4 701.1 L710.4 701.2 L711.4 701.2 L712.4 701.3 L713.4 701.3 L714.4 701.4 L715.4 701.4 L716.4 701.5 L717.4 701.5 L718.4 701.6 L719.4 701.6 L720.4 701.7 L721.4 701.7 L722.4 701.7 L723.4 701.8 L724.4 701.8 L725.4 701.9 L726.4 701.9 L727.4 702.0 L728.4 702.0 L729.4 702.1 L730.4 702.1 L731.4 702.2 L732.4 702.2 L733.4 702.3 L734.4 702.3 L735.4 702.4 L736.5 702.4 L737.5 702.5 L738.5 702.5 L739.5 702.6 L740.5 702.6 L741.5 702.7 L742.5 702.7 L743.5 702.8 L744.5 702.8 L745.5 702.9 L746.5 702.9 L747.5 702.9 L748.5 703.0 L749.5 703.0 L750.5 703.1 L751.5 703.1 L752.5 703.2 L753.5 703.2 L754.5 703.3 L755.5 703.3 L756.5 703.4 L757.5 703.4 L758.5 703.4 L759.5 703.5 L760.5 703.5 L761.5 703.6 L762.5 703.6 L763.5 703.7 L764.5 703.7 L765.5 703.7 L766.5 703.8 L767.5 703.8 L768.5 703.9 L769.6 703.9 L770.6 703.9 L771.6 704.0 L772.6 704.0 L773.6 704.1 L774.6 704.1 L775.6 704.1 L776.6 704.2 L777.6 704.2 L778.6 704.2 L779.6 704.3 L780.6 704.3 L781.6 704.3 L782.6 704.4 L783.6 704.4 L784.6 704.5 L785.6 704.5 L786.6 704.5 L787.6 704.6 L788.6 704.6 L789.6 704.6 L790.6 704.7 L791.6 704.7 L792.6 704.7 L793.6 704.8 L794.6 704.8 L795.6 704.8 L796.6 704.9 L797.6 704.9 L798.7 704.9 L799.7 704.9 L800.7 705.0 L801.7 705.0 L802.7 705.0 L803.7 705.1 L804.7 705.1 L805.7 705.1 L806.7 705.2 L807.7 705.2 L808.7 705.2 L809.7 705.2 L810.7 705.3 L811.7 705.3" fill="none" stroke="#6464ff" stroke-width="1" stroke-dasharray="11 9.5"/>
<rect x="454.1" y="312.8" width="5.1" height="5.1" fill="#000"/>
<rect x="454.8" y="333.3" width="5.1" height="5.1" fill="#000"/>
<rect x="457.3" y="318.8" width="5.1" height="5.1" fill="#000"/>
<rect x="460.4" y="280.6" width="5.1" height="5.1" fill="#000"/>
<rect x="464.1" y="263.1" width="5.1" height="5.1" fill="#000"/>
<rect x="468.9" y="268.2" width="5.1" height="5.1" fill="#000"/>
<rect x="474.8" y="256.6" width="5.1" height="5.1" fill="#000"/>
<rect x="482.6" y="241.3" width="5.1" height="5.1" fill="#000"/>
<rect x="492.1" y="233.4" width="5.1" height="5.1" fill="#000"/>
<rect x="503.8" y="229.8" width="5.1" height="5.1" fill="#000"/>
<rect x="519.5" y="220.9" width="5.1" height="5.1" fill="#000"/>
<rect x="538.6" y="212.3" width="5.1" height="5.1" fill="#000"/>
<rect x="562.5" y="223.2" width="5.1" height="5.1" fill="#000"/>
<rect x="592.9" y="222.1" width="5.1" height="5.1" fill="#000"/>
<rect x="631.0" y="228.0" width="5.1" height="5.1" fill="#000"/>
<rect x="678.8" y="231.1" width="5.1" height="5.1" fill="#000"/>
<rect x="739.2" y="246.0" width="5.1" height="5.1" fill="#000"/>
<rect x="815.0" y="252.8" width="5.1" height="5.1" fill="#000"/>
<line x1="84.50" y1="0.00" x2="84.50" y2="736.00" stroke="#363636" stroke-width="1.25"/>
<line x1="819.50" y1="0.00" x2="819.50" y2="736.00" stroke="#606060" stroke-width="1.15"/>
<line x1="452.00" y1="0.00" x2="452.00" y2="736.00" stroke="#7c7c7c" stroke-width="2.00"/>
<line x1="84.60" y1="0.45" x2="819.60" y2="0.45" stroke="#5c5c5c" stroke-width="1.00"/>
<line x1="84.60" y1="368.15" x2="819.60" y2="368.15" stroke="#707070" stroke-width="1.60"/>
<line x1="84.60" y1="735.50" x2="819.60" y2="735.50" stroke="#555" stroke-width="1.05"/>
<line x1="84.60" y1="368.15" x2="96.90" y2="368.15" stroke="#585858" stroke-width="1.00"/>
<line x1="451.90" y1="368.15" x2="439.60" y2="368.15" stroke="#585858" stroke-width="1.00"/>
<line x1="451.90" y1="368.15" x2="464.20" y2="368.15" stroke="#585858" stroke-width="1.00"/>
<line x1="819.60" y1="368.15" x2="807.30" y2="368.15" stroke="#585858" stroke-width="1.00"/>
<line x1="84.60" y1="346.64" x2="90.90" y2="346.64" stroke="#585858" stroke-width="1.00"/>
<line x1="451.90" y1="346.64" x2="445.60" y2="346.64" stroke="#585858" stroke-width="1.00"/>
<line x1="451.90" y1="346.64" x2="458.20" y2="346.64" stroke="#585858" stroke-width="1.00"/>
<line x1="819.60" y1="346.64" x2="813.30" y2="346.64" stroke="#585858" stroke-width="1.00"/>
<line x1="84.60" y1="325.14" x2="90.90" y2="325.14" stroke="#585858" stroke-width="1.00"/>
<line x1="451.90" y1="325.14" x2="445.60" y2="325.14" stroke="#585858" stroke-width="1.00"/>
<line x1="451.90" y1="325.14" x2="458.20" y2="325.14" stroke="#585858" stroke-width="1.00"/>
<line x1="819.60" y1="325.14" x2="813.30" y2="325.14" stroke="#585858" stroke-width="1.00"/>
<line x1="84.60" y1="303.63" x2="96.90" y2="303.63" stroke="#585858" stroke-width="1.00"/>
<line x1="451.90" y1="303.63" x2="439.60" y2="303.63" stroke="#585858" stroke-width="1.00"/>
<line x1="451.90" y1="303.63" x2="464.20" y2="303.63" stroke="#585858" stroke-width="1.00"/>
<line x1="819.60" y1="303.63" x2="807.30" y2="303.63" stroke="#585858" stroke-width="1.00"/>
<line x1="84.60" y1="282.13" x2="90.90" y2="282.13" stroke="#585858" stroke-width="1.00"/>
<line x1="451.90" y1="282.13" x2="445.60" y2="282.13" stroke="#585858" stroke-width="1.00"/>
<line x1="451.90" y1="282.13" x2="458.20" y2="282.13" stroke="#585858" stroke-width="1.00"/>
<line x1="819.60" y1="282.13" x2="813.30" y2="282.13" stroke="#585858" stroke-width="1.00"/>
<line x1="84.60" y1="260.62" x2="90.90" y2="260.62" stroke="#585858" stroke-width="1.00"/>
<line x1="451.90" y1="260.62" x2="445.60" y2="260.62" stroke="#585858" stroke-width="1.00"/>
<line x1="451.90" y1="260.62" x2="458.20" y2="260.62" stroke="#585858" stroke-width="1.00"/>
<line x1="819.60" y1="260.62" x2="813.30" y2="260.62" stroke="#585858" stroke-width="1.00"/>
<line x1="84.60" y1="239.12" x2="96.90" y2="239.12" stroke="#585858" stroke-width="1.00"/>
<line x1="451.90" y1="239.12" x2="439.60" y2="239.12" stroke="#585858" stroke-width="1.00"/>
<line x1="451.90" y1="239.12" x2="464.20" y2="239.12" stroke="#585858" stroke-width="1.00"/>
<line x1="819.60" y1="239.12" x2="807.30" y2="239.12" stroke="#585858" stroke-width="1.00"/>
<line x1="84.60" y1="217.61" x2="90.90" y2="217.61" stroke="#585858" stroke-width="1.00"/>
<line x1="451.90" y1="217.61" x2="445.60" y2="217.61" stroke="#585858" stroke-width="1.00"/>
<line x1="451.90" y1="217.61" x2="458.20" y2="217.61" stroke="#585858" stroke-width="1.00"/>
<line x1="819.60" y1="217.61" x2="813.30" y2="217.61" stroke="#585858" stroke-width="1.00"/>
<line x1="84.60" y1="196.11" x2="90.90" y2="196.11" stroke="#585858" stroke-width="1.00"/>
<line x1="451.90" y1="196.11" x2="445.60" y2="196.11" stroke="#585858" stroke-width="1.00"/>
<line x1="451.90" y1="196.11" x2="458.20" y2="196.11" stroke="#585858" stroke-width="1.00"/>
<line x1="819.60" y1="196.11" x2="813.30" y2="196.11" stroke="#585858" stroke-width="1.00"/>
<line x1="84.60" y1="174.60" x2="96.90" y2="174.60" stroke="#585858" stroke-width="1.00"/>
<line x1="451.90" y1="174.60" x2="439.60" y2="174.60" stroke="#585858" stroke-width="1.00"/>
<line x1="451.90" y1="174.60" x2="464.20" y2="174.60" stroke="#585858" stroke-width="1.00"/>
<line x1="819.60" y1="174.60" x2="807.30" y2="174.60" stroke="#585858" stroke-width="1.00"/>
<line x1="84.60" y1="153.10" x2="90.90" y2="153.10" stroke="#585858" stroke-width="1.00"/>
<line x1="451.90" y1="153.10" x2="445.60" y2="153.10" stroke="#585858" stroke-width="1.00"/>
<line x1="451.90" y1="153.10" x2="458.20" y2="153.10" stroke="#585858" stroke-width="1.00"/>
<line x1="819.60" y1="153.10" x2="813.30" y2="153.10" stroke="#585858" stroke-width="1.00"/>
<line x1="84.60" y1="131.59" x2="90.90" y2="131.59" stroke="#585858" stroke-width="1.00"/>
<line x1="451.90" y1="131.59" x2="445.60" y2="131.59" stroke="#585858" stroke-width="1.00"/>
<line x1="451.90" y1="131.59" x2="458.20" y2="131.59" stroke="#585858" stroke-width="1.00"/>
<line x1="819.60" y1="131.59" x2="813.30" y2="131.59" stroke="#585858" stroke-width="1.00"/>
<line x1="84.60" y1="110.09" x2="96.90" y2="110.09" stroke="#585858" stroke-width="1.00"/>
<line x1="451.90" y1="110.09" x2="439.60" y2="110.09" stroke="#585858" stroke-width="1.00"/>
<line x1="451.90" y1="110.09" x2="464.20" y2="110.09" stroke="#585858" stroke-width="1.00"/>
<line x1="819.60" y1="110.09" x2="807.30" y2="110.09" stroke="#585858" stroke-width="1.00"/>
<line x1="84.60" y1="88.58" x2="90.90" y2="88.58" stroke="#585858" stroke-width="1.00"/>
<line x1="451.90" y1="88.58" x2="445.60" y2="88.58" stroke="#585858" stroke-width="1.00"/>
<line x1="451.90" y1="88.58" x2="458.20" y2="88.58" stroke="#585858" stroke-width="1.00"/>
<line x1="819.60" y1="88.58" x2="813.30" y2="88.58" stroke="#585858" stroke-width="1.00"/>
<line x1="84.60" y1="67.08" x2="90.90" y2="67.08" stroke="#585858" stroke-width="1.00"/>
<line x1="451.90" y1="67.08" x2="445.60" y2="67.08" stroke="#585858" stroke-width="1.00"/>
<line x1="451.90" y1="67.08" x2="458.20" y2="67.08" stroke="#585858" stroke-width="1.00"/>
<line x1="819.60" y1="67.08" x2="813.30" y2="67.08" stroke="#585858" stroke-width="1.00"/>
<line x1="84.60" y1="45.57" x2="96.90" y2="45.57" stroke="#585858" stroke-width="1.00"/>
<line x1="451.90" y1="45.57" x2="439.60" y2="45.57" stroke="#585858" stroke-width="1.00"/>
<line x1="451.90" y1="45.57" x2="464.20" y2="45.57" stroke="#585858" stroke-width="1.00"/>
<line x1="819.60" y1="45.57" x2="807.30" y2="45.57" stroke="#585858" stroke-width="1.00"/>
<line x1="84.60" y1="24.07" x2="90.90" y2="24.07" stroke="#585858" stroke-width="1.00"/>
<line x1="451.90" y1="24.07" x2="445.60" y2="24.07" stroke="#585858" stroke-width="1.00"/>
<line x1="451.90" y1="24.07" x2="458.20" y2="24.07" stroke="#585858" stroke-width="1.00"/>
<line x1="819.60" y1="24.07" x2="813.30" y2="24.07" stroke="#585858" stroke-width="1.00"/>
<line x1="84.60" y1="2.56" x2="90.90" y2="2.56" stroke="#585858" stroke-width="1.00"/>
<line x1="451.90" y1="2.56" x2="445.60" y2="2.56" stroke="#585858" stroke-width="1.00"/>
<line x1="451.90" y1="2.56" x2="458.20" y2="2.56" stroke="#585858" stroke-width="1.00"/>
<line x1="819.60" y1="2.56" x2="813.30" y2="2.56" stroke="#585858" stroke-width="1.00"/>
<line x1="84.60" y1="735.50" x2="96.90" y2="735.50" stroke="#585858" stroke-width="1.00"/>
<line x1="451.90" y1="735.50" x2="439.60" y2="735.50" stroke="#585858" stroke-width="1.00"/>
<line x1="451.90" y1="735.50" x2="464.20" y2="735.50" stroke="#585858" stroke-width="1.00"/>
<line x1="819.60" y1="735.50" x2="807.30" y2="735.50" stroke="#585858" stroke-width="1.00"/>
<line x1="84.60" y1="714.00" x2="90.90" y2="714.00" stroke="#585858" stroke-width="1.00"/>
<line x1="451.90" y1="714.00" x2="445.60" y2="714.00" stroke="#585858" stroke-width="1.00"/>
<line x1="451.90" y1="714.00" x2="458.20" y2="714.00" stroke="#585858" stroke-width="1.00"/>
<line x1="819.60" y1="714.00" x2="813.30" y2="714.00" stroke="#585858" stroke-width="1.00"/>
<line x1="84.60" y1="692.49" x2="90.90" y2="692.49" stroke="#585858" stroke-width="1.00"/>
<line x1="451.90" y1="692.49" x2="445.60" y2="692.49" stroke="#585858" stroke-width="1.00"/>
<line x1="451.90" y1="692.49" x2="458.20" y2="692.49" stroke="#585858" stroke-width="1.00"/>
<line x1="819.60" y1="692.49" x2="813.30" y2="692.49" stroke="#585858" stroke-width="1.00"/>
<line x1="84.60" y1="670.99" x2="96.90" y2="670.99" stroke="#585858" stroke-width="1.00"/>
<line x1="451.90" y1="670.99" x2="439.60" y2="670.99" stroke="#585858" stroke-width="1.00"/>
<line x1="451.90" y1="670.99" x2="464.20" y2="670.99" stroke="#585858" stroke-width="1.00"/>
<line x1="819.60" y1="670.99" x2="807.30" y2="670.99" stroke="#585858" stroke-width="1.00"/>
<line x1="84.60" y1="649.48" x2="90.90" y2="649.48" stroke="#585858" stroke-width="1.00"/>
<line x1="451.90" y1="649.48" x2="445.60" y2="649.48" stroke="#585858" stroke-width="1.00"/>
<line x1="451.90" y1="649.48" x2="458.20" y2="649.48" stroke="#585858" stroke-width="1.00"/>
<line x1="819.60" y1="649.48" x2="813.30" y2="649.48" stroke="#585858" stroke-width="1.00"/>
<line x1="84.60" y1="627.98" x2="90.90" y2="627.98" stroke="#585858" stroke-width="1.00"/>
<line x1="451.90" y1="627.98" x2="445.60" y2="627.98" stroke="#585858" stroke-width="1.00"/>
<line x1="451.90" y1="627.98" x2="458.20" y2="627.98" stroke="#585858" stroke-width="1.00"/>
<line x1="819.60" y1="627.98" x2="813.30" y2="627.98" stroke="#585858" stroke-width="1.00"/>
<line x1="84.60" y1="606.47" x2="96.90" y2="606.47" stroke="#585858" stroke-width="1.00"/>
<line x1="451.90" y1="606.47" x2="439.60" y2="606.47" stroke="#585858" stroke-width="1.00"/>
<line x1="451.90" y1="606.47" x2="464.20" y2="606.47" stroke="#585858" stroke-width="1.00"/>
<line x1="819.60" y1="606.47" x2="807.30" y2="606.47" stroke="#585858" stroke-width="1.00"/>
<line x1="84.60" y1="584.97" x2="90.90" y2="584.97" stroke="#585858" stroke-width="1.00"/>
<line x1="451.90" y1="584.97" x2="445.60" y2="584.97" stroke="#585858" stroke-width="1.00"/>
<line x1="451.90" y1="584.97" x2="458.20" y2="584.97" stroke="#585858" stroke-width="1.00"/>
<line x1="819.60" y1="584.97" x2="813.30" y2="584.97" stroke="#585858" stroke-width="1.00"/>
<line x1="84.60" y1="563.46" x2="90.90" y2="563.46" stroke="#585858" stroke-width="1.00"/>
<line x1="451.90" y1="563.46" x2="445.60" y2="563.46" stroke="#585858" stroke-width="1.00"/>
<line x1="451.90" y1="563.46" x2="458.20" y2="563.46" stroke="#585858" stroke-width="1.00"/>
<line x1="819.60" y1="563.46" x2="813.30" y2="563.46" stroke="#585858" stroke-width="1.00"/>
<line x1="84.60" y1="541.96" x2="96.90" y2="541.96" stroke="#585858" stroke-width="1.00"/>
<line x1="451.90" y1="541.96" x2="439.60" y2="541.96" stroke="#585858" stroke-width="1.00"/>
<line x1="451.90" y1="541.96" x2="464.20" y2="541.96" stroke="#585858" stroke-width="1.00"/>
<line x1="819.60" y1="541.96" x2="807.30" y2="541.96" stroke="#585858" stroke-width="1.00"/>
<line x1="84.60" y1="520.45" x2="90.90" y2="520.45" stroke="#585858" stroke-width="1.00"/>
<line x1="451.90" y1="520.45" x2="445.60" y2="520.45" stroke="#585858" stroke-width="1.00"/>
<line x1="451.90" y1="520.45" x2="458.20" y2="520.45" stroke="#585858" stroke-width="1.00"/>
<line x1="819.60" y1="520.45" x2="813.30" y2="520.45" stroke="#585858" stroke-width="1.00"/>
<line x1="84.60" y1="498.94" x2="90.90" y2="498.94" stroke="#585858" stroke-width="1.00"/>
<line x1="451.90" y1="498.94" x2="445.60" y2="498.94" stroke="#585858" stroke-width="1.00"/>
<line x1="451.90" y1="498.94" x2="458.20" y2="498.94" stroke="#585858" stroke-width="1.00"/>
<line x1="819.60" y1="498.94" x2="813.30" y2="498.94" stroke="#585858" stroke-width="1.00"/>
<line x1="84.60" y1="477.44" x2="96.90" y2="477.44" stroke="#585858" stroke-width="1.00"/>
<line x1="451.90" y1="477.44" x2="439.60" y2="477.44" stroke="#585858" stroke-width="1.00"/>
<line x1="451.90" y1="477.44" x2="464.20" y2="477.44" stroke="#585858" stroke-width="1.00"/>
<line x1="819.60" y1="477.44" x2="807.30" y2="477.44" stroke="#585858" stroke-width="1.00"/>
<line x1="84.60" y1="455.94" x2="90.90" y2="455.94" stroke="#585858" stroke-width="1.00"/>
<line x1="451.90" y1="455.94" x2="445.60" y2="455.94" stroke="#585858" stroke-width="1.00"/>
<line x1="451.90" y1="455.94" x2="458.20" y2="455.94" stroke="#585858" stroke-width="1.00"/>
<line x1="819.60" y1="455.94" x2="813.30" y2="455.94" stroke="#585858" stroke-width="1.00"/>
<line x1="84.60" y1="434.43" x2="90.90" y2="434.43" stroke="#585858" stroke-width="1.00"/>
<line x1="451.90" y1="434.43" x2="445.60" y2="434.43" stroke="#585858" stroke-width="1.00"/>
<line x1="451.90" y1="434.43" x2="458.20" y2="434.43" stroke="#585858" stroke-width="1.00"/>
<line x1="819.60" y1="434.43" x2="813.30" y2="434.43" stroke="#585858" stroke-width="1.00"/>
<line x1="84.60" y1="412.93" x2="96.90" y2="412.93" stroke="#585858" stroke-width="1.00"/>
<line x1="451.90" y1="412.93" x2="439.60" y2="412.93" stroke="#585858" stroke-width="1.00"/>
<line x1="451.90" y1="412.93" x2="464.20" y2="412.93" stroke="#585858" stroke-width="1.00"/>
<line x1="819.60" y1="412.93" x2="807.30" y2="412.93" stroke="#585858" stroke-width="1.00"/>
<line x1="84.60" y1="391.42" x2="90.90" y2="391.42" stroke="#585858" stroke-width="1.00"/>
<line x1="451.90" y1="391.42" x2="445.60" y2="391.42" stroke="#585858" stroke-width="1.00"/>
<line x1="451.90" y1="391.42" x2="458.20" y2="391.42" stroke="#585858" stroke-width="1.00"/>
<line x1="819.60" y1="391.42" x2="813.30" y2="391.42" stroke="#585858" stroke-width="1.00"/>
<line x1="84.60" y1="369.92" x2="90.90" y2="369.92" stroke="#585858" stroke-width="1.00"/>
<line x1="451.90" y1="369.92" x2="445.60" y2="369.92" stroke="#585858" stroke-width="1.00"/>
<line x1="451.90" y1="369.92" x2="458.20" y2="369.92" stroke="#585858" stroke-width="1.00"/>
<line x1="819.60" y1="369.92" x2="813.30" y2="369.92" stroke="#585858" stroke-width="1.00"/>
<line x1="118.15" y1="0.50" x2="118.15" y2="6.80" stroke="#585858" stroke-width="1.00"/>
<line x1="118.15" y1="368.15" x2="118.15" y2="361.85" stroke="#585858" stroke-width="1.00"/>
<line x1="118.15" y1="368.15" x2="118.15" y2="374.45" stroke="#585858" stroke-width="1.00"/>
<line x1="118.15" y1="735.50" x2="118.15" y2="729.20" stroke="#585858" stroke-width="1.00"/>
<line x1="155.26" y1="0.50" x2="155.26" y2="12.80" stroke="#585858" stroke-width="1.00"/>
<line x1="155.26" y1="368.15" x2="155.26" y2="355.85" stroke="#585858" stroke-width="1.00"/>
<line x1="155.26" y1="368.15" x2="155.26" y2="380.45" stroke="#585858" stroke-width="1.00"/>
<line x1="155.26" y1="735.50" x2="155.26" y2="723.20" stroke="#585858" stroke-width="1.00"/>
<line x1="192.37" y1="0.50" x2="192.37" y2="6.80" stroke="#585858" stroke-width="1.00"/>
<line x1="192.37" y1="368.15" x2="192.37" y2="361.85" stroke="#585858" stroke-width="1.00"/>
<line x1="192.37" y1="368.15" x2="192.37" y2="374.45" stroke="#585858" stroke-width="1.00"/>
<line x1="192.37" y1="735.50" x2="192.37" y2="729.20" stroke="#585858" stroke-width="1.00"/>
<line x1="229.48" y1="0.50" x2="229.48" y2="12.80" stroke="#585858" stroke-width="1.00"/>
<line x1="229.48" y1="368.15" x2="229.48" y2="355.85" stroke="#585858" stroke-width="1.00"/>
<line x1="229.48" y1="368.15" x2="229.48" y2="380.45" stroke="#585858" stroke-width="1.00"/>
<line x1="229.48" y1="735.50" x2="229.48" y2="723.20" stroke="#585858" stroke-width="1.00"/>
<line x1="266.59" y1="0.50" x2="266.59" y2="6.80" stroke="#585858" stroke-width="1.00"/>
<line x1="266.59" y1="368.15" x2="266.59" y2="361.85" stroke="#585858" stroke-width="1.00"/>
<line x1="266.59" y1="368.15" x2="266.59" y2="374.45" stroke="#585858" stroke-width="1.00"/>
<line x1="266.59" y1="735.50" x2="266.59" y2="729.20" stroke="#585858" stroke-width="1.00"/>
<line x1="303.70" y1="0.50" x2="303.70" y2="12.80" stroke="#585858" stroke-width="1.00"/>
<line x1="303.70" y1="368.15" x2="303.70" y2="355.85" stroke="#585858" stroke-width="1.00"/>
<line x1="303.70" y1="368.15" x2="303.70" y2="380.45" stroke="#585858" stroke-width="1.00"/>
<line x1="303.70" y1="735.50" x2="303.70" y2="723.20" stroke="#585858" stroke-width="1.00"/>
<line x1="340.81" y1="0.50" x2="340.81" y2="6.80" stroke="#585858" stroke-width="1.00"/>
<line x1="340.81" y1="368.15" x2="340.81" y2="361.85" stroke="#585858" stroke-width="1.00"/>
<line x1="340.81" y1="368.15" x2="340.81" y2="374.45" stroke="#585858" stroke-width="1.00"/>
<line x1="340.81" y1="735.50" x2="340.81" y2="729.20" stroke="#585858" stroke-width="1.00"/>
<line x1="377.92" y1="0.50" x2="377.92" y2="12.80" stroke="#585858" stroke-width="1.00"/>
<line x1="377.92" y1="368.15" x2="377.92" y2="355.85" stroke="#585858" stroke-width="1.00"/>
<line x1="377.92" y1="368.15" x2="377.92" y2="380.45" stroke="#585858" stroke-width="1.00"/>
<line x1="377.92" y1="735.50" x2="377.92" y2="723.20" stroke="#585858" stroke-width="1.00"/>
<line x1="415.03" y1="0.50" x2="415.03" y2="6.80" stroke="#585858" stroke-width="1.00"/>
<line x1="415.03" y1="368.15" x2="415.03" y2="361.85" stroke="#585858" stroke-width="1.00"/>
<line x1="415.03" y1="368.15" x2="415.03" y2="374.45" stroke="#585858" stroke-width="1.00"/>
<line x1="415.03" y1="735.50" x2="415.03" y2="729.20" stroke="#585858" stroke-width="1.00"/>
<line x1="452.14" y1="0.50" x2="452.14" y2="12.80" stroke="#585858" stroke-width="1.00"/>
<line x1="452.14" y1="368.15" x2="452.14" y2="355.85" stroke="#585858" stroke-width="1.00"/>
<line x1="452.14" y1="368.15" x2="452.14" y2="380.45" stroke="#585858" stroke-width="1.00"/>
<line x1="452.14" y1="735.50" x2="452.14" y2="723.20" stroke="#585858" stroke-width="1.00"/>
<line x1="485.45" y1="0.50" x2="485.45" y2="6.80" stroke="#585858" stroke-width="1.00"/>
<line x1="485.45" y1="368.15" x2="485.45" y2="361.85" stroke="#585858" stroke-width="1.00"/>
<line x1="485.45" y1="368.15" x2="485.45" y2="374.45" stroke="#585858" stroke-width="1.00"/>
<line x1="485.45" y1="735.50" x2="485.45" y2="729.20" stroke="#585858" stroke-width="1.00"/>
<line x1="522.56" y1="0.50" x2="522.56" y2="12.80" stroke="#585858" stroke-width="1.00"/>
<line x1="522.56" y1="368.15" x2="522.56" y2="355.85" stroke="#585858" stroke-width="1.00"/>
<line x1="522.56" y1="368.15" x2="522.56" y2="380.45" stroke="#585858" stroke-width="1.00"/>
<line x1="522.56" y1="735.50" x2="522.56" y2="723.20" stroke="#585858" stroke-width="1.00"/>
<line x1="559.67" y1="0.50" x2="559.67" y2="6.80" stroke="#585858" stroke-width="1.00"/>
<line x1="559.67" y1="368.15" x2="559.67" y2="361.85" stroke="#585858" stroke-width="1.00"/>
<line x1="559.67" y1="368.15" x2="559.67" y2="374.45" stroke="#585858" stroke-width="1.00"/>
<line x1="559.67" y1="735.50" x2="559.67" y2="729.20" stroke="#585858" stroke-width="1.00"/>
<line x1="596.78" y1="0.50" x2="596.78" y2="12.80" stroke="#585858" stroke-width="1.00"/>
<line x1="596.78" y1="368.15" x2="596.78" y2="355.85" stroke="#585858" stroke-width="1.00"/>
<line x1="596.78" y1="368.15" x2="596.78" y2="380.45" stroke="#585858" stroke-width="1.00"/>
<line x1="596.78" y1="735.50" x2="596.78" y2="723.20" stroke="#585858" stroke-width="1.00"/>
<line x1="633.89" y1="0.50" x2="633.89" y2="6.80" stroke="#585858" stroke-width="1.00"/>
<line x1="633.89" y1="368.15" x2="633.89" y2="361.85" stroke="#585858" stroke-width="1.00"/>
<line x1="633.89" y1="368.15" x2="633.89" y2="374.45" stroke="#585858" stroke-width="1.00"/>
<line x1="633.89" y1="735.50" x2="633.89" y2="729.20" stroke="#585858" stroke-width="1.00"/>
<line x1="671.00" y1="0.50" x2="671.00" y2="12.80" stroke="#585858" stroke-width="1.00"/>
<line x1="671.00" y1="368.15" x2="671.00" y2="355.85" stroke="#585858" stroke-width="1.00"/>
<line x1="671.00" y1="368.15" x2="671.00" y2="380.45" stroke="#585858" stroke-width="1.00"/>
<line x1="671.00" y1="735.50" x2="671.00" y2="723.20" stroke="#585858" stroke-width="1.00"/>
<line x1="708.11" y1="0.50" x2="708.11" y2="6.80" stroke="#585858" stroke-width="1.00"/>
<line x1="708.11" y1="368.15" x2="708.11" y2="361.85" stroke="#585858" stroke-width="1.00"/>
<line x1="708.11" y1="368.15" x2="708.11" y2="374.45" stroke="#585858" stroke-width="1.00"/>
<line x1="708.11" y1="735.50" x2="708.11" y2="729.20" stroke="#585858" stroke-width="1.00"/>
<line x1="745.22" y1="0.50" x2="745.22" y2="12.80" stroke="#585858" stroke-width="1.00"/>
<line x1="745.22" y1="368.15" x2="745.22" y2="355.85" stroke="#585858" stroke-width="1.00"/>
<line x1="745.22" y1="368.15" x2="745.22" y2="380.45" stroke="#585858" stroke-width="1.00"/>
<line x1="745.22" y1="735.50" x2="745.22" y2="723.20" stroke="#585858" stroke-width="1.00"/>
<line x1="782.33" y1="0.50" x2="782.33" y2="6.80" stroke="#585858" stroke-width="1.00"/>
<line x1="782.33" y1="368.15" x2="782.33" y2="361.85" stroke="#585858" stroke-width="1.00"/>
<line x1="782.33" y1="368.15" x2="782.33" y2="374.45" stroke="#585858" stroke-width="1.00"/>
<line x1="782.33" y1="735.50" x2="782.33" y2="729.20" stroke="#585858" stroke-width="1.00"/>
<line x1="819.44" y1="0.50" x2="819.44" y2="12.80" stroke="#585858" stroke-width="1.00"/>
<line x1="819.44" y1="368.15" x2="819.44" y2="355.85" stroke="#585858" stroke-width="1.00"/>
<line x1="819.44" y1="368.15" x2="819.44" y2="380.45" stroke="#585858" stroke-width="1.00"/>
<line x1="819.44" y1="735.50" x2="819.44" y2="723.20" stroke="#585858" stroke-width="1.00"/>
<g font-family="'Liberation Serif', serif">
<g fill="none" stroke-linecap="round" stroke-linejoin="round">
<ellipse cx="68.10" cy="368.05" rx="3.90" ry="6.00" stroke="#333" stroke-width="1.20"/>
<path d="M53.00 297.74 L59.30 297.74" stroke="#333" stroke-width="1.05"/><path d="M53.20 298.24 L56.70 298.29" stroke="#333" stroke-width="1.05"/><path d="M53.00 297.74 L52.30 302.88" stroke="#333" stroke-width="1.05"/><path d="M52.30 302.88 C52.53 302.74 53.10 302.22 53.70 301.99 C54.30 301.75 55.17 301.52 55.90 301.49 C56.63 301.45 57.43 301.50 58.10 301.79 C58.77 302.07 59.47 302.59 59.90 303.19 C60.33 303.78 60.62 304.65 60.70 305.38 C60.78 306.12 60.68 306.95 60.40 307.59 C60.12 308.22 59.60 308.79 59.00 309.19 C58.40 309.58 57.53 309.88 56.80 309.99 C56.07 310.09 55.25 309.95 54.60 309.79 C53.95 309.62 53.32 309.35 52.90 308.99 C52.48 308.62 52.20 307.95 52.10 307.59 C52.00 307.22 52.27 306.92 52.30 306.79" stroke="#333" stroke-width="1.05"/><circle cx="52.75" cy="306.59" r="0.60" fill="#333" stroke="none"/><ellipse cx="68.10" cy="303.54" rx="3.90" ry="6.00" stroke="#333" stroke-width="1.20"/>
<path d="M42.10 234.87 L44.80 232.87" stroke="#333" stroke-width="1.05"/><path d="M42.10 245.47 L47.70 245.47" stroke="#333" stroke-width="1.05"/><path d="M44.85 232.87 L44.85 245.47" stroke="#555" stroke-width="1.70"/><ellipse cx="56.50" cy="239.02" rx="3.90" ry="6.00" stroke="#333" stroke-width="1.20"/><ellipse cx="68.10" cy="239.02" rx="3.90" ry="6.00" stroke="#333" stroke-width="1.20"/>
<path d="M42.10 170.35 L44.80 168.35" stroke="#333" stroke-width="1.05"/><path d="M42.10 180.95 L47.70 180.95" stroke="#333" stroke-width="1.05"/><path d="M44.85 168.35 L44.85 180.95" stroke="#555" stroke-width="1.70"/><path d="M53.00 168.70 L59.30 168.70" stroke="#333" stroke-width="1.05"/><path d="M53.20 169.20 L56.70 169.25" stroke="#333" stroke-width="1.05"/><path d="M53.00 168.70 L52.30 173.85" stroke="#333" stroke-width="1.05"/><path d="M52.30 173.85 C52.53 173.70 53.10 173.19 53.70 172.95 C54.30 172.72 55.17 172.49 55.90 172.45 C56.63 172.42 57.43 172.47 58.10 172.75 C58.77 173.04 59.47 173.55 59.90 174.15 C60.33 174.75 60.62 175.62 60.70 176.35 C60.78 177.09 60.68 177.92 60.40 178.55 C60.12 179.19 59.60 179.75 59.00 180.15 C58.40 180.55 57.53 180.85 56.80 180.95 C56.07 181.05 55.25 180.92 54.60 180.75 C53.95 180.59 53.32 180.32 52.90 179.95 C52.48 179.59 52.20 178.92 52.10 178.55 C52.00 178.19 52.27 177.89 52.30 177.75" stroke="#333" stroke-width="1.05"/><circle cx="52.75" cy="177.55" r="0.60" fill="#333" stroke="none"/><ellipse cx="68.10" cy="174.50" rx="3.90" ry="6.00" stroke="#333" stroke-width="1.20"/>
<path d="M40.30 106.54 C40.43 106.32 40.70 105.61 41.10 105.24 C41.50 104.87 42.07 104.52 42.70 104.34 C43.33 104.16 44.17 104.07 44.90 104.14 C45.63 104.21 46.53 104.41 47.10 104.74 C47.67 105.07 48.07 105.71 48.30 106.14 C48.53 106.57 48.60 106.91 48.50 107.34 C48.40 107.77 48.15 108.29 47.70 108.74 C47.25 109.19 46.58 109.59 45.80 110.04 C45.02 110.49 43.78 110.99 43.00 111.44 C42.22 111.89 41.55 112.37 41.10 112.74 C40.65 113.11 40.45 113.06 40.30 113.64 C40.15 114.22 40.22 115.81 40.20 116.24" stroke="#333" stroke-width="1.05"/><path d="M40.30 113.64 C40.48 113.72 40.95 113.87 41.40 114.14 C41.85 114.41 42.42 114.87 43.00 115.24 C43.58 115.61 44.27 116.14 44.90 116.34 C45.53 116.54 46.28 116.52 46.80 116.44 C47.32 116.36 47.68 116.16 48.00 115.84 C48.32 115.52 48.57 114.87 48.70 114.54 C48.83 114.21 48.78 113.96 48.80 113.84" stroke="#333" stroke-width="1.05"/><circle cx="40.70" cy="107.14" r="0.60" fill="#333" stroke="none"/><ellipse cx="56.50" cy="109.99" rx="3.90" ry="6.00" stroke="#333" stroke-width="1.20"/><ellipse cx="68.10" cy="109.99" rx="3.90" ry="6.00" stroke="#333" stroke-width="1.20"/>
<path d="M40.30 42.02 C40.43 41.81 40.70 41.09 41.10 40.72 C41.50 40.36 42.07 40.01 42.70 39.82 C43.33 39.64 44.17 39.56 44.90 39.62 C45.63 39.69 46.53 39.89 47.10 40.22 C47.67 40.56 48.07 41.19 48.30 41.62 C48.53 42.06 48.60 42.39 48.50 42.82 C48.40 43.26 48.15 43.77 47.70 44.22 C47.25 44.67 46.58 45.07 45.80 45.52 C45.02 45.97 43.78 46.47 43.00 46.92 C42.22 47.37 41.55 47.86 41.10 48.22 C40.65 48.59 40.45 48.54 40.30 49.12 C40.15 49.71 40.22 51.29 40.20 51.72" stroke="#333" stroke-width="1.05"/><path d="M40.30 49.12 C40.48 49.21 40.95 49.36 41.40 49.62 C41.85 49.89 42.42 50.36 43.00 50.72 C43.58 51.09 44.27 51.62 44.90 51.82 C45.53 52.02 46.28 52.01 46.80 51.92 C47.32 51.84 47.68 51.64 48.00 51.32 C48.32 51.01 48.57 50.36 48.70 50.02 C48.83 49.69 48.78 49.44 48.80 49.32" stroke="#333" stroke-width="1.05"/><circle cx="40.70" cy="42.62" r="0.60" fill="#333" stroke="none"/><path d="M53.00 39.67 L59.30 39.67" stroke="#333" stroke-width="1.05"/><path d="M53.20 40.17 L56.70 40.22" stroke="#333" stroke-width="1.05"/><path d="M53.00 39.67 L52.30 44.82" stroke="#333" stroke-width="1.05"/><path d="M52.30 44.82 C52.53 44.67 53.10 44.16 53.70 43.92 C54.30 43.69 55.17 43.46 55.90 43.42 C56.63 43.39 57.43 43.44 58.10 43.72 C58.77 44.01 59.47 44.52 59.90 45.12 C60.33 45.72 60.62 46.59 60.70 47.32 C60.78 48.06 60.68 48.89 60.40 49.52 C60.12 50.16 59.60 50.72 59.00 51.12 C58.40 51.52 57.53 51.82 56.80 51.92 C56.07 52.02 55.25 51.89 54.60 51.72 C53.95 51.56 53.32 51.29 52.90 50.92 C52.48 50.56 52.20 49.89 52.10 49.52 C52.00 49.16 52.27 48.86 52.30 48.72" stroke="#333" stroke-width="1.05"/><circle cx="52.75" cy="48.52" r="0.60" fill="#333" stroke="none"/><ellipse cx="68.10" cy="45.47" rx="3.90" ry="6.00" stroke="#333" stroke-width="1.20"/>
<ellipse cx="68.10" cy="735.40" rx="3.90" ry="6.00" stroke="#333" stroke-width="1.20"/>
<path d="M53.00 665.09 L59.30 665.09" stroke="#333" stroke-width="1.05"/><path d="M53.20 665.59 L56.70 665.63" stroke="#333" stroke-width="1.05"/><path d="M53.00 665.09 L52.30 670.24" stroke="#333" stroke-width="1.05"/><path d="M52.30 670.24 C52.53 670.09 53.10 669.57 53.70 669.34 C54.30 669.10 55.17 668.87 55.90 668.84 C56.63 668.80 57.43 668.85 58.10 669.13 C58.77 669.42 59.47 669.94 59.90 670.54 C60.33 671.14 60.62 672.00 60.70 672.74 C60.78 673.47 60.68 674.30 60.40 674.94 C60.12 675.57 59.60 676.14 59.00 676.54 C58.40 676.94 57.53 677.24 56.80 677.34 C56.07 677.44 55.25 677.30 54.60 677.13 C53.95 676.97 53.32 676.70 52.90 676.34 C52.48 675.97 52.20 675.30 52.10 674.94 C52.00 674.57 52.27 674.27 52.30 674.13" stroke="#333" stroke-width="1.05"/><circle cx="52.75" cy="673.94" r="0.60" fill="#333" stroke="none"/><ellipse cx="68.10" cy="670.88" rx="3.90" ry="6.00" stroke="#333" stroke-width="1.20"/>
<path d="M42.10 602.22 L44.80 600.22" stroke="#333" stroke-width="1.05"/><path d="M42.10 612.82 L47.70 612.82" stroke="#333" stroke-width="1.05"/><path d="M44.85 600.22 L44.85 612.82" stroke="#555" stroke-width="1.70"/><ellipse cx="56.50" cy="606.37" rx="3.90" ry="6.00" stroke="#333" stroke-width="1.20"/><ellipse cx="68.10" cy="606.37" rx="3.90" ry="6.00" stroke="#333" stroke-width="1.20"/>
<path d="M42.10 537.71 L44.80 535.71" stroke="#333" stroke-width="1.05"/><path d="M42.10 548.31 L47.70 548.31" stroke="#333" stroke-width="1.05"/><path d="M44.85 535.71 L44.85 548.31" stroke="#555" stroke-width="1.70"/><path d="M53.00 536.06 L59.30 536.06" stroke="#333" stroke-width="1.05"/><path d="M53.20 536.56 L56.70 536.61" stroke="#333" stroke-width="1.05"/><path d="M53.00 536.06 L52.30 541.21" stroke="#333" stroke-width="1.05"/><path d="M52.30 541.21 C52.53 541.06 53.10 540.54 53.70 540.31 C54.30 540.07 55.17 539.84 55.90 539.81 C56.63 539.77 57.43 539.82 58.10 540.11 C58.77 540.39 59.47 540.91 59.90 541.51 C60.33 542.11 60.62 542.97 60.70 543.71 C60.78 544.44 60.68 545.27 60.40 545.91 C60.12 546.54 59.60 547.11 59.00 547.51 C58.40 547.91 57.53 548.21 56.80 548.31 C56.07 548.41 55.25 548.27 54.60 548.11 C53.95 547.94 53.32 547.67 52.90 547.31 C52.48 546.94 52.20 546.27 52.10 545.91 C52.00 545.54 52.27 545.24 52.30 545.11" stroke="#333" stroke-width="1.05"/><circle cx="52.75" cy="544.91" r="0.60" fill="#333" stroke="none"/><ellipse cx="68.10" cy="541.86" rx="3.90" ry="6.00" stroke="#333" stroke-width="1.20"/>
<path d="M40.30 473.89 C40.43 473.67 40.70 472.96 41.10 472.59 C41.50 472.22 42.07 471.87 42.70 471.69 C43.33 471.51 44.17 471.42 44.90 471.49 C45.63 471.56 46.53 471.76 47.10 472.09 C47.67 472.42 48.07 473.06 48.30 473.49 C48.53 473.92 48.60 474.26 48.50 474.69 C48.40 475.12 48.15 475.64 47.70 476.09 C47.25 476.54 46.58 476.94 45.80 477.39 C45.02 477.84 43.78 478.34 43.00 478.79 C42.22 479.24 41.55 479.72 41.10 480.09 C40.65 480.46 40.45 480.41 40.30 480.99 C40.15 481.57 40.22 483.16 40.20 483.59" stroke="#333" stroke-width="1.05"/><path d="M40.30 480.99 C40.48 481.07 40.95 481.22 41.40 481.49 C41.85 481.76 42.42 482.22 43.00 482.59 C43.58 482.96 44.27 483.49 44.90 483.69 C45.53 483.89 46.28 483.87 46.80 483.79 C47.32 483.71 47.68 483.51 48.00 483.19 C48.32 482.87 48.57 482.22 48.70 481.89 C48.83 481.56 48.78 481.31 48.80 481.19" stroke="#333" stroke-width="1.05"/><circle cx="40.70" cy="474.49" r="0.60" fill="#333" stroke="none"/><ellipse cx="56.50" cy="477.34" rx="3.90" ry="6.00" stroke="#333" stroke-width="1.20"/><ellipse cx="68.10" cy="477.34" rx="3.90" ry="6.00" stroke="#333" stroke-width="1.20"/>
<path d="M40.30 409.38 C40.43 409.16 40.70 408.44 41.10 408.08 C41.50 407.71 42.07 407.36 42.70 407.18 C43.33 406.99 44.17 406.91 44.90 406.98 C45.63 407.04 46.53 407.24 47.10 407.58 C47.67 407.91 48.07 408.54 48.30 408.98 C48.53 409.41 48.60 409.74 48.50 410.18 C48.40 410.61 48.15 411.13 47.70 411.58 C47.25 412.03 46.58 412.43 45.80 412.88 C45.02 413.33 43.78 413.83 43.00 414.28 C42.22 414.73 41.55 415.21 41.10 415.58 C40.65 415.94 40.45 415.89 40.30 416.48 C40.15 417.06 40.22 418.64 40.20 419.08" stroke="#333" stroke-width="1.05"/><path d="M40.30 416.48 C40.48 416.56 40.95 416.71 41.40 416.98 C41.85 417.24 42.42 417.71 43.00 418.08 C43.58 418.44 44.27 418.98 44.90 419.18 C45.53 419.38 46.28 419.36 46.80 419.28 C47.32 419.19 47.68 418.99 48.00 418.68 C48.32 418.36 48.57 417.71 48.70 417.38 C48.83 417.04 48.78 416.79 48.80 416.68" stroke="#333" stroke-width="1.05"/><circle cx="40.70" cy="409.98" r="0.60" fill="#333" stroke="none"/><path d="M53.00 407.03 L59.30 407.03" stroke="#333" stroke-width="1.05"/><path d="M53.20 407.53 L56.70 407.58" stroke="#333" stroke-width="1.05"/><path d="M53.00 407.03 L52.30 412.18" stroke="#333" stroke-width="1.05"/><path d="M52.30 412.18 C52.53 412.03 53.10 411.51 53.70 411.28 C54.30 411.04 55.17 410.81 55.90 410.78 C56.63 410.74 57.43 410.79 58.10 411.08 C58.77 411.36 59.47 411.88 59.90 412.48 C60.33 413.08 60.62 413.94 60.70 414.68 C60.78 415.41 60.68 416.24 60.40 416.88 C60.12 417.51 59.60 418.08 59.00 418.48 C58.40 418.88 57.53 419.18 56.80 419.28 C56.07 419.38 55.25 419.24 54.60 419.08 C53.95 418.91 53.32 418.64 52.90 418.28 C52.48 417.91 52.20 417.24 52.10 416.88 C52.00 416.51 52.27 416.21 52.30 416.08" stroke="#333" stroke-width="1.05"/><circle cx="52.75" cy="415.88" r="0.60" fill="#333" stroke="none"/><ellipse cx="68.10" cy="412.83" rx="3.90" ry="6.00" stroke="#333" stroke-width="1.20"/>
<path d="M150.61 748.80 C150.74 748.58 151.01 747.87 151.41 747.50 C151.81 747.13 152.38 746.78 153.01 746.60 C153.64 746.42 154.48 746.33 155.21 746.40 C155.94 746.47 156.84 746.67 157.41 747.00 C157.98 747.33 158.38 747.97 158.61 748.40 C158.84 748.83 158.91 749.17 158.81 749.60 C158.71 750.03 158.46 750.55 158.01 751.00 C157.56 751.45 156.89 751.85 156.11 752.30 C155.33 752.75 154.09 753.25 153.31 753.70 C152.53 754.15 151.86 754.63 151.41 755.00 C150.96 755.37 150.76 755.32 150.61 755.90 C150.46 756.48 150.53 758.07 150.51 758.50" stroke="#333" stroke-width="1.05"/><path d="M150.61 755.90 C150.79 755.98 151.26 756.13 151.71 756.40 C152.16 756.67 152.73 757.13 153.31 757.50 C153.89 757.87 154.58 758.40 155.21 758.60 C155.84 758.80 156.59 758.78 157.11 758.70 C157.63 758.62 157.99 758.42 158.31 758.10 C158.63 757.78 158.88 757.13 159.01 756.80 C159.14 756.47 159.09 756.22 159.11 756.10" stroke="#333" stroke-width="1.05"/><circle cx="151.01" cy="749.40" r="0.60" fill="#333" stroke="none"/>
<path d="M230.68 746.50 L225.04 754.80 L233.88 755.00" stroke="#333" stroke-width="1.05"/><path d="M228.88 758.70 L232.88 758.70" stroke="#333" stroke-width="1.05"/><path d="M230.83 746.50 L230.83 758.70" stroke="#555" stroke-width="1.70"/>
<path d="M306.95 747.70 C306.80 747.54 306.52 746.95 306.05 746.75 C305.58 746.55 304.78 746.51 304.15 746.50 C303.52 746.49 302.77 746.53 302.25 746.70 C301.73 746.87 301.43 747.07 301.05 747.50 C300.67 747.93 300.23 748.62 299.95 749.30 C299.67 749.98 299.47 750.83 299.35 751.60 C299.23 752.37 299.18 753.12 299.25 753.90 C299.32 754.68 299.45 755.63 299.75 756.30 C300.05 756.97 300.52 757.50 301.05 757.90 C301.58 758.30 302.32 758.60 302.95 758.70 C303.58 758.80 304.20 758.70 304.85 758.50 C305.50 758.30 306.37 757.98 306.85 757.50 C307.33 757.02 307.57 756.23 307.75 755.60 C307.93 754.97 308.07 754.23 307.95 753.70 C307.83 753.17 307.48 752.78 307.05 752.40 C306.62 752.02 305.95 751.61 305.35 751.40 C304.75 751.19 304.08 751.13 303.45 751.15 C302.82 751.17 302.07 751.29 301.55 751.50 C301.03 751.71 300.68 752.02 300.35 752.40 C300.02 752.78 299.68 753.57 299.55 753.80" stroke="#333" stroke-width="1.05"/><circle cx="306.55" cy="748.70" r="0.60" fill="#333" stroke="none"/>
<ellipse cx="377.87" cy="749.05" rx="3.10" ry="2.20" stroke="#333" stroke-width="1.20"/><ellipse cx="377.87" cy="755.20" rx="4.15" ry="3.20" stroke="#333" stroke-width="1.20"/>
<path d="M443.49 748.10 L446.19 746.10" stroke="#333" stroke-width="1.05"/><path d="M443.49 758.70 L449.09 758.70" stroke="#333" stroke-width="1.05"/><path d="M446.24 746.10 L446.24 758.70" stroke="#555" stroke-width="1.70"/><ellipse cx="457.89" cy="752.25" rx="3.90" ry="6.00" stroke="#333" stroke-width="1.20"/>
<path d="M517.91 748.80 C518.04 748.58 518.31 747.87 518.71 747.50 C519.11 747.13 519.68 746.78 520.31 746.60 C520.94 746.42 521.78 746.33 522.51 746.40 C523.24 746.47 524.14 746.67 524.71 747.00 C525.28 747.33 525.68 747.97 525.91 748.40 C526.14 748.83 526.21 749.17 526.11 749.60 C526.01 750.03 525.76 750.55 525.31 751.00 C524.86 751.45 524.19 751.85 523.41 752.30 C522.63 752.75 521.39 753.25 520.61 753.70 C519.83 754.15 519.16 754.63 518.71 755.00 C518.26 755.37 518.06 755.32 517.91 755.90 C517.76 756.48 517.83 758.07 517.81 758.50" stroke="#333" stroke-width="1.05"/><path d="M517.91 755.90 C518.09 755.98 518.56 756.13 519.01 756.40 C519.46 756.67 520.03 757.13 520.61 757.50 C521.19 757.87 521.88 758.40 522.51 758.60 C523.14 758.80 523.89 758.78 524.41 758.70 C524.93 758.62 525.29 758.42 525.61 758.10 C525.93 757.78 526.18 757.13 526.31 756.80 C526.44 756.47 526.39 756.22 526.41 756.10" stroke="#333" stroke-width="1.05"/><circle cx="518.31" cy="749.40" r="0.60" fill="#333" stroke="none"/>
<path d="M597.98 746.50 L592.34 754.80 L601.18 755.00" stroke="#333" stroke-width="1.05"/><path d="M596.18 758.70 L600.18 758.70" stroke="#333" stroke-width="1.05"/><path d="M598.13 746.50 L598.13 758.70" stroke="#555" stroke-width="1.70"/>
<path d="M674.25 747.70 C674.10 747.54 673.82 746.95 673.35 746.75 C672.88 746.55 672.08 746.51 671.45 746.50 C670.82 746.49 670.07 746.53 669.55 746.70 C669.03 746.87 668.73 747.07 668.35 747.50 C667.97 747.93 667.53 748.62 667.25 749.30 C666.97 749.98 666.77 750.83 666.65 751.60 C666.53 752.37 666.48 753.12 666.55 753.90 C666.62 754.68 666.75 755.63 667.05 756.30 C667.35 756.97 667.82 757.50 668.35 757.90 C668.88 758.30 669.62 758.60 670.25 758.70 C670.88 758.80 671.50 758.70 672.15 758.50 C672.80 758.30 673.67 757.98 674.15 757.50 C674.63 757.02 674.87 756.23 675.05 755.60 C675.23 754.97 675.37 754.23 675.25 753.70 C675.13 753.17 674.78 752.78 674.35 752.40 C673.92 752.02 673.25 751.61 672.65 751.40 C672.05 751.19 671.38 751.13 670.75 751.15 C670.12 751.17 669.37 751.29 668.85 751.50 C668.33 751.71 667.98 752.02 667.65 752.40 C667.32 752.78 666.98 753.57 666.85 753.80" stroke="#333" stroke-width="1.05"/><circle cx="673.85" cy="748.70" r="0.60" fill="#333" stroke="none"/>
<ellipse cx="745.17" cy="749.05" rx="3.10" ry="2.20" stroke="#333" stroke-width="1.20"/><ellipse cx="745.17" cy="755.20" rx="4.15" ry="3.20" stroke="#333" stroke-width="1.20"/>
<path d="M810.79 748.10 L813.49 746.10" stroke="#333" stroke-width="1.05"/><path d="M810.79 758.70 L816.39 758.70" stroke="#333" stroke-width="1.05"/><path d="M813.54 746.10 L813.54 758.70" stroke="#555" stroke-width="1.70"/><ellipse cx="825.19" cy="752.25" rx="3.90" ry="6.00" stroke="#333" stroke-width="1.20"/>
</g>
<g fill="none" stroke-linecap="round" stroke-linejoin="round">
<path d="M223.70 776.40 L227.70 776.40" stroke="#333" stroke-width="1.05"/><path d="M223.70 789.10 L227.70 789.10" stroke="#333" stroke-width="1.05"/><path d="M225.70 776.40 C226.50 776.40 229.35 776.26 230.50 776.40 C231.65 776.54 232.07 776.82 232.60 777.25 C233.12 777.68 233.51 778.41 233.65 779.00 C233.79 779.59 233.69 780.28 233.45 780.80 C233.21 781.33 232.74 781.84 232.20 782.15 C231.66 782.46 231.28 782.57 230.20 782.65 C229.12 782.73 226.45 782.65 225.70 782.65" stroke="#333" stroke-width="1.05"/><path d="M229.40 782.65 C229.64 782.98 230.50 783.92 230.85 784.60 C231.20 785.28 231.24 786.12 231.50 786.70 C231.76 787.28 232.04 787.77 232.40 788.05 C232.76 788.33 233.30 788.48 233.65 788.40 C234.00 788.32 234.32 787.80 234.50 787.55 C234.68 787.30 234.67 787.01 234.70 786.90" stroke="#333" stroke-width="1.05"/><path d="M225.70 776.40 L225.70 789.10" stroke="#555" stroke-width="1.70"/>
<path d="M241.80 774.30 Q233.40 783.50 241.80 792.70" stroke="#333" stroke-width="1.05"/>
<path d="M245.10 776.10 L246.90 776.10" stroke="#333" stroke-width="1.05"/><path d="M245.10 789.10 L249.30 789.10" stroke="#333" stroke-width="1.05"/><path d="M253.80 781.50 L247.30 786.50" stroke="#333" stroke-width="1.05"/><path d="M251.70 781.50 L254.70 781.50" stroke="#333" stroke-width="1.05"/><path d="M249.60 784.60 L252.90 789.10" stroke="#333" stroke-width="1.05"/><path d="M251.10 789.10 L254.40 789.10" stroke="#333" stroke-width="1.05"/><path d="M246.95 776.10 L246.95 789.10" stroke="#555" stroke-width="1.70"/>
<path d="M257.10 781.50 L259.55 781.50" stroke="#333" stroke-width="1.05"/><path d="M257.40 793.70 L262.00 793.70" stroke="#333" stroke-width="1.05"/><path d="M259.55 783.05 C259.81 782.88 260.59 782.26 261.10 782.00 C261.61 781.74 261.95 781.58 262.60 781.50 C263.25 781.42 264.25 781.20 265.00 781.50 C265.75 781.80 266.65 782.63 267.10 783.30 C267.55 783.97 267.70 784.78 267.70 785.50 C267.70 786.22 267.55 787.00 267.10 787.60 C266.65 788.20 265.75 788.85 265.00 789.10 C264.25 789.35 263.25 789.18 262.60 789.10 C261.95 789.02 261.61 788.85 261.10 788.60 C260.59 788.35 259.81 787.77 259.55 787.60" stroke="#333" stroke-width="1.05"/><path d="M259.60 781.50 L259.60 793.70" stroke="#555" stroke-width="1.70"/>
<path d="M277.65 782.80 C277.39 782.58 276.71 781.82 276.10 781.50 C275.49 781.18 274.70 780.85 274.00 780.90 C273.30 780.95 272.48 781.29 271.90 781.80 C271.32 782.31 270.73 783.18 270.50 783.95 C270.27 784.72 270.27 785.69 270.50 786.40 C270.73 787.11 271.32 787.75 271.90 788.20 C272.48 788.65 273.30 789.03 274.00 789.10 C274.70 789.17 275.44 788.95 276.10 788.60 C276.76 788.25 277.64 787.27 277.95 787.00" stroke="#333" stroke-width="1.05"/><circle cx="277.35" cy="783.20" r="0.60" fill="#333" stroke="none"/>
<path d="M280.96 793.00 L291.46 774.00" stroke="#333" stroke-width="1.05"/>
<path d="M293.30 776.10 L295.10 776.10" stroke="#333" stroke-width="1.05"/><path d="M293.30 789.10 L297.50 789.10" stroke="#333" stroke-width="1.05"/><path d="M295.10 783.95 C295.50 783.60 296.70 782.26 297.50 781.85 C298.30 781.44 299.17 781.35 299.90 781.50 C300.63 781.65 301.49 782.19 301.90 782.75 C302.31 783.31 302.28 783.79 302.35 784.85 C302.43 785.91 302.35 788.39 302.35 789.10" stroke="#333" stroke-width="1.05"/><path d="M300.50 789.10 L304.50 789.10" stroke="#333" stroke-width="1.05"/><path d="M295.15 776.10 L295.15 789.10" stroke="#555" stroke-width="1.70"/>
<path d="M307.20 774.30 Q316.20 783.50 307.20 792.70" stroke="#333" stroke-width="1.05"/>
<path d="M590.80 776.40 L594.80 776.40" stroke="#333" stroke-width="1.05"/><path d="M590.80 789.10 L594.80 789.10" stroke="#333" stroke-width="1.05"/><path d="M592.80 776.40 C593.60 776.40 596.45 776.26 597.60 776.40 C598.75 776.54 599.17 776.82 599.70 777.25 C600.22 777.68 600.61 778.41 600.75 779.00 C600.89 779.59 600.79 780.28 600.55 780.80 C600.31 781.33 599.84 781.84 599.30 782.15 C598.76 782.46 598.38 782.57 597.30 782.65 C596.22 782.73 593.55 782.65 592.80 782.65" stroke="#333" stroke-width="1.05"/><path d="M596.50 782.65 C596.74 782.98 597.60 783.92 597.95 784.60 C598.30 785.28 598.34 786.12 598.60 786.70 C598.86 787.28 599.14 787.77 599.50 788.05 C599.86 788.33 600.40 788.48 600.75 788.40 C601.10 788.32 601.42 787.80 601.60 787.55 C601.77 787.30 601.77 787.01 601.80 786.90" stroke="#333" stroke-width="1.05"/><path d="M592.80 776.40 L592.80 789.10" stroke="#555" stroke-width="1.70"/>
<path d="M608.90 774.30 Q600.50 783.50 608.90 792.70" stroke="#333" stroke-width="1.05"/>
<path d="M612.20 776.10 L614.00 776.10" stroke="#333" stroke-width="1.05"/><path d="M612.20 789.10 L616.40 789.10" stroke="#333" stroke-width="1.05"/><path d="M620.90 781.50 L614.40 786.50" stroke="#333" stroke-width="1.05"/><path d="M618.80 781.50 L621.80 781.50" stroke="#333" stroke-width="1.05"/><path d="M616.70 784.60 L620.00 789.10" stroke="#333" stroke-width="1.05"/><path d="M618.20 789.10 L621.50 789.10" stroke="#333" stroke-width="1.05"/><path d="M614.05 776.10 L614.05 789.10" stroke="#555" stroke-width="1.70"/>
<path d="M624.20 781.50 L626.65 781.50" stroke="#333" stroke-width="1.05"/><path d="M624.50 793.70 L629.10 793.70" stroke="#333" stroke-width="1.05"/><path d="M626.65 783.05 C626.91 782.88 627.69 782.26 628.20 782.00 C628.71 781.74 629.05 781.58 629.70 781.50 C630.35 781.42 631.35 781.20 632.10 781.50 C632.85 781.80 633.75 782.63 634.20 783.30 C634.65 783.97 634.80 784.78 634.80 785.50 C634.80 786.22 634.65 787.00 634.20 787.60 C633.75 788.20 632.85 788.85 632.10 789.10 C631.35 789.35 630.35 789.18 629.70 789.10 C629.05 789.02 628.71 788.85 628.20 788.60 C627.69 788.35 626.91 787.77 626.65 787.60" stroke="#333" stroke-width="1.05"/><path d="M626.70 781.50 L626.70 793.70" stroke="#555" stroke-width="1.70"/>
<path d="M644.75 782.80 C644.49 782.58 643.81 781.82 643.20 781.50 C642.59 781.18 641.80 780.85 641.10 780.90 C640.40 780.95 639.58 781.29 639.00 781.80 C638.42 782.31 637.83 783.18 637.60 783.95 C637.37 784.72 637.37 785.69 637.60 786.40 C637.83 787.11 638.42 787.75 639.00 788.20 C639.58 788.65 640.40 789.03 641.10 789.10 C641.80 789.17 642.54 788.95 643.20 788.60 C643.86 788.25 644.74 787.27 645.05 787.00" stroke="#333" stroke-width="1.05"/><circle cx="644.45" cy="783.20" r="0.60" fill="#333" stroke="none"/>
<path d="M648.06 793.00 L658.56 774.00" stroke="#333" stroke-width="1.05"/>
<path d="M660.40 776.10 L662.20 776.10" stroke="#333" stroke-width="1.05"/><path d="M660.40 789.10 L664.60 789.10" stroke="#333" stroke-width="1.05"/><path d="M662.20 783.95 C662.60 783.60 663.80 782.26 664.60 781.85 C665.40 781.44 666.27 781.35 667.00 781.50 C667.73 781.65 668.59 782.19 669.00 782.75 C669.41 783.31 669.38 783.79 669.45 784.85 C669.53 785.91 669.45 788.39 669.45 789.10" stroke="#333" stroke-width="1.05"/><path d="M667.60 789.10 L671.60 789.10" stroke="#333" stroke-width="1.05"/><path d="M662.25 776.10 L662.25 789.10" stroke="#555" stroke-width="1.70"/>
<path d="M674.30 774.30 Q683.30 783.50 674.30 792.70" stroke="#333" stroke-width="1.05"/>
</g>
<g fill="none" stroke-linecap="round" stroke-linejoin="round">
<path d="M119.30 37.79 L123.38 37.79" stroke="#333" stroke-width="1.05"/><path d="M119.30 51.00 L123.38 51.00" stroke="#333" stroke-width="1.05"/><path d="M121.34 37.79 C122.16 37.79 125.06 37.64 126.24 37.79 C127.41 37.94 127.84 38.23 128.38 38.68 C128.91 39.13 129.30 39.88 129.45 40.50 C129.59 41.11 129.49 41.82 129.25 42.37 C129.00 42.91 128.52 43.45 127.97 43.77 C127.42 44.09 127.03 44.21 125.93 44.29 C124.82 44.38 122.11 44.29 121.34 44.29" stroke="#333" stroke-width="1.05"/><path d="M125.11 44.29 C125.36 44.63 126.24 45.62 126.59 46.32 C126.95 47.02 126.99 47.91 127.26 48.50 C127.52 49.10 127.81 49.61 128.17 49.91 C128.54 50.20 129.09 50.36 129.45 50.27 C129.81 50.19 130.14 49.65 130.32 49.39 C130.49 49.13 130.49 48.82 130.52 48.71" stroke="#333" stroke-width="1.05"/><path d="M121.34 37.79 L121.34 51.00" stroke="#555" stroke-width="1.70"/>
<path d="M134.90 39.87 L137.60 37.77" stroke="#333" stroke-width="1.05"/><path d="M134.90 51.00 L140.50 51.00" stroke="#333" stroke-width="1.05"/><path d="M137.65 37.77 L137.65 51.00" stroke="#555" stroke-width="1.70"/>
<path d="M486.70 37.79 L490.78 37.79" stroke="#333" stroke-width="1.05"/><path d="M486.70 51.00 L490.78 51.00" stroke="#333" stroke-width="1.05"/><path d="M488.74 37.79 C489.56 37.79 492.46 37.64 493.64 37.79 C494.81 37.94 495.24 38.23 495.78 38.68 C496.31 39.13 496.70 39.88 496.85 40.50 C496.99 41.11 496.89 41.82 496.64 42.37 C496.40 42.91 495.92 43.45 495.37 43.77 C494.82 44.09 494.44 44.21 493.33 44.29 C492.22 44.38 489.50 44.29 488.74 44.29" stroke="#333" stroke-width="1.05"/><path d="M492.51 44.29 C492.76 44.63 493.64 45.62 493.99 46.32 C494.35 47.02 494.39 47.91 494.66 48.50 C494.92 49.10 495.21 49.61 495.57 49.91 C495.94 50.20 496.49 50.36 496.85 50.27 C497.21 50.19 497.54 49.65 497.72 49.39 C497.89 49.13 497.89 48.82 497.92 48.71" stroke="#333" stroke-width="1.05"/><path d="M488.74 37.79 L488.74 51.00" stroke="#555" stroke-width="1.70"/>
<path d="M500.10 40.60 C500.23 40.38 500.50 39.62 500.90 39.24 C501.30 38.86 501.87 38.49 502.50 38.30 C503.13 38.10 503.97 38.02 504.70 38.09 C505.43 38.16 506.33 38.37 506.90 38.72 C507.47 39.07 507.87 39.73 508.10 40.19 C508.33 40.64 508.40 40.99 508.30 41.45 C508.20 41.90 507.95 42.44 507.50 42.91 C507.05 43.39 506.38 43.81 505.60 44.28 C504.82 44.75 503.58 45.28 502.80 45.75 C502.02 46.22 501.35 46.73 500.90 47.12 C500.45 47.50 500.25 47.45 500.10 48.06 C499.95 48.67 500.02 50.34 500.00 50.79" stroke="#333" stroke-width="1.05"/><path d="M500.10 48.06 C500.28 48.15 500.75 48.30 501.20 48.59 C501.65 48.87 502.22 49.36 502.80 49.74 C503.38 50.12 504.07 50.69 504.70 50.90 C505.33 51.11 506.08 51.09 506.60 51.00 C507.12 50.91 507.48 50.70 507.80 50.37 C508.12 50.04 508.37 49.36 508.50 49.01 C508.63 48.66 508.58 48.39 508.60 48.27" stroke="#333" stroke-width="1.05"/><circle cx="500.50" cy="41.23" r="0.60" fill="#333" stroke="none"/>
<path d="M119.37 405.49 L123.45 405.49" stroke="#333" stroke-width="1.05"/><path d="M119.37 418.70 L123.45 418.70" stroke="#333" stroke-width="1.05"/><path d="M121.41 405.49 C122.23 405.49 125.13 405.34 126.31 405.49 C127.48 405.64 127.91 405.93 128.45 406.38 C128.98 406.83 129.37 407.58 129.52 408.20 C129.66 408.81 129.56 409.52 129.31 410.07 C129.07 410.61 128.59 411.15 128.04 411.47 C127.49 411.79 127.10 411.91 126.00 411.99 C124.89 412.08 122.17 411.99 121.41 411.99" stroke="#333" stroke-width="1.05"/><path d="M125.18 411.99 C125.43 412.33 126.31 413.32 126.66 414.02 C127.02 414.72 127.06 415.61 127.33 416.20 C127.59 416.80 127.88 417.31 128.24 417.61 C128.61 417.90 129.16 418.06 129.52 417.97 C129.88 417.89 130.21 417.35 130.39 417.09 C130.56 416.83 130.56 416.52 130.59 416.41" stroke="#333" stroke-width="1.05"/><path d="M121.41 405.49 L121.41 418.70" stroke="#555" stroke-width="1.70"/>
<path d="M133.17 407.88 C133.34 407.61 133.65 406.62 134.17 406.20 C134.69 405.78 135.57 405.47 136.27 405.37 C136.97 405.26 137.74 405.31 138.37 405.57 C139.00 405.84 139.72 406.42 140.07 406.94 C140.42 407.46 140.57 408.16 140.47 408.72 C140.37 409.28 139.99 409.92 139.47 410.30 C138.95 410.69 137.90 410.89 137.37 411.03 C136.84 411.17 136.45 411.12 136.27 411.14" stroke="#333" stroke-width="1.05"/><path d="M136.27 411.14 C136.52 411.16 137.19 411.08 137.77 411.25 C138.35 411.41 139.24 411.66 139.77 412.14 C140.30 412.61 140.80 413.39 140.97 414.08 C141.14 414.77 141.02 415.65 140.77 416.28 C140.52 416.91 140.09 417.48 139.47 417.86 C138.85 418.25 137.89 418.54 137.07 418.59 C136.25 418.65 135.22 418.44 134.57 418.18 C133.92 417.91 133.44 417.46 133.17 417.02 C132.90 416.58 133.00 415.80 132.97 415.55" stroke="#333" stroke-width="1.05"/><circle cx="133.52" cy="408.31" r="0.60" fill="#333" stroke="none"/><circle cx="133.62" cy="415.24" r="0.60" fill="#333" stroke="none"/>
<path d="M486.80 405.49 L490.88 405.49" stroke="#333" stroke-width="1.05"/><path d="M486.80 418.70 L490.88 418.70" stroke="#333" stroke-width="1.05"/><path d="M488.84 405.49 C489.66 405.49 492.56 405.34 493.74 405.49 C494.91 405.64 495.34 405.93 495.88 406.38 C496.41 406.83 496.80 407.58 496.95 408.20 C497.09 408.81 496.99 409.52 496.75 410.07 C496.50 410.61 496.02 411.15 495.47 411.47 C494.92 411.79 494.54 411.91 493.43 411.99 C492.32 412.08 489.61 411.99 488.84 411.99" stroke="#333" stroke-width="1.05"/><path d="M492.61 411.99 C492.86 412.33 493.74 413.32 494.09 414.02 C494.45 414.72 494.49 415.61 494.76 416.20 C495.02 416.80 495.31 417.31 495.67 417.61 C496.04 417.90 496.59 418.06 496.95 417.97 C497.31 417.89 497.64 417.35 497.82 417.09 C497.99 416.83 497.99 416.52 498.02 416.41" stroke="#333" stroke-width="1.05"/><path d="M488.84 405.49 L488.84 418.70" stroke="#555" stroke-width="1.70"/>
<path d="M506.00 405.89 L500.36 414.60 L509.20 414.81" stroke="#333" stroke-width="1.05"/><path d="M504.20 418.70 L508.20 418.70" stroke="#333" stroke-width="1.05"/><path d="M506.15 405.89 L506.15 418.70" stroke="#555" stroke-width="1.70"/>
</g>
<g transform="translate(15.9 228.3) rotate(-90)" fill="none" stroke-linecap="round" stroke-linejoin="round">
<path d="M0.00 -12.90 L3.20 -12.90" stroke="#333" stroke-width="1.05"/><path d="M7.20 -12.90 L9.80 -12.90" stroke="#333" stroke-width="1.05"/><path d="M8.60 -12.90 L5.00 0.00" stroke="#333" stroke-width="1.05"/><path d="M1.50 -12.90 L5.00 0.00" stroke="#555" stroke-width="1.70"/>
<path d="M15.49 2.02 C15.35 1.87 14.97 1.35 14.63 1.13 C14.30 0.92 13.87 0.69 13.48 0.72 C13.10 0.76 12.65 0.99 12.32 1.34 C12.00 1.68 11.68 2.28 11.55 2.80 C11.43 3.32 11.43 3.98 11.55 4.46 C11.68 4.95 12.00 5.38 12.32 5.69 C12.65 5.99 13.10 6.25 13.48 6.30 C13.87 6.35 14.27 6.20 14.63 5.96 C15.00 5.72 15.48 5.05 15.65 4.87" stroke="#333" stroke-width="0.85"/><circle cx="15.32" cy="2.29" r="0.33" fill="#333" stroke="none"/>
<path d="M24.22 -14.80 Q14.98 -5.60 24.22 3.60" stroke="#333" stroke-width="1.05"/>
<path d="M27.00 -13.00 L28.93 -13.00" stroke="#333" stroke-width="1.05"/><path d="M27.00 0.00 L31.49 0.00" stroke="#333" stroke-width="1.05"/><path d="M36.31 -7.60 L29.35 -2.60" stroke="#333" stroke-width="1.05"/><path d="M34.06 -7.60 L37.27 -7.60" stroke="#333" stroke-width="1.05"/><path d="M31.82 -4.50 L35.35 0.00" stroke="#333" stroke-width="1.05"/><path d="M33.42 0.00 L36.95 0.00" stroke="#333" stroke-width="1.05"/><path d="M28.98 -13.00 L28.98 0.00" stroke="#555" stroke-width="1.70"/>
<path d="M39.20 -9.10 L40.90 -9.10" stroke="#333" stroke-width="1.05"/><path d="M39.20 0.00 L42.70 0.00" stroke="#333" stroke-width="1.05"/><path d="M46.30 0.00 L49.70 0.00" stroke="#333" stroke-width="1.05"/><path d="M53.40 0.00 L56.90 0.00" stroke="#333" stroke-width="1.05"/><path d="M40.90 -6.60 C41.22 -6.92 42.15 -8.08 42.80 -8.50 C43.45 -8.92 44.13 -9.12 44.80 -9.10 C45.47 -9.08 46.27 -8.87 46.80 -8.40 C47.33 -7.93 47.80 -7.70 48.00 -6.30 C48.20 -4.90 48.00 -1.05 48.00 0.00" stroke="#333" stroke-width="1.05"/><path d="M48.00 -6.60 C48.32 -6.92 49.25 -8.08 49.90 -8.50 C50.55 -8.92 51.23 -9.12 51.90 -9.10 C52.57 -9.08 53.37 -8.87 53.90 -8.40 C54.43 -7.93 54.90 -7.70 55.10 -6.30 C55.30 -4.90 55.10 -1.05 55.10 0.00" stroke="#333" stroke-width="1.05"/><path d="M40.95 -9.10 L40.95 0.00" stroke="#555" stroke-width="1.70"/>
<path d="M59.00 3.90 L70.03 -15.10" stroke="#333" stroke-width="1.05"/>
<path d="M78.70 -7.20 C78.47 -7.43 77.80 -8.28 77.30 -8.60 C76.80 -8.92 76.27 -9.10 75.70 -9.10 C75.13 -9.10 74.38 -8.90 73.90 -8.60 C73.42 -8.30 72.95 -7.75 72.80 -7.30 C72.65 -6.85 72.75 -6.28 73.00 -5.90 C73.25 -5.52 73.62 -5.28 74.30 -5.00 C74.98 -4.72 76.37 -4.48 77.10 -4.20 C77.83 -3.92 78.35 -3.67 78.70 -3.30 C79.05 -2.93 79.27 -2.45 79.20 -2.00 C79.13 -1.55 78.78 -0.93 78.30 -0.60 C77.82 -0.27 76.97 -0.05 76.30 0.00 C75.63 0.05 74.88 -0.05 74.30 -0.30 C73.72 -0.55 73.05 -1.30 72.80 -1.50" stroke="#333" stroke-width="1.05"/><circle cx="78.60" cy="-6.50" r="0.55" fill="#333" stroke="none"/><circle cx="72.80" cy="-2.40" r="0.55" fill="#333" stroke="none"/>
<path d="M82.50 -14.80 Q91.50 -5.60 82.50 3.60" stroke="#333" stroke-width="1.05"/>
</g>
<g transform="translate(15.9 600.3) rotate(-90)" fill="none" stroke-linecap="round" stroke-linejoin="round">
<path d="M0.00 -12.90 L3.20 -12.90" stroke="#333" stroke-width="1.05"/><path d="M7.20 -12.90 L9.80 -12.90" stroke="#333" stroke-width="1.05"/><path d="M8.60 -12.90 L5.00 0.00" stroke="#333" stroke-width="1.05"/><path d="M1.50 -12.90 L5.00 0.00" stroke="#555" stroke-width="1.70"/>
<path d="M15.49 2.02 C15.35 1.87 14.97 1.35 14.63 1.13 C14.30 0.92 13.87 0.69 13.48 0.72 C13.10 0.76 12.65 0.99 12.32 1.34 C12.00 1.68 11.68 2.28 11.55 2.80 C11.43 3.32 11.43 3.98 11.55 4.46 C11.68 4.95 12.00 5.38 12.32 5.69 C12.65 5.99 13.10 6.25 13.48 6.30 C13.87 6.35 14.27 6.20 14.63 5.96 C15.00 5.72 15.48 5.05 15.65 4.87" stroke="#333" stroke-width="0.85"/><circle cx="15.32" cy="2.29" r="0.33" fill="#333" stroke="none"/>
<path d="M24.22 -14.80 Q14.98 -5.60 24.22 3.60" stroke="#333" stroke-width="1.05"/>
<path d="M27.00 -13.00 L28.93 -13.00" stroke="#333" stroke-width="1.05"/><path d="M27.00 0.00 L31.49 0.00" stroke="#333" stroke-width="1.05"/><path d="M36.31 -7.60 L29.35 -2.60" stroke="#333" stroke-width="1.05"/><path d="M34.06 -7.60 L37.27 -7.60" stroke="#333" stroke-width="1.05"/><path d="M31.82 -4.50 L35.35 0.00" stroke="#333" stroke-width="1.05"/><path d="M33.42 0.00 L36.95 0.00" stroke="#333" stroke-width="1.05"/><path d="M28.98 -13.00 L28.98 0.00" stroke="#555" stroke-width="1.70"/>
<path d="M39.20 -9.10 L40.90 -9.10" stroke="#333" stroke-width="1.05"/><path d="M39.20 0.00 L42.70 0.00" stroke="#333" stroke-width="1.05"/><path d="M46.30 0.00 L49.70 0.00" stroke="#333" stroke-width="1.05"/><path d="M53.40 0.00 L56.90 0.00" stroke="#333" stroke-width="1.05"/><path d="M40.90 -6.60 C41.22 -6.92 42.15 -8.08 42.80 -8.50 C43.45 -8.92 44.13 -9.12 44.80 -9.10 C45.47 -9.08 46.27 -8.87 46.80 -8.40 C47.33 -7.93 47.80 -7.70 48.00 -6.30 C48.20 -4.90 48.00 -1.05 48.00 0.00" stroke="#333" stroke-width="1.05"/><path d="M48.00 -6.60 C48.32 -6.92 49.25 -8.08 49.90 -8.50 C50.55 -8.92 51.23 -9.12 51.90 -9.10 C52.57 -9.08 53.37 -8.87 53.90 -8.40 C54.43 -7.93 54.90 -7.70 55.10 -6.30 C55.30 -4.90 55.10 -1.05 55.10 0.00" stroke="#333" stroke-width="1.05"/><path d="M40.95 -9.10 L40.95 0.00" stroke="#555" stroke-width="1.70"/>
<path d="M59.00 3.90 L70.03 -15.10" stroke="#333" stroke-width="1.05"/>
<path d="M78.70 -7.20 C78.47 -7.43 77.80 -8.28 77.30 -8.60 C76.80 -8.92 76.27 -9.10 75.70 -9.10 C75.13 -9.10 74.38 -8.90 73.90 -8.60 C73.42 -8.30 72.95 -7.75 72.80 -7.30 C72.65 -6.85 72.75 -6.28 73.00 -5.90 C73.25 -5.52 73.62 -5.28 74.30 -5.00 C74.98 -4.72 76.37 -4.48 77.10 -4.20 C77.83 -3.92 78.35 -3.67 78.70 -3.30 C79.05 -2.93 79.27 -2.45 79.20 -2.00 C79.13 -1.55 78.78 -0.93 78.30 -0.60 C77.82 -0.27 76.97 -0.05 76.30 0.00 C75.63 0.05 74.88 -0.05 74.30 -0.30 C73.72 -0.55 73.05 -1.30 72.80 -1.50" stroke="#333" stroke-width="1.05"/><circle cx="78.60" cy="-6.50" r="0.55" fill="#333" stroke="none"/><circle cx="72.80" cy="-2.40" r="0.55" fill="#333" stroke="none"/>
<path d="M82.50 -14.80 Q91.50 -5.60 82.50 3.60" stroke="#333" stroke-width="1.05"/>
</g>
<path d="M303.3 413.1 H358.6" fill="none" stroke="#000" stroke-width="2.3" stroke-dasharray="21.6 2.8 1.5 2.4"/>
<path d="M303.3 432.4 H359.3" fill="none" stroke="#2a2a2a" stroke-width="0.85"/>
<path d="M303.1 451.9 H358.6" fill="none" stroke="#ff4646" stroke-width="1.0" stroke-dasharray="2.3 3.55"/>
<path d="M303.1 471.2 H358.6" fill="none" stroke="#6464ff" stroke-width="1" stroke-dasharray="11 9.5"/>
<path d="M303.1 490.5 H358.6" fill="none" stroke="#ff4cff" stroke-width="1" stroke-dasharray="29.3 9"/>
<g fill="none" stroke-linecap="round" stroke-linejoin="round">
<path d="M371.00 405.70 L381.30 405.70" stroke="#000" stroke-width="2.00"/><path d="M371.00 405.70 L371.15 408.90" stroke="#000" stroke-width="2.00"/><path d="M381.30 405.70 L381.15 408.90" stroke="#000" stroke-width="2.00"/><path d="M373.40 418.30 L378.80 418.30" stroke="#000" stroke-width="2.00"/><path d="M376.15 405.70 L376.15 418.30" stroke="#000" stroke-width="2.35"/>
<ellipse cx="386.60" cy="414.15" rx="3.50" ry="3.70" stroke="#000" stroke-width="2.15"/>
<path d="M393.80 410.10 L399.55 410.10" stroke="#000" stroke-width="2.00"/><path d="M396.50 417.40 C396.65 417.53 397.03 418.10 397.40 418.20 C397.77 418.30 398.27 418.22 398.70 418.00 C399.13 417.78 399.78 417.08 400.00 416.90" stroke="#000" stroke-width="2.00"/><path d="M396.25 405.90 L396.25 416.30 L396.50 417.40" stroke="#000" stroke-width="2.35"/>
<path d="M404.50 412.30 C404.68 412.07 405.15 411.27 405.60 410.90 C406.05 410.53 406.65 410.20 407.20 410.10 C407.75 410.00 408.43 410.10 408.90 410.30 C409.37 410.50 409.77 410.93 410.00 411.30 C410.22 411.67 410.21 412.30 410.25 412.50" stroke="#000" stroke-width="2.00"/><path d="M410.50 417.80 C410.63 417.88 410.97 418.30 411.30 418.30 C411.63 418.30 412.30 417.88 412.50 417.80" stroke="#000" stroke-width="2.00"/><path d="M410.25 413.50 C409.89 413.57 408.87 413.73 408.10 413.90 C407.32 414.07 406.27 414.23 405.60 414.50 C404.93 414.77 404.38 415.12 404.10 415.50 C403.82 415.88 403.77 416.38 403.90 416.80 C404.03 417.22 404.45 417.75 404.90 418.00 C405.35 418.25 405.98 418.35 406.60 418.30 C407.22 418.25 407.99 418.03 408.60 417.70 C409.21 417.37 409.97 416.53 410.25 416.30" stroke="#000" stroke-width="2.00"/><path d="M410.25 412.50 L410.25 417.10 L410.50 417.80" stroke="#000" stroke-width="2.35"/>
<path d="M414.70 405.40 L416.90 405.40" stroke="#000" stroke-width="2.00"/><path d="M414.70 418.30 L419.20 418.30" stroke="#000" stroke-width="2.00"/><path d="M416.95 405.40 L416.95 418.30" stroke="#000" stroke-width="2.35"/>
<ellipse cx="423.80" cy="419.97" rx="1.75" ry="3.00" stroke="#000" stroke-width="2.00"/>
<circle cx="428.64" cy="423.26" r="1.05" fill="#000" stroke="none"/>
<path d="M434.44 417.23 L431.33 421.63 L436.19 421.74" stroke="#000" stroke-width="1.80"/><path d="M433.44 423.70 L435.65 423.70" stroke="#000" stroke-width="1.80"/><path d="M434.52 417.23 L434.52 423.70" stroke="#000" stroke-width="2.00"/>
<path d="M371.10 425.30 L381.40 425.30" stroke="#333" stroke-width="1.05"/><path d="M371.10 425.30 L371.25 428.50" stroke="#333" stroke-width="1.05"/><path d="M381.40 425.30 L381.25 428.50" stroke="#333" stroke-width="1.05"/><path d="M373.50 437.90 L378.90 437.90" stroke="#333" stroke-width="1.05"/><path d="M376.25 425.30 L376.25 437.90" stroke="#555" stroke-width="1.70"/>
<ellipse cx="386.70" cy="433.75" rx="3.50" ry="3.70" stroke="#333" stroke-width="1.20"/>
<path d="M393.90 429.70 L399.65 429.70" stroke="#333" stroke-width="1.05"/><path d="M396.60 437.00 C396.75 437.13 397.13 437.70 397.50 437.80 C397.87 437.90 398.37 437.82 398.80 437.60 C399.23 437.38 399.88 436.68 400.10 436.50" stroke="#333" stroke-width="1.05"/><path d="M396.35 425.50 L396.35 435.90 L396.60 437.00" stroke="#555" stroke-width="1.70"/>
<path d="M404.60 431.90 C404.78 431.67 405.25 430.87 405.70 430.50 C406.15 430.13 406.75 429.80 407.30 429.70 C407.85 429.60 408.53 429.70 409.00 429.90 C409.47 430.10 409.88 430.53 410.10 430.90 C410.32 431.27 410.31 431.90 410.35 432.10" stroke="#333" stroke-width="1.05"/><path d="M410.60 437.40 C410.73 437.48 411.07 437.90 411.40 437.90 C411.73 437.90 412.40 437.48 412.60 437.40" stroke="#333" stroke-width="1.05"/><path d="M410.35 433.10 C409.99 433.17 408.97 433.33 408.20 433.50 C407.43 433.67 406.37 433.83 405.70 434.10 C405.03 434.37 404.48 434.72 404.20 435.10 C403.92 435.48 403.87 435.98 404.00 436.40 C404.13 436.82 404.55 437.35 405.00 437.60 C405.45 437.85 406.08 437.95 406.70 437.90 C407.32 437.85 408.09 437.63 408.70 437.30 C409.31 436.97 410.07 436.13 410.35 435.90" stroke="#333" stroke-width="1.05"/><path d="M410.35 432.10 L410.35 436.70 L410.60 437.40" stroke="#555" stroke-width="1.70"/>
<path d="M414.80 425.00 L417.00 425.00" stroke="#333" stroke-width="1.05"/><path d="M414.80 437.90 L419.30 437.90" stroke="#333" stroke-width="1.05"/><path d="M417.05 425.00 L417.05 437.90" stroke="#555" stroke-width="1.70"/>
<path d="M421.60 437.26 L423.49 436.14" stroke="#333" stroke-width="0.95"/><path d="M421.60 443.20 L425.52 443.20" stroke="#333" stroke-width="0.95"/><path d="M423.53 436.14 L423.53 443.20" stroke="#444" stroke-width="1.20"/>
<circle cx="427.81" cy="442.89" r="0.64" fill="#333" stroke="none"/>
<ellipse cx="433.50" cy="439.69" rx="2.46" ry="3.36" stroke="#333" stroke-width="1.05"/>
<path d="M371.00 444.50 L373.70 444.50" stroke="#ff2a2a" stroke-width="1.05"/><path d="M371.00 457.50 L373.70 457.50" stroke="#ff2a2a" stroke-width="1.05"/><path d="M373.70 444.50 C374.38 444.50 376.68 444.25 377.80 444.50 C378.92 444.75 379.71 445.32 380.40 446.00 C381.09 446.68 381.63 447.75 381.95 448.60 C382.27 449.45 382.32 450.22 382.30 451.10 C382.28 451.98 382.17 453.07 381.80 453.90 C381.43 454.73 380.77 455.50 380.10 456.10 C379.43 456.70 378.87 457.27 377.80 457.50 C376.73 457.73 374.38 457.50 373.70 457.50" stroke="#ff2a2a" stroke-width="1.05"/><path d="M373.75 444.50 L373.75 457.50" stroke="#ff4a4a" stroke-width="1.70"/>
<path d="M384.20 444.50 L386.50 444.50" stroke="#ff2a2a" stroke-width="1.05"/><path d="M384.20 457.50 L388.70 457.50" stroke="#ff2a2a" stroke-width="1.05"/><path d="M386.50 444.50 L386.50 457.50" stroke="#ff2a2a" stroke-width="1.05"/><path d="M390.65 457.30 L394.80 444.50" stroke="#ff2a2a" stroke-width="1.05"/><path d="M394.80 444.50 L397.10 444.50" stroke="#ff2a2a" stroke-width="1.05"/><path d="M392.50 457.50 L397.10 457.50" stroke="#ff2a2a" stroke-width="1.05"/><path d="M386.55 444.50 L390.65 457.30" stroke="#ff4a4a" stroke-width="1.70"/><path d="M394.80 444.50 L394.80 457.50" stroke="#ff4a4a" stroke-width="1.70"/>
<path d="M378.00 470.76 C378.13 470.58 378.52 469.89 378.80 469.66 C379.08 469.43 379.55 469.43 379.70 469.38" stroke="#3030ff" stroke-width="1.05"/><path d="M373.30 475.09 C373.10 475.32 372.10 476.07 372.10 476.47 C372.10 476.87 372.48 477.27 373.30 477.48 C374.12 477.69 376.00 477.53 377.00 477.71 C378.00 477.89 378.85 478.22 379.30 478.54 C379.75 478.85 379.95 479.31 379.70 479.60 C379.45 479.88 378.87 480.13 377.80 480.24 C376.73 480.35 374.37 480.41 373.30 480.24 C372.23 480.07 371.72 479.57 371.40 479.23 C371.08 478.89 371.15 478.51 371.40 478.22 C371.65 477.92 372.65 477.60 372.90 477.48" stroke="#3030ff" stroke-width="1.05"/><ellipse cx="375.20" cy="472.33" rx="3.00" ry="3.13" stroke="#3030ff" stroke-width="1.20"/>
<path d="M383.80 470.58 C383.98 470.37 384.45 469.63 384.90 469.29 C385.35 468.95 385.95 468.65 386.50 468.56 C387.05 468.46 387.73 468.56 388.20 468.74 C388.67 468.92 389.07 469.32 389.30 469.66 C389.52 470.00 389.51 470.58 389.55 470.76" stroke="#3030ff" stroke-width="1.05"/><path d="M389.80 475.64 C389.93 475.72 390.27 476.10 390.60 476.10 C390.93 476.10 391.60 475.72 391.80 475.64" stroke="#3030ff" stroke-width="1.05"/><path d="M389.55 471.68 C389.19 471.75 388.17 471.90 387.40 472.05 C386.62 472.21 385.57 472.36 384.90 472.60 C384.23 472.85 383.68 473.17 383.40 473.52 C383.12 473.88 383.07 474.34 383.20 474.72 C383.33 475.10 383.75 475.59 384.20 475.82 C384.65 476.05 385.28 476.15 385.90 476.10 C386.52 476.05 387.29 475.85 387.90 475.55 C388.51 475.24 389.27 474.47 389.55 474.26" stroke="#3030ff" stroke-width="1.05"/><path d="M389.55 470.76 L389.55 475.00 L389.80 475.64" stroke="#5050ff" stroke-width="1.70"/>
<path d="M401.20 469.48 C400.97 469.26 400.30 468.48 399.80 468.19 C399.30 467.90 398.77 467.73 398.20 467.73 C397.63 467.73 396.88 467.91 396.40 468.19 C395.92 468.46 395.45 468.97 395.30 469.38 C395.15 469.80 395.25 470.32 395.50 470.67 C395.75 471.02 396.12 471.24 396.80 471.50 C397.48 471.76 398.87 471.98 399.60 472.24 C400.33 472.50 400.85 472.73 401.20 473.06 C401.55 473.40 401.77 473.85 401.70 474.26 C401.63 474.67 401.28 475.24 400.80 475.55 C400.32 475.85 399.47 476.05 398.80 476.10 C398.13 476.15 397.38 476.05 396.80 475.82 C396.22 475.59 395.55 474.90 395.30 474.72" stroke="#3030ff" stroke-width="1.05"/><circle cx="401.10" cy="470.12" r="0.55" fill="#3030ff" stroke="none"/><circle cx="395.30" cy="473.89" r="0.55" fill="#3030ff" stroke="none"/>
<path d="M377.80 488.78 C377.57 488.56 376.90 487.78 376.40 487.49 C375.90 487.20 375.37 487.03 374.80 487.03 C374.23 487.03 373.48 487.21 373.00 487.49 C372.52 487.76 372.05 488.27 371.90 488.68 C371.75 489.10 371.85 489.62 372.10 489.97 C372.35 490.32 372.72 490.54 373.40 490.80 C374.08 491.06 375.47 491.28 376.20 491.54 C376.93 491.80 377.45 492.03 377.80 492.36 C378.15 492.70 378.37 493.15 378.30 493.56 C378.23 493.97 377.88 494.54 377.40 494.85 C376.92 495.15 376.07 495.35 375.40 495.40 C374.73 495.45 373.98 495.35 373.40 495.12 C372.82 494.89 372.15 494.20 371.90 494.02" stroke="#ff30ff" stroke-width="1.05"/><circle cx="377.70" cy="489.42" r="0.55" fill="#ff30ff" stroke="none"/><circle cx="371.90" cy="493.19" r="0.55" fill="#ff30ff" stroke="none"/>
<path d="M381.00 487.86 L386.75 487.86" stroke="#ff30ff" stroke-width="1.05"/><path d="M383.70 494.57 C383.85 494.69 384.23 495.22 384.60 495.31 C384.97 495.40 385.47 495.32 385.90 495.12 C386.33 494.92 386.98 494.28 387.20 494.11" stroke="#ff30ff" stroke-width="1.05"/><path d="M383.45 483.99 L383.45 493.56 L383.70 494.57" stroke="#ff50ff" stroke-width="1.70"/>
<path d="M391.60 489.88 C391.78 489.67 392.25 488.93 392.70 488.59 C393.15 488.25 393.75 487.95 394.30 487.86 C394.85 487.76 395.53 487.86 396.00 488.04 C396.47 488.22 396.88 488.62 397.10 488.96 C397.32 489.30 397.31 489.88 397.35 490.06" stroke="#ff30ff" stroke-width="1.05"/><path d="M397.60 494.94 C397.73 495.02 398.07 495.40 398.40 495.40 C398.73 495.40 399.40 495.02 399.60 494.94" stroke="#ff30ff" stroke-width="1.05"/><path d="M397.35 490.98 C396.99 491.05 395.97 491.20 395.20 491.35 C394.43 491.51 393.37 491.66 392.70 491.90 C392.03 492.15 391.48 492.47 391.20 492.82 C390.92 493.18 390.87 493.64 391.00 494.02 C391.13 494.40 391.55 494.89 392.00 495.12 C392.45 495.35 393.08 495.45 393.70 495.40 C394.32 495.35 395.09 495.15 395.70 494.85 C396.31 494.54 397.07 493.77 397.35 493.56" stroke="#ff30ff" stroke-width="1.05"/><path d="M397.35 490.06 L397.35 494.30 L397.60 494.94" stroke="#ff50ff" stroke-width="1.70"/>
<path d="M401.60 488.41 L404.25 488.41" stroke="#ff30ff" stroke-width="1.05"/><path d="M401.60 495.40 L407.30 495.40" stroke="#ff30ff" stroke-width="1.05"/><path d="M404.25 491.26 C404.56 490.91 405.41 489.63 406.10 489.14 C406.79 488.65 407.78 488.33 408.40 488.32 C409.02 488.30 409.57 488.93 409.80 489.05" stroke="#ff30ff" stroke-width="1.05"/><path d="M404.30 488.41 L404.30 495.40" stroke="#ff50ff" stroke-width="1.70"/><circle cx="409.40" cy="489.60" r="0.60" fill="#ff30ff" stroke="none"/>
<path d="M418.80 488.78 C418.57 488.56 417.90 487.78 417.40 487.49 C416.90 487.20 416.37 487.03 415.80 487.03 C415.23 487.03 414.48 487.21 414.00 487.49 C413.52 487.76 413.05 488.27 412.90 488.68 C412.75 489.10 412.85 489.62 413.10 489.97 C413.35 490.32 413.72 490.54 414.40 490.80 C415.08 491.06 416.47 491.28 417.20 491.54 C417.93 491.80 418.45 492.03 418.80 492.36 C419.15 492.70 419.37 493.15 419.30 493.56 C419.23 493.97 418.88 494.54 418.40 494.85 C417.92 495.15 417.07 495.35 416.40 495.40 C415.73 495.45 414.98 495.35 414.40 495.12 C413.82 494.89 413.15 494.20 412.90 494.02" stroke="#ff30ff" stroke-width="1.05"/><circle cx="418.70" cy="489.42" r="0.55" fill="#ff30ff" stroke="none"/><circle cx="412.90" cy="493.19" r="0.55" fill="#ff30ff" stroke="none"/>
</g>
</g>
</svg>
</body></html>
